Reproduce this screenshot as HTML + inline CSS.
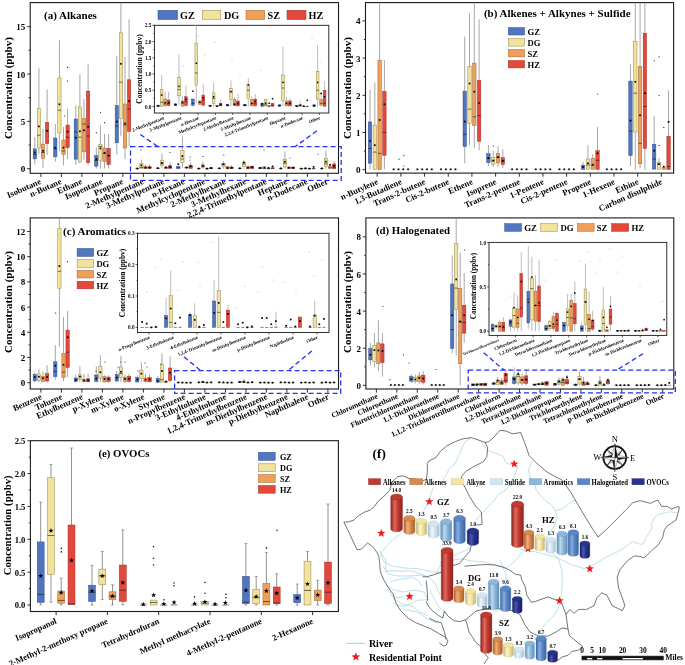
<!DOCTYPE html>
<html><head><meta charset="utf-8"><style>
html,body{margin:0;padding:0;background:#fff;}
svg{display:block;will-change:transform;}
</style></head><body>
<svg width="685" height="665" viewBox="0 0 685 665">
<rect width="685" height="665" fill="#fff"/>
<defs><linearGradient id="g0" x1="0" x2="1" y1="0" y2="0"><stop offset="0" stop-color="#8e231d"/><stop offset="0.35" stop-color="#e06a5e"/><stop offset="0.6" stop-color="#c03a32"/><stop offset="1" stop-color="#8e231d"/></linearGradient><linearGradient id="g1" x1="0" x2="1" y1="0" y2="0"><stop offset="0" stop-color="#a8602e"/><stop offset="0.35" stop-color="#f0ae78"/><stop offset="0.6" stop-color="#d98a4e"/><stop offset="1" stop-color="#a8602e"/></linearGradient><linearGradient id="g2" x1="0" x2="1" y1="0" y2="0"><stop offset="0" stop-color="#c4b574"/><stop offset="0.35" stop-color="#fbf3cc"/><stop offset="0.6" stop-color="#f1e5a4"/><stop offset="1" stop-color="#c4b574"/></linearGradient><linearGradient id="g3" x1="0" x2="1" y1="0" y2="0"><stop offset="0" stop-color="#a8bfd0"/><stop offset="0.35" stop-color="#eef6fb"/><stop offset="0.6" stop-color="#d3e5f1"/><stop offset="1" stop-color="#a8bfd0"/></linearGradient><linearGradient id="g4" x1="0" x2="1" y1="0" y2="0"><stop offset="0" stop-color="#5f8fb8"/><stop offset="0.35" stop-color="#bcd8ef"/><stop offset="0.6" stop-color="#8cb7dc"/><stop offset="1" stop-color="#5f8fb8"/></linearGradient><linearGradient id="g5" x1="0" x2="1" y1="0" y2="0"><stop offset="0" stop-color="#3b65a2"/><stop offset="0.35" stop-color="#8aaee0"/><stop offset="0.6" stop-color="#5a88c6"/><stop offset="1" stop-color="#3b65a2"/></linearGradient><linearGradient id="g6" x1="0" x2="1" y1="0" y2="0"><stop offset="0" stop-color="#161f60"/><stop offset="0.35" stop-color="#4a56b0"/><stop offset="0.6" stop-color="#27338c"/><stop offset="1" stop-color="#161f60"/></linearGradient></defs>
<rect x="30.2" y="2.6" width="308.3" height="170.7" fill="none" stroke="#1a1a1a" stroke-width="1.1"/>
<line x1="27.2" y1="168.7" x2="30.2" y2="168.7" stroke="#1a1a1a" stroke-width="0.9"/>
<text x="25.2" y="172.21" font-size="9" text-anchor="end" font-family="Liberation Serif" font-weight="bold">0</text>
<line x1="27.2" y1="121.35" x2="30.2" y2="121.35" stroke="#1a1a1a" stroke-width="0.9"/>
<text x="25.2" y="124.86" font-size="9" text-anchor="end" font-family="Liberation Serif" font-weight="bold">5</text>
<line x1="27.2" y1="74" x2="30.2" y2="74" stroke="#1a1a1a" stroke-width="0.9"/>
<text x="25.2" y="77.51" font-size="9" text-anchor="end" font-family="Liberation Serif" font-weight="bold">10</text>
<line x1="27.2" y1="26.65" x2="30.2" y2="26.65" stroke="#1a1a1a" stroke-width="0.9"/>
<text x="25.2" y="30.16" font-size="9" text-anchor="end" font-family="Liberation Serif" font-weight="bold">15</text>
<line x1="28.6" y1="145.02" x2="30.2" y2="145.02" stroke="#1a1a1a" stroke-width="0.9"/>
<line x1="28.6" y1="97.67" x2="30.2" y2="97.67" stroke="#1a1a1a" stroke-width="0.9"/>
<line x1="28.6" y1="50.32" x2="30.2" y2="50.32" stroke="#1a1a1a" stroke-width="0.9"/>
<text transform="translate(8,88) rotate(-90)" font-size="11" text-anchor="middle" dominant-baseline="central" font-family="Liberation Serif" font-weight="bold">Concentration (ppbv)</text>
<line x1="40.9" y1="173.3" x2="40.9" y2="176.9" stroke="#1a1a1a" stroke-width="0.9"/>
<line x1="61.4" y1="173.3" x2="61.4" y2="176.9" stroke="#1a1a1a" stroke-width="0.9"/>
<line x1="81.9" y1="173.3" x2="81.9" y2="176.9" stroke="#1a1a1a" stroke-width="0.9"/>
<line x1="102.4" y1="173.3" x2="102.4" y2="176.9" stroke="#1a1a1a" stroke-width="0.9"/>
<line x1="122.9" y1="173.3" x2="122.9" y2="176.9" stroke="#1a1a1a" stroke-width="0.9"/>
<line x1="143.4" y1="173.3" x2="143.4" y2="176.9" stroke="#1a1a1a" stroke-width="0.9"/>
<line x1="163.9" y1="173.3" x2="163.9" y2="176.9" stroke="#1a1a1a" stroke-width="0.9"/>
<line x1="184.4" y1="173.3" x2="184.4" y2="176.9" stroke="#1a1a1a" stroke-width="0.9"/>
<line x1="204.9" y1="173.3" x2="204.9" y2="176.9" stroke="#1a1a1a" stroke-width="0.9"/>
<line x1="225.4" y1="173.3" x2="225.4" y2="176.9" stroke="#1a1a1a" stroke-width="0.9"/>
<line x1="245.9" y1="173.3" x2="245.9" y2="176.9" stroke="#1a1a1a" stroke-width="0.9"/>
<line x1="266.4" y1="173.3" x2="266.4" y2="176.9" stroke="#1a1a1a" stroke-width="0.9"/>
<line x1="286.9" y1="173.3" x2="286.9" y2="176.9" stroke="#1a1a1a" stroke-width="0.9"/>
<line x1="307.4" y1="173.3" x2="307.4" y2="176.9" stroke="#1a1a1a" stroke-width="0.9"/>
<line x1="327.9" y1="173.3" x2="327.9" y2="176.9" stroke="#1a1a1a" stroke-width="0.9"/>
<line x1="34.8" y1="136.9" x2="34.8" y2="148.9" stroke="#8a8a8a" stroke-width="0.75"/>
<line x1="34.8" y1="158.9" x2="34.8" y2="164.5" stroke="#8a8a8a" stroke-width="0.75"/>
<rect x="33.15" y="148.9" width="3.3" height="10" fill="#5175be" stroke="#2f4f8c" stroke-width="0.5"/>
<line x1="33.15" y1="154.5" x2="36.45" y2="154.5" stroke="#111" stroke-width="0.6"/>
<rect x="33.95" y="151.55" width="1.7" height="1.7" fill="#000"/>
<line x1="38.9" y1="68.3" x2="38.9" y2="108.6" stroke="#8a8a8a" stroke-width="0.75"/>
<line x1="38.9" y1="148" x2="38.9" y2="154" stroke="#8a8a8a" stroke-width="0.75"/>
<rect x="37.25" y="108.6" width="3.3" height="39.4" fill="#f2e29c" stroke="#8f8450" stroke-width="0.5"/>
<line x1="37.25" y1="135.3" x2="40.55" y2="135.3" stroke="#111" stroke-width="0.6"/>
<rect x="38.05" y="125.55" width="1.7" height="1.7" fill="#000"/>
<line x1="43" y1="128.7" x2="43" y2="144.1" stroke="#8a8a8a" stroke-width="0.75"/>
<line x1="43" y1="158.4" x2="43" y2="167.7" stroke="#8a8a8a" stroke-width="0.75"/>
<rect x="41.35" y="144.1" width="3.3" height="14.3" fill="#ef9f58" stroke="#9c6433" stroke-width="0.5"/>
<line x1="41.35" y1="152.5" x2="44.65" y2="152.5" stroke="#111" stroke-width="0.6"/>
<rect x="42.15" y="149.95" width="1.7" height="1.7" fill="#000"/>
<line x1="47.1" y1="89.3" x2="47.1" y2="122.3" stroke="#8a8a8a" stroke-width="0.75"/>
<line x1="47.1" y1="143.6" x2="47.1" y2="154.9" stroke="#8a8a8a" stroke-width="0.75"/>
<rect x="45.45" y="122.3" width="3.3" height="21.3" fill="#e4483b" stroke="#9a2e24" stroke-width="0.5"/>
<line x1="45.45" y1="131" x2="48.75" y2="131" stroke="#111" stroke-width="0.6"/>
<rect x="46.25" y="129.95" width="1.7" height="1.7" fill="#000"/>
<line x1="55.3" y1="124" x2="55.3" y2="138" stroke="#8a8a8a" stroke-width="0.75"/>
<line x1="55.3" y1="156.8" x2="55.3" y2="161.8" stroke="#8a8a8a" stroke-width="0.75"/>
<rect x="53.65" y="138" width="3.3" height="18.8" fill="#5175be" stroke="#2f4f8c" stroke-width="0.5"/>
<line x1="53.65" y1="149" x2="56.95" y2="149" stroke="#111" stroke-width="0.6"/>
<rect x="54.45" y="146.75" width="1.7" height="1.7" fill="#000"/>
<line x1="59.4" y1="40.1" x2="59.4" y2="77.9" stroke="#8a8a8a" stroke-width="0.75"/>
<line x1="59.4" y1="132.9" x2="59.4" y2="150.8" stroke="#8a8a8a" stroke-width="0.75"/>
<rect x="57.75" y="77.9" width="3.3" height="55" fill="#f2e29c" stroke="#8f8450" stroke-width="0.5"/>
<line x1="57.75" y1="110.2" x2="61.05" y2="110.2" stroke="#111" stroke-width="0.6"/>
<rect x="58.55" y="103.45" width="1.7" height="1.7" fill="#000"/>
<line x1="63.5" y1="127" x2="63.5" y2="140" stroke="#8a8a8a" stroke-width="0.75"/>
<line x1="63.5" y1="154.4" x2="63.5" y2="165.3" stroke="#8a8a8a" stroke-width="0.75"/>
<rect x="61.85" y="140" width="3.3" height="14.4" fill="#ef9f58" stroke="#9c6433" stroke-width="0.5"/>
<line x1="61.85" y1="151" x2="65.15" y2="151" stroke="#111" stroke-width="0.6"/>
<rect x="62.65" y="146.75" width="1.7" height="1.7" fill="#000"/>
<line x1="67.6" y1="108.8" x2="67.6" y2="125.1" stroke="#8a8a8a" stroke-width="0.75"/>
<line x1="67.6" y1="147.6" x2="67.6" y2="158.9" stroke="#8a8a8a" stroke-width="0.75"/>
<rect x="65.95" y="125.1" width="3.3" height="22.5" fill="#e4483b" stroke="#9a2e24" stroke-width="0.5"/>
<line x1="65.95" y1="137.2" x2="69.25" y2="137.2" stroke="#111" stroke-width="0.6"/>
<rect x="66.75" y="130.75" width="1.7" height="1.7" fill="#000"/>
<line x1="75.8" y1="105.4" x2="75.8" y2="119" stroke="#8a8a8a" stroke-width="0.75"/>
<line x1="75.8" y1="159.2" x2="75.8" y2="164.5" stroke="#8a8a8a" stroke-width="0.75"/>
<rect x="74.15" y="119" width="3.3" height="40.2" fill="#5175be" stroke="#2f4f8c" stroke-width="0.5"/>
<line x1="74.15" y1="132" x2="77.45" y2="132" stroke="#111" stroke-width="0.6"/>
<rect x="74.95" y="136.85" width="1.7" height="1.7" fill="#000"/>
<line x1="79.9" y1="74.2" x2="79.9" y2="107" stroke="#8a8a8a" stroke-width="0.75"/>
<line x1="79.9" y1="161.4" x2="79.9" y2="163.4" stroke="#8a8a8a" stroke-width="0.75"/>
<rect x="78.25" y="107" width="3.3" height="54.4" fill="#f2e29c" stroke="#8f8450" stroke-width="0.5"/>
<line x1="78.25" y1="137.2" x2="81.55" y2="137.2" stroke="#111" stroke-width="0.6"/>
<rect x="79.05" y="130.45" width="1.7" height="1.7" fill="#000"/>
<line x1="84" y1="99.1" x2="84" y2="118.4" stroke="#8a8a8a" stroke-width="0.75"/>
<line x1="84" y1="151.8" x2="84" y2="159.7" stroke="#8a8a8a" stroke-width="0.75"/>
<rect x="82.35" y="118.4" width="3.3" height="33.4" fill="#ef9f58" stroke="#9c6433" stroke-width="0.5"/>
<line x1="82.35" y1="124" x2="85.65" y2="124" stroke="#111" stroke-width="0.6"/>
<rect x="83.15" y="129.45" width="1.7" height="1.7" fill="#000"/>
<line x1="88.1" y1="63.9" x2="88.1" y2="91.1" stroke="#8a8a8a" stroke-width="0.75"/>
<line x1="88.1" y1="162.7" x2="88.1" y2="165.3" stroke="#8a8a8a" stroke-width="0.75"/>
<rect x="86.45" y="91.1" width="3.3" height="71.6" fill="#e4483b" stroke="#9a2e24" stroke-width="0.5"/>
<line x1="86.45" y1="136" x2="89.75" y2="136" stroke="#111" stroke-width="0.6"/>
<rect x="87.25" y="125.95" width="1.7" height="1.7" fill="#000"/>
<line x1="96.3" y1="147.3" x2="96.3" y2="155.7" stroke="#8a8a8a" stroke-width="0.75"/>
<line x1="96.3" y1="166.1" x2="96.3" y2="168.5" stroke="#8a8a8a" stroke-width="0.75"/>
<rect x="94.65" y="155.7" width="3.3" height="10.4" fill="#5175be" stroke="#2f4f8c" stroke-width="0.5"/>
<line x1="94.65" y1="160.5" x2="97.95" y2="160.5" stroke="#111" stroke-width="0.6"/>
<rect x="95.45" y="158.35" width="1.7" height="1.7" fill="#000"/>
<line x1="100.4" y1="125.1" x2="100.4" y2="144.4" stroke="#8a8a8a" stroke-width="0.75"/>
<line x1="100.4" y1="160.5" x2="100.4" y2="168.5" stroke="#8a8a8a" stroke-width="0.75"/>
<rect x="98.75" y="144.4" width="3.3" height="16.1" fill="#f2e29c" stroke="#8f8450" stroke-width="0.5"/>
<line x1="98.75" y1="146.5" x2="102.05" y2="146.5" stroke="#111" stroke-width="0.6"/>
<rect x="99.55" y="147.55" width="1.7" height="1.7" fill="#000"/>
<line x1="104.5" y1="134" x2="104.5" y2="148" stroke="#8a8a8a" stroke-width="0.75"/>
<line x1="104.5" y1="161.6" x2="104.5" y2="168.5" stroke="#8a8a8a" stroke-width="0.75"/>
<rect x="102.85" y="148" width="3.3" height="13.6" fill="#ef9f58" stroke="#9c6433" stroke-width="0.5"/>
<line x1="102.85" y1="153.5" x2="106.15" y2="153.5" stroke="#111" stroke-width="0.6"/>
<rect x="103.65" y="151.95" width="1.7" height="1.7" fill="#000"/>
<line x1="108.6" y1="134" x2="108.6" y2="148.4" stroke="#8a8a8a" stroke-width="0.75"/>
<line x1="108.6" y1="164.5" x2="108.6" y2="168.5" stroke="#8a8a8a" stroke-width="0.75"/>
<rect x="106.95" y="148.4" width="3.3" height="16.1" fill="#e4483b" stroke="#9a2e24" stroke-width="0.5"/>
<line x1="106.95" y1="155.5" x2="110.25" y2="155.5" stroke="#111" stroke-width="0.6"/>
<rect x="107.75" y="154.85" width="1.7" height="1.7" fill="#000"/>
<line x1="116.8" y1="56.2" x2="116.8" y2="105.6" stroke="#8a8a8a" stroke-width="0.75"/>
<line x1="116.8" y1="142.8" x2="116.8" y2="154.4" stroke="#8a8a8a" stroke-width="0.75"/>
<rect x="115.15" y="105.6" width="3.3" height="37.2" fill="#5175be" stroke="#2f4f8c" stroke-width="0.5"/>
<line x1="115.15" y1="126" x2="118.45" y2="126" stroke="#111" stroke-width="0.6"/>
<rect x="115.95" y="120.75" width="1.7" height="1.7" fill="#000"/>
<line x1="120.9" y1="2.6" x2="120.9" y2="32.9" stroke="#8a8a8a" stroke-width="0.75"/>
<line x1="120.9" y1="118.4" x2="120.9" y2="136.4" stroke="#8a8a8a" stroke-width="0.75"/>
<rect x="119.25" y="32.9" width="3.3" height="85.5" fill="#f2e29c" stroke="#8f8450" stroke-width="0.5"/>
<line x1="119.25" y1="82.2" x2="122.55" y2="82.2" stroke="#111" stroke-width="0.6"/>
<rect x="120.05" y="62.95" width="1.7" height="1.7" fill="#000"/>
<line x1="125" y1="57" x2="125" y2="104" stroke="#8a8a8a" stroke-width="0.75"/>
<line x1="125" y1="148" x2="125" y2="159.2" stroke="#8a8a8a" stroke-width="0.75"/>
<rect x="123.35" y="104" width="3.3" height="44" fill="#ef9f58" stroke="#9c6433" stroke-width="0.5"/>
<line x1="123.35" y1="125" x2="126.65" y2="125" stroke="#111" stroke-width="0.6"/>
<rect x="124.15" y="122.65" width="1.7" height="1.7" fill="#000"/>
<line x1="129.1" y1="19.3" x2="129.1" y2="79.8" stroke="#8a8a8a" stroke-width="0.75"/>
<line x1="129.1" y1="131.3" x2="129.1" y2="146" stroke="#8a8a8a" stroke-width="0.75"/>
<rect x="127.45" y="79.8" width="3.3" height="51.5" fill="#e4483b" stroke="#9a2e24" stroke-width="0.5"/>
<line x1="127.45" y1="109" x2="130.75" y2="109" stroke="#111" stroke-width="0.6"/>
<rect x="128.25" y="100.15" width="1.7" height="1.7" fill="#000"/>
<line x1="137.3" y1="168.23" x2="137.3" y2="168.32" stroke="#8a8a8a" stroke-width="0.75"/>
<line x1="135.65" y1="168.7" x2="138.95" y2="168.7" stroke="#666" stroke-width="0.8"/>
<line x1="135.65" y1="168.51" x2="138.95" y2="168.51" stroke="#111" stroke-width="0.6"/>
<rect x="136.45" y="167.66" width="1.7" height="1.7" fill="#000"/>
<line x1="141.4" y1="159.51" x2="141.4" y2="163.68" stroke="#8a8a8a" stroke-width="0.75"/>
<rect x="139.75" y="163.68" width="3.3" height="5.02" fill="#f2e29c" stroke="#8f8450" stroke-width="0.5"/>
<line x1="139.75" y1="167.47" x2="143.05" y2="167.47" stroke="#111" stroke-width="0.6"/>
<rect x="140.55" y="164.54" width="1.7" height="1.7" fill="#000"/>
<line x1="145.5" y1="164.44" x2="145.5" y2="166.52" stroke="#8a8a8a" stroke-width="0.75"/>
<line x1="145.5" y1="168.51" x2="145.5" y2="168.7" stroke="#8a8a8a" stroke-width="0.75"/>
<rect x="143.85" y="166.52" width="3.3" height="1.99" fill="#ef9f58" stroke="#9c6433" stroke-width="0.5"/>
<line x1="143.85" y1="167.94" x2="147.15" y2="167.94" stroke="#111" stroke-width="0.6"/>
<rect x="144.65" y="166.71" width="1.7" height="1.7" fill="#000"/>
<line x1="149.6" y1="164.44" x2="149.6" y2="166.81" stroke="#8a8a8a" stroke-width="0.75"/>
<line x1="149.6" y1="168.42" x2="149.6" y2="168.7" stroke="#8a8a8a" stroke-width="0.75"/>
<rect x="147.95" y="166.81" width="3.3" height="1.61" fill="#e4483b" stroke="#9a2e24" stroke-width="0.5"/>
<line x1="147.95" y1="167.75" x2="151.25" y2="167.75" stroke="#111" stroke-width="0.6"/>
<rect x="148.75" y="166.71" width="1.7" height="1.7" fill="#000"/>
<line x1="157.8" y1="167.75" x2="157.8" y2="167.94" stroke="#8a8a8a" stroke-width="0.75"/>
<line x1="157.8" y1="168.42" x2="157.8" y2="168.51" stroke="#8a8a8a" stroke-width="0.75"/>
<line x1="156.15" y1="168.42" x2="159.45" y2="168.42" stroke="#666" stroke-width="0.8"/>
<line x1="156.15" y1="168.23" x2="159.45" y2="168.23" stroke="#111" stroke-width="0.6"/>
<rect x="156.95" y="167.28" width="1.7" height="1.7" fill="#000"/>
<line x1="161.9" y1="153.55" x2="161.9" y2="160.18" stroke="#8a8a8a" stroke-width="0.75"/>
<line x1="161.9" y1="165.57" x2="161.9" y2="168.23" stroke="#8a8a8a" stroke-width="0.75"/>
<rect x="160.25" y="160.18" width="3.3" height="5.4" fill="#f2e29c" stroke="#8f8450" stroke-width="0.5"/>
<line x1="160.25" y1="163.78" x2="163.55" y2="163.78" stroke="#111" stroke-width="0.6"/>
<rect x="161.05" y="161.98" width="1.7" height="1.7" fill="#000"/>
<line x1="166" y1="165.67" x2="166" y2="167.09" stroke="#8a8a8a" stroke-width="0.75"/>
<line x1="166" y1="168.61" x2="166" y2="168.7" stroke="#8a8a8a" stroke-width="0.75"/>
<rect x="164.35" y="167.09" width="3.3" height="1.52" fill="#ef9f58" stroke="#9c6433" stroke-width="0.5"/>
<line x1="164.35" y1="167.75" x2="167.65" y2="167.75" stroke="#111" stroke-width="0.6"/>
<rect x="165.15" y="166.62" width="1.7" height="1.7" fill="#000"/>
<line x1="170.1" y1="162.54" x2="170.1" y2="165.86" stroke="#8a8a8a" stroke-width="0.75"/>
<line x1="170.1" y1="168.42" x2="170.1" y2="168.7" stroke="#8a8a8a" stroke-width="0.75"/>
<rect x="168.45" y="165.86" width="3.3" height="2.56" fill="#e4483b" stroke="#9a2e24" stroke-width="0.5"/>
<line x1="168.45" y1="167.28" x2="171.75" y2="167.28" stroke="#111" stroke-width="0.6"/>
<rect x="169.25" y="165.77" width="1.7" height="1.7" fill="#000"/>
<line x1="178.3" y1="168.42" x2="178.3" y2="168.7" stroke="#8a8a8a" stroke-width="0.75"/>
<rect x="176.65" y="166.52" width="3.3" height="1.89" fill="#5175be" stroke="#2f4f8c" stroke-width="0.5"/>
<line x1="176.65" y1="167.75" x2="179.95" y2="167.75" stroke="#111" stroke-width="0.6"/>
<rect x="177.45" y="163.4" width="1.7" height="1.7" fill="#000"/>
<line x1="182.4" y1="136.5" x2="182.4" y2="150.23" stroke="#8a8a8a" stroke-width="0.75"/>
<line x1="182.4" y1="162.54" x2="182.4" y2="167.75" stroke="#8a8a8a" stroke-width="0.75"/>
<rect x="180.75" y="150.23" width="3.3" height="12.31" fill="#f2e29c" stroke="#8f8450" stroke-width="0.5"/>
<line x1="180.75" y1="158.95" x2="184.05" y2="158.95" stroke="#111" stroke-width="0.6"/>
<rect x="181.55" y="155.25" width="1.7" height="1.7" fill="#000"/>
<line x1="186.5" y1="166.81" x2="186.5" y2="167.09" stroke="#8a8a8a" stroke-width="0.75"/>
<line x1="186.5" y1="168.04" x2="186.5" y2="168.23" stroke="#8a8a8a" stroke-width="0.75"/>
<rect x="184.85" y="167.09" width="3.3" height="0.95" fill="#ef9f58" stroke="#9c6433" stroke-width="0.5"/>
<line x1="184.85" y1="167.56" x2="188.15" y2="167.56" stroke="#111" stroke-width="0.6"/>
<rect x="185.65" y="166.62" width="1.7" height="1.7" fill="#000"/>
<line x1="190.6" y1="162.26" x2="190.6" y2="165.39" stroke="#8a8a8a" stroke-width="0.75"/>
<line x1="190.6" y1="168.32" x2="190.6" y2="168.7" stroke="#8a8a8a" stroke-width="0.75"/>
<rect x="188.95" y="165.39" width="3.3" height="2.94" fill="#e4483b" stroke="#9a2e24" stroke-width="0.5"/>
<line x1="188.95" y1="166.81" x2="192.25" y2="166.81" stroke="#111" stroke-width="0.6"/>
<rect x="189.75" y="165.29" width="1.7" height="1.7" fill="#000"/>
<line x1="198.8" y1="168.23" x2="198.8" y2="168.32" stroke="#8a8a8a" stroke-width="0.75"/>
<line x1="198.8" y1="168.61" x2="198.8" y2="168.7" stroke="#8a8a8a" stroke-width="0.75"/>
<line x1="197.15" y1="168.61" x2="200.45" y2="168.61" stroke="#666" stroke-width="0.8"/>
<line x1="197.15" y1="168.51" x2="200.45" y2="168.51" stroke="#111" stroke-width="0.6"/>
<rect x="197.95" y="167.66" width="1.7" height="1.7" fill="#000"/>
<line x1="202.9" y1="161.79" x2="202.9" y2="164.72" stroke="#8a8a8a" stroke-width="0.75"/>
<line x1="202.9" y1="167.75" x2="202.9" y2="168.7" stroke="#8a8a8a" stroke-width="0.75"/>
<rect x="201.25" y="164.72" width="3.3" height="3.03" fill="#f2e29c" stroke="#8f8450" stroke-width="0.5"/>
<line x1="201.25" y1="166.33" x2="204.55" y2="166.33" stroke="#111" stroke-width="0.6"/>
<rect x="202.05" y="165.01" width="1.7" height="1.7" fill="#000"/>
<line x1="207" y1="168.32" x2="207" y2="168.42" stroke="#8a8a8a" stroke-width="0.75"/>
<line x1="205.35" y1="168.7" x2="208.65" y2="168.7" stroke="#666" stroke-width="0.8"/>
<line x1="205.35" y1="168.61" x2="208.65" y2="168.61" stroke="#111" stroke-width="0.6"/>
<rect x="206.15" y="167.76" width="1.7" height="1.7" fill="#000"/>
<line x1="211.1" y1="166.62" x2="211.1" y2="167.75" stroke="#8a8a8a" stroke-width="0.75"/>
<line x1="211.1" y1="168.51" x2="211.1" y2="168.7" stroke="#8a8a8a" stroke-width="0.75"/>
<rect x="209.45" y="167.75" width="3.3" height="0.76" fill="#e4483b" stroke="#9a2e24" stroke-width="0.5"/>
<line x1="209.45" y1="168.23" x2="212.75" y2="168.23" stroke="#111" stroke-width="0.6"/>
<rect x="210.25" y="167.28" width="1.7" height="1.7" fill="#000"/>
<line x1="219.3" y1="168.04" x2="219.3" y2="168.13" stroke="#8a8a8a" stroke-width="0.75"/>
<line x1="219.3" y1="168.51" x2="219.3" y2="168.7" stroke="#8a8a8a" stroke-width="0.75"/>
<line x1="217.65" y1="168.51" x2="220.95" y2="168.51" stroke="#666" stroke-width="0.8"/>
<line x1="217.65" y1="168.32" x2="220.95" y2="168.32" stroke="#111" stroke-width="0.6"/>
<rect x="218.45" y="167.47" width="1.7" height="1.7" fill="#000"/>
<line x1="223.4" y1="161.12" x2="223.4" y2="163.49" stroke="#8a8a8a" stroke-width="0.75"/>
<line x1="223.4" y1="166.62" x2="223.4" y2="168.7" stroke="#8a8a8a" stroke-width="0.75"/>
<rect x="221.75" y="163.49" width="3.3" height="3.13" fill="#f2e29c" stroke="#8f8450" stroke-width="0.5"/>
<line x1="221.75" y1="164.44" x2="225.05" y2="164.44" stroke="#111" stroke-width="0.6"/>
<rect x="222.55" y="163.49" width="1.7" height="1.7" fill="#000"/>
<line x1="227.5" y1="165.95" x2="227.5" y2="166.62" stroke="#8a8a8a" stroke-width="0.75"/>
<line x1="227.5" y1="168.51" x2="227.5" y2="168.7" stroke="#8a8a8a" stroke-width="0.75"/>
<rect x="225.85" y="166.62" width="3.3" height="1.89" fill="#ef9f58" stroke="#9c6433" stroke-width="0.5"/>
<line x1="225.85" y1="168.04" x2="229.15" y2="168.04" stroke="#111" stroke-width="0.6"/>
<rect x="226.65" y="167.19" width="1.7" height="1.7" fill="#000"/>
<line x1="231.6" y1="165.1" x2="231.6" y2="167.09" stroke="#8a8a8a" stroke-width="0.75"/>
<line x1="231.6" y1="168.51" x2="231.6" y2="168.7" stroke="#8a8a8a" stroke-width="0.75"/>
<rect x="229.95" y="167.09" width="3.3" height="1.42" fill="#e4483b" stroke="#9a2e24" stroke-width="0.5"/>
<line x1="229.95" y1="168.04" x2="233.25" y2="168.04" stroke="#111" stroke-width="0.6"/>
<rect x="230.75" y="166.9" width="1.7" height="1.7" fill="#000"/>
<line x1="239.8" y1="168.04" x2="239.8" y2="168.13" stroke="#8a8a8a" stroke-width="0.75"/>
<line x1="239.8" y1="168.51" x2="239.8" y2="168.7" stroke="#8a8a8a" stroke-width="0.75"/>
<line x1="238.15" y1="168.51" x2="241.45" y2="168.51" stroke="#666" stroke-width="0.8"/>
<line x1="238.15" y1="168.32" x2="241.45" y2="168.32" stroke="#111" stroke-width="0.6"/>
<rect x="238.95" y="167.47" width="1.7" height="1.7" fill="#000"/>
<line x1="243.9" y1="160.46" x2="243.9" y2="162.17" stroke="#8a8a8a" stroke-width="0.75"/>
<line x1="243.9" y1="166.43" x2="243.9" y2="168.7" stroke="#8a8a8a" stroke-width="0.75"/>
<rect x="242.25" y="162.17" width="3.3" height="4.26" fill="#f2e29c" stroke="#8f8450" stroke-width="0.5"/>
<line x1="242.25" y1="163.96" x2="245.55" y2="163.96" stroke="#111" stroke-width="0.6"/>
<rect x="243.05" y="161.6" width="1.7" height="1.7" fill="#000"/>
<line x1="248" y1="165.76" x2="248" y2="166.62" stroke="#8a8a8a" stroke-width="0.75"/>
<line x1="248" y1="168.51" x2="248" y2="168.7" stroke="#8a8a8a" stroke-width="0.75"/>
<rect x="246.35" y="166.62" width="3.3" height="1.89" fill="#ef9f58" stroke="#9c6433" stroke-width="0.5"/>
<line x1="246.35" y1="167.94" x2="249.65" y2="167.94" stroke="#111" stroke-width="0.6"/>
<rect x="247.15" y="166.9" width="1.7" height="1.7" fill="#000"/>
<line x1="252.1" y1="165.1" x2="252.1" y2="166.52" stroke="#8a8a8a" stroke-width="0.75"/>
<line x1="252.1" y1="168.51" x2="252.1" y2="168.7" stroke="#8a8a8a" stroke-width="0.75"/>
<rect x="250.45" y="166.52" width="3.3" height="1.99" fill="#e4483b" stroke="#9a2e24" stroke-width="0.5"/>
<line x1="250.45" y1="167.75" x2="253.75" y2="167.75" stroke="#111" stroke-width="0.6"/>
<rect x="251.25" y="166.33" width="1.7" height="1.7" fill="#000"/>
<rect x="258.65" y="167.75" width="3.3" height="0.95" fill="#5175be" stroke="#2f4f8c" stroke-width="0.5"/>
<line x1="258.65" y1="168.23" x2="261.95" y2="168.23" stroke="#111" stroke-width="0.6"/>
<rect x="259.45" y="167" width="1.7" height="1.7" fill="#000"/>
<line x1="264.4" y1="168.51" x2="264.4" y2="168.7" stroke="#8a8a8a" stroke-width="0.75"/>
<rect x="262.75" y="166.62" width="3.3" height="1.89" fill="#f2e29c" stroke="#8f8450" stroke-width="0.5"/>
<line x1="262.75" y1="168.23" x2="266.05" y2="168.23" stroke="#111" stroke-width="0.6"/>
<rect x="263.55" y="166.9" width="1.7" height="1.7" fill="#000"/>
<line x1="266.85" y1="168.7" x2="270.15" y2="168.7" stroke="#666" stroke-width="0.8"/>
<line x1="266.85" y1="168.61" x2="270.15" y2="168.61" stroke="#111" stroke-width="0.6"/>
<rect x="267.65" y="166.9" width="1.7" height="1.7" fill="#000"/>
<line x1="272.6" y1="168.61" x2="272.6" y2="168.7" stroke="#8a8a8a" stroke-width="0.75"/>
<rect x="270.95" y="167.85" width="3.3" height="0.76" fill="#e4483b" stroke="#9a2e24" stroke-width="0.5"/>
<line x1="270.95" y1="168.32" x2="274.25" y2="168.32" stroke="#111" stroke-width="0.6"/>
<rect x="271.75" y="165.58" width="1.7" height="1.7" fill="#000"/>
<line x1="280.8" y1="168.13" x2="280.8" y2="168.23" stroke="#8a8a8a" stroke-width="0.75"/>
<line x1="280.8" y1="168.61" x2="280.8" y2="168.7" stroke="#8a8a8a" stroke-width="0.75"/>
<line x1="279.15" y1="168.61" x2="282.45" y2="168.61" stroke="#666" stroke-width="0.8"/>
<line x1="279.15" y1="168.42" x2="282.45" y2="168.42" stroke="#111" stroke-width="0.6"/>
<rect x="279.95" y="167.57" width="1.7" height="1.7" fill="#000"/>
<line x1="284.9" y1="151.37" x2="284.9" y2="159.51" stroke="#8a8a8a" stroke-width="0.75"/>
<line x1="284.9" y1="167" x2="284.9" y2="168.7" stroke="#8a8a8a" stroke-width="0.75"/>
<rect x="283.25" y="159.51" width="3.3" height="7.48" fill="#f2e29c" stroke="#8f8450" stroke-width="0.5"/>
<line x1="283.25" y1="163.3" x2="286.55" y2="163.3" stroke="#111" stroke-width="0.6"/>
<rect x="284.05" y="160.84" width="1.7" height="1.7" fill="#000"/>
<line x1="289" y1="165.86" x2="289" y2="167.09" stroke="#8a8a8a" stroke-width="0.75"/>
<line x1="289" y1="168.51" x2="289" y2="168.7" stroke="#8a8a8a" stroke-width="0.75"/>
<rect x="287.35" y="167.09" width="3.3" height="1.42" fill="#ef9f58" stroke="#9c6433" stroke-width="0.5"/>
<line x1="287.35" y1="167.94" x2="290.65" y2="167.94" stroke="#111" stroke-width="0.6"/>
<rect x="288.15" y="166.9" width="1.7" height="1.7" fill="#000"/>
<line x1="293.1" y1="166.33" x2="293.1" y2="167.09" stroke="#8a8a8a" stroke-width="0.75"/>
<line x1="293.1" y1="168.51" x2="293.1" y2="168.7" stroke="#8a8a8a" stroke-width="0.75"/>
<rect x="291.45" y="167.09" width="3.3" height="1.42" fill="#e4483b" stroke="#9a2e24" stroke-width="0.5"/>
<line x1="291.45" y1="167.94" x2="294.75" y2="167.94" stroke="#111" stroke-width="0.6"/>
<rect x="292.25" y="166.9" width="1.7" height="1.7" fill="#000"/>
<line x1="301.3" y1="168.32" x2="301.3" y2="168.42" stroke="#8a8a8a" stroke-width="0.75"/>
<line x1="299.65" y1="168.7" x2="302.95" y2="168.7" stroke="#666" stroke-width="0.8"/>
<line x1="299.65" y1="168.61" x2="302.95" y2="168.61" stroke="#111" stroke-width="0.6"/>
<rect x="300.45" y="167.76" width="1.7" height="1.7" fill="#000"/>
<line x1="305.4" y1="167.37" x2="305.4" y2="168.13" stroke="#8a8a8a" stroke-width="0.75"/>
<line x1="303.75" y1="168.7" x2="307.05" y2="168.7" stroke="#666" stroke-width="0.8"/>
<line x1="303.75" y1="168.42" x2="307.05" y2="168.42" stroke="#111" stroke-width="0.6"/>
<rect x="304.55" y="167.47" width="1.7" height="1.7" fill="#000"/>
<line x1="309.5" y1="168.42" x2="309.5" y2="168.51" stroke="#8a8a8a" stroke-width="0.75"/>
<line x1="307.85" y1="168.7" x2="311.15" y2="168.7" stroke="#666" stroke-width="0.8"/>
<line x1="307.85" y1="168.61" x2="311.15" y2="168.61" stroke="#111" stroke-width="0.6"/>
<rect x="308.65" y="167.76" width="1.7" height="1.7" fill="#000"/>
<line x1="311.95" y1="168.7" x2="315.25" y2="168.7" stroke="#666" stroke-width="0.8"/>
<line x1="311.95" y1="168.65" x2="315.25" y2="168.65" stroke="#111" stroke-width="0.6"/>
<rect x="312.75" y="166.05" width="1.7" height="1.7" fill="#000"/>
<line x1="321.8" y1="168.13" x2="321.8" y2="168.23" stroke="#8a8a8a" stroke-width="0.75"/>
<line x1="320.15" y1="168.7" x2="323.45" y2="168.7" stroke="#666" stroke-width="0.8"/>
<line x1="320.15" y1="168.51" x2="323.45" y2="168.51" stroke="#111" stroke-width="0.6"/>
<rect x="320.95" y="167.57" width="1.7" height="1.7" fill="#000"/>
<line x1="325.9" y1="150.71" x2="325.9" y2="158.57" stroke="#8a8a8a" stroke-width="0.75"/>
<line x1="325.9" y1="166.52" x2="325.9" y2="168.7" stroke="#8a8a8a" stroke-width="0.75"/>
<rect x="324.25" y="158.57" width="3.3" height="7.95" fill="#f2e29c" stroke="#8f8450" stroke-width="0.5"/>
<line x1="324.25" y1="163.96" x2="327.55" y2="163.96" stroke="#111" stroke-width="0.6"/>
<rect x="325.05" y="160.84" width="1.7" height="1.7" fill="#000"/>
<line x1="330" y1="164.44" x2="330" y2="166.62" stroke="#8a8a8a" stroke-width="0.75"/>
<line x1="330" y1="168.32" x2="330" y2="168.7" stroke="#8a8a8a" stroke-width="0.75"/>
<rect x="328.35" y="166.62" width="3.3" height="1.7" fill="#ef9f58" stroke="#9c6433" stroke-width="0.5"/>
<line x1="328.35" y1="167.75" x2="331.65" y2="167.75" stroke="#111" stroke-width="0.6"/>
<rect x="329.15" y="164.06" width="1.7" height="1.7" fill="#000"/>
<line x1="334.1" y1="161.31" x2="334.1" y2="163.96" stroke="#8a8a8a" stroke-width="0.75"/>
<line x1="334.1" y1="168.61" x2="334.1" y2="168.7" stroke="#8a8a8a" stroke-width="0.75"/>
<rect x="332.45" y="163.96" width="3.3" height="4.64" fill="#e4483b" stroke="#9a2e24" stroke-width="0.5"/>
<line x1="332.45" y1="167.75" x2="335.75" y2="167.75" stroke="#111" stroke-width="0.6"/>
<rect x="333.25" y="165.01" width="1.7" height="1.7" fill="#000"/>
<circle cx="100.6" cy="112.3" r="0.6" fill="#222"/>
<circle cx="104.6" cy="122.7" r="0.6" fill="#222"/>
<circle cx="96.3" cy="132.7" r="0.6" fill="#222"/>
<circle cx="64.5" cy="116" r="0.6" fill="#222"/>
<circle cx="67.5" cy="67.4" r="0.6" fill="#222"/>
<circle cx="67.5" cy="81.1" r="0.6" fill="#222"/>
<circle cx="141" cy="150" r="0.6" fill="#222"/>
<circle cx="170" cy="152.5" r="0.6" fill="#222"/>
<circle cx="190" cy="157" r="0.6" fill="#222"/>
<circle cx="190" cy="160" r="0.6" fill="#222"/>
<circle cx="203" cy="156.5" r="0.6" fill="#222"/>
<circle cx="223.8" cy="155" r="0.6" fill="#222"/>
<circle cx="264" cy="150" r="0.6" fill="#222"/>
<circle cx="290" cy="158" r="0.6" fill="#222"/>
<circle cx="318" cy="154" r="0.6" fill="#222"/>
<text transform="translate(41.7,183.4) rotate(-24)" font-size="8.6" text-anchor="end" font-family="Liberation Serif" font-weight="bold" >Isobutane</text>
<text transform="translate(62.2,183.4) rotate(-24)" font-size="8.6" text-anchor="end" font-family="Liberation Serif" font-weight="bold" >n-Butane</text>
<text transform="translate(82.7,183.4) rotate(-24)" font-size="8.6" text-anchor="end" font-family="Liberation Serif" font-weight="bold" >Ethane</text>
<text transform="translate(103.2,183.4) rotate(-24)" font-size="8.6" text-anchor="end" font-family="Liberation Serif" font-weight="bold" >Isopentane</text>
<text transform="translate(123.7,183.4) rotate(-24)" font-size="8.6" text-anchor="end" font-family="Liberation Serif" font-weight="bold" >Propane</text>
<text transform="translate(144.2,183.4) rotate(-24)" font-size="8.6" text-anchor="end" font-family="Liberation Serif" font-weight="bold" >2-Methylpentane</text>
<text transform="translate(164.7,183.4) rotate(-24)" font-size="8.6" text-anchor="end" font-family="Liberation Serif" font-weight="bold" >3-Methylpentane</text>
<text transform="translate(185.2,183.4) rotate(-24)" font-size="8.6" text-anchor="end" font-family="Liberation Serif" font-weight="bold" >n-Hexane</text>
<text transform="translate(205.7,183.4) rotate(-24)" font-size="8.6" text-anchor="end" font-family="Liberation Serif" font-weight="bold" >Methylcyclopentane</text>
<text transform="translate(226.2,183.4) rotate(-24)" font-size="8.6" text-anchor="end" font-family="Liberation Serif" font-weight="bold" >2-Methylhexane</text>
<text transform="translate(246.7,183.4) rotate(-24)" font-size="8.6" text-anchor="end" font-family="Liberation Serif" font-weight="bold" >3-Methylhexane</text>
<text transform="translate(267.2,183.4) rotate(-24)" font-size="8.6" text-anchor="end" font-family="Liberation Serif" font-weight="bold" >2,2,4-Trimethylpentane</text>
<text transform="translate(287.7,183.4) rotate(-24)" font-size="8.6" text-anchor="end" font-family="Liberation Serif" font-weight="bold" >Heptane</text>
<text transform="translate(308.2,183.4) rotate(-24)" font-size="8.6" text-anchor="end" font-family="Liberation Serif" font-weight="bold" >n-Dodecane</text>
<text transform="translate(328.7,183.4) rotate(-24)" font-size="8.6" text-anchor="end" font-family="Liberation Serif" font-weight="bold" >Other</text>
<text x="44" y="19" font-size="11" text-anchor="start" font-family="Liberation Serif" font-weight="bold" >(a) Alkanes</text>
<rect x="158" y="10.3" width="19.6" height="9.2" fill="#5175be" stroke="#2f4f8c" stroke-width="0.5"/>
<text x="180" y="19.3" font-size="10.2" text-anchor="start" font-family="Liberation Serif" font-weight="bold" >GZ</text>
<rect x="202.4" y="10.3" width="18.4" height="9.2" fill="#f2e29c" stroke="#8f8450" stroke-width="0.5"/>
<text x="224" y="19.3" font-size="10.2" text-anchor="start" font-family="Liberation Serif" font-weight="bold" >DG</text>
<rect x="246" y="10.3" width="18.6" height="9.2" fill="#ef9f58" stroke="#9c6433" stroke-width="0.5"/>
<text x="267.6" y="19.3" font-size="10.2" text-anchor="start" font-family="Liberation Serif" font-weight="bold" >SZ</text>
<rect x="287" y="10.3" width="19" height="9.2" fill="#e4483b" stroke="#9a2e24" stroke-width="0.5"/>
<text x="308.6" y="19.3" font-size="10.2" text-anchor="start" font-family="Liberation Serif" font-weight="bold" >HZ</text>
<rect x="154.4" y="25.3" width="174.4" height="87.7" fill="#fff"/>
<rect x="154.4" y="25.3" width="174.4" height="87.7" fill="none" stroke="#1a1a1a" stroke-width="0.9"/>
<line x1="152.4" y1="106.5" x2="154.4" y2="106.5" stroke="#1a1a1a" stroke-width="0.7"/>
<text x="151.4" y="108.53" font-size="5.2" text-anchor="end" font-family="Liberation Serif" font-weight="bold">0.0</text>
<line x1="152.4" y1="90.25" x2="154.4" y2="90.25" stroke="#1a1a1a" stroke-width="0.7"/>
<text x="151.4" y="92.28" font-size="5.2" text-anchor="end" font-family="Liberation Serif" font-weight="bold">0.5</text>
<line x1="152.4" y1="74" x2="154.4" y2="74" stroke="#1a1a1a" stroke-width="0.7"/>
<text x="151.4" y="76.03" font-size="5.2" text-anchor="end" font-family="Liberation Serif" font-weight="bold">1.0</text>
<line x1="152.4" y1="57.75" x2="154.4" y2="57.75" stroke="#1a1a1a" stroke-width="0.7"/>
<text x="151.4" y="59.78" font-size="5.2" text-anchor="end" font-family="Liberation Serif" font-weight="bold">1.5</text>
<line x1="152.4" y1="41.5" x2="154.4" y2="41.5" stroke="#1a1a1a" stroke-width="0.7"/>
<text x="151.4" y="43.53" font-size="5.2" text-anchor="end" font-family="Liberation Serif" font-weight="bold">2.0</text>
<line x1="152.4" y1="25.25" x2="154.4" y2="25.25" stroke="#1a1a1a" stroke-width="0.7"/>
<text x="151.4" y="27.28" font-size="5.2" text-anchor="end" font-family="Liberation Serif" font-weight="bold">2.5</text>
<line x1="153.4" y1="98.38" x2="154.4" y2="98.38" stroke="#1a1a1a" stroke-width="0.7"/>
<line x1="153.4" y1="82.12" x2="154.4" y2="82.12" stroke="#1a1a1a" stroke-width="0.7"/>
<line x1="153.4" y1="65.88" x2="154.4" y2="65.88" stroke="#1a1a1a" stroke-width="0.7"/>
<line x1="153.4" y1="49.62" x2="154.4" y2="49.62" stroke="#1a1a1a" stroke-width="0.7"/>
<line x1="153.4" y1="33.38" x2="154.4" y2="33.38" stroke="#1a1a1a" stroke-width="0.7"/>
<text transform="translate(139.9,69) rotate(-90)" font-size="7.5" text-anchor="middle" dominant-baseline="central" font-family="Liberation Serif" font-weight="bold">Concentration (ppbv)</text>
<line x1="163.4" y1="113" x2="163.4" y2="115" stroke="#1a1a1a" stroke-width="0.7"/>
<line x1="180.73" y1="113" x2="180.73" y2="115" stroke="#1a1a1a" stroke-width="0.7"/>
<line x1="198.06" y1="113" x2="198.06" y2="115" stroke="#1a1a1a" stroke-width="0.7"/>
<line x1="215.39" y1="113" x2="215.39" y2="115" stroke="#1a1a1a" stroke-width="0.7"/>
<line x1="232.72" y1="113" x2="232.72" y2="115" stroke="#1a1a1a" stroke-width="0.7"/>
<line x1="250.05" y1="113" x2="250.05" y2="115" stroke="#1a1a1a" stroke-width="0.7"/>
<line x1="267.38" y1="113" x2="267.38" y2="115" stroke="#1a1a1a" stroke-width="0.7"/>
<line x1="284.71" y1="113" x2="284.71" y2="115" stroke="#1a1a1a" stroke-width="0.7"/>
<line x1="302.04" y1="113" x2="302.04" y2="115" stroke="#1a1a1a" stroke-width="0.7"/>
<line x1="319.37" y1="113" x2="319.37" y2="115" stroke="#1a1a1a" stroke-width="0.7"/>
<line x1="158.2" y1="104.88" x2="158.2" y2="105.2" stroke="#a5a5a5" stroke-width="0.75"/>
<rect x="156.85" y="105.2" width="2.7" height="1.3" fill="#5175be" stroke="#2f4f8c" stroke-width="0.5"/>
<line x1="156.85" y1="105.85" x2="159.55" y2="105.85" stroke="#111" stroke-width="0.6"/>
<rect x="157.46" y="105.11" width="1.49" height="1.49" fill="#000"/>
<line x1="161.65" y1="74.97" x2="161.65" y2="89.28" stroke="#a5a5a5" stroke-width="0.75"/>
<rect x="160.3" y="89.28" width="2.7" height="17.22" fill="#f2e29c" stroke="#8f8450" stroke-width="0.5"/>
<line x1="160.3" y1="102.28" x2="163" y2="102.28" stroke="#111" stroke-width="0.6"/>
<rect x="160.91" y="94.38" width="1.49" height="1.49" fill="#000"/>
<line x1="165.15" y1="91.88" x2="165.15" y2="99.03" stroke="#a5a5a5" stroke-width="0.75"/>
<line x1="165.15" y1="105.85" x2="165.15" y2="106.5" stroke="#a5a5a5" stroke-width="0.75"/>
<rect x="163.8" y="99.03" width="2.7" height="6.82" fill="#ef9f58" stroke="#9c6433" stroke-width="0.5"/>
<line x1="163.8" y1="103.9" x2="166.5" y2="103.9" stroke="#111" stroke-width="0.6"/>
<rect x="164.41" y="101.86" width="1.49" height="1.49" fill="#000"/>
<line x1="168.6" y1="91.88" x2="168.6" y2="100" stroke="#a5a5a5" stroke-width="0.75"/>
<line x1="168.6" y1="105.53" x2="168.6" y2="106.5" stroke="#a5a5a5" stroke-width="0.75"/>
<rect x="167.25" y="100" width="2.7" height="5.53" fill="#e4483b" stroke="#9a2e24" stroke-width="0.5"/>
<line x1="167.25" y1="103.25" x2="169.95" y2="103.25" stroke="#111" stroke-width="0.6"/>
<rect x="167.86" y="101.86" width="1.49" height="1.49" fill="#000"/>
<line x1="175.53" y1="103.25" x2="175.53" y2="103.9" stroke="#a5a5a5" stroke-width="0.75"/>
<line x1="175.53" y1="105.53" x2="175.53" y2="105.85" stroke="#a5a5a5" stroke-width="0.75"/>
<rect x="174.18" y="103.9" width="2.7" height="1.62" fill="#5175be" stroke="#2f4f8c" stroke-width="0.5"/>
<line x1="174.18" y1="104.88" x2="176.88" y2="104.88" stroke="#111" stroke-width="0.6"/>
<rect x="174.79" y="103.81" width="1.49" height="1.49" fill="#000"/>
<line x1="178.98" y1="54.5" x2="178.98" y2="77.25" stroke="#a5a5a5" stroke-width="0.75"/>
<line x1="178.98" y1="95.78" x2="178.98" y2="104.88" stroke="#a5a5a5" stroke-width="0.75"/>
<rect x="177.63" y="77.25" width="2.7" height="18.53" fill="#f2e29c" stroke="#8f8450" stroke-width="0.5"/>
<line x1="177.63" y1="89.6" x2="180.33" y2="89.6" stroke="#111" stroke-width="0.6"/>
<rect x="178.24" y="85.61" width="1.49" height="1.49" fill="#000"/>
<line x1="182.48" y1="96.1" x2="182.48" y2="100.97" stroke="#a5a5a5" stroke-width="0.75"/>
<line x1="182.48" y1="106.17" x2="182.48" y2="106.5" stroke="#a5a5a5" stroke-width="0.75"/>
<rect x="181.13" y="100.97" width="2.7" height="5.2" fill="#ef9f58" stroke="#9c6433" stroke-width="0.5"/>
<line x1="181.13" y1="103.25" x2="183.83" y2="103.25" stroke="#111" stroke-width="0.6"/>
<rect x="181.74" y="101.53" width="1.49" height="1.49" fill="#000"/>
<line x1="185.93" y1="85.38" x2="185.93" y2="96.75" stroke="#a5a5a5" stroke-width="0.75"/>
<line x1="185.93" y1="105.53" x2="185.93" y2="106.5" stroke="#a5a5a5" stroke-width="0.75"/>
<rect x="184.58" y="96.75" width="2.7" height="8.78" fill="#e4483b" stroke="#9a2e24" stroke-width="0.5"/>
<line x1="184.58" y1="101.62" x2="187.28" y2="101.62" stroke="#111" stroke-width="0.6"/>
<rect x="185.19" y="98.61" width="1.49" height="1.49" fill="#000"/>
<line x1="192.86" y1="105.53" x2="192.86" y2="106.5" stroke="#a5a5a5" stroke-width="0.75"/>
<rect x="191.51" y="99.03" width="2.7" height="6.5" fill="#5175be" stroke="#2f4f8c" stroke-width="0.5"/>
<line x1="191.51" y1="103.25" x2="194.21" y2="103.25" stroke="#111" stroke-width="0.6"/>
<rect x="192.12" y="90.48" width="1.49" height="1.49" fill="#000"/>
<line x1="196.31" y1="25.3" x2="196.31" y2="43.12" stroke="#a5a5a5" stroke-width="0.75"/>
<line x1="196.31" y1="85.38" x2="196.31" y2="103.25" stroke="#a5a5a5" stroke-width="0.75"/>
<rect x="194.96" y="43.12" width="2.7" height="42.25" fill="#f2e29c" stroke="#8f8450" stroke-width="0.5"/>
<line x1="194.96" y1="73.03" x2="197.66" y2="73.03" stroke="#111" stroke-width="0.6"/>
<rect x="195.57" y="62.53" width="1.49" height="1.49" fill="#000"/>
<line x1="199.81" y1="100" x2="199.81" y2="100.97" stroke="#a5a5a5" stroke-width="0.75"/>
<line x1="199.81" y1="104.22" x2="199.81" y2="104.88" stroke="#a5a5a5" stroke-width="0.75"/>
<rect x="198.46" y="100.97" width="2.7" height="3.25" fill="#ef9f58" stroke="#9c6433" stroke-width="0.5"/>
<line x1="198.46" y1="102.6" x2="201.16" y2="102.6" stroke="#111" stroke-width="0.6"/>
<rect x="199.07" y="101.53" width="1.49" height="1.49" fill="#000"/>
<line x1="203.26" y1="84.4" x2="203.26" y2="95.12" stroke="#a5a5a5" stroke-width="0.75"/>
<line x1="203.26" y1="105.2" x2="203.26" y2="106.5" stroke="#a5a5a5" stroke-width="0.75"/>
<rect x="201.91" y="95.12" width="2.7" height="10.08" fill="#e4483b" stroke="#9a2e24" stroke-width="0.5"/>
<line x1="201.91" y1="100" x2="204.61" y2="100" stroke="#111" stroke-width="0.6"/>
<rect x="202.52" y="96.98" width="1.49" height="1.49" fill="#000"/>
<line x1="210.19" y1="104.88" x2="210.19" y2="105.2" stroke="#a5a5a5" stroke-width="0.75"/>
<line x1="210.19" y1="106.17" x2="210.19" y2="106.5" stroke="#a5a5a5" stroke-width="0.75"/>
<rect x="208.84" y="105.2" width="2.7" height="0.97" fill="#5175be" stroke="#2f4f8c" stroke-width="0.5"/>
<line x1="208.84" y1="105.85" x2="211.54" y2="105.85" stroke="#111" stroke-width="0.6"/>
<rect x="209.45" y="105.11" width="1.49" height="1.49" fill="#000"/>
<line x1="213.64" y1="82.78" x2="213.64" y2="92.85" stroke="#a5a5a5" stroke-width="0.75"/>
<line x1="213.64" y1="103.25" x2="213.64" y2="106.5" stroke="#a5a5a5" stroke-width="0.75"/>
<rect x="212.29" y="92.85" width="2.7" height="10.4" fill="#f2e29c" stroke="#8f8450" stroke-width="0.5"/>
<line x1="212.29" y1="98.38" x2="214.99" y2="98.38" stroke="#111" stroke-width="0.6"/>
<rect x="212.9" y="96.01" width="1.49" height="1.49" fill="#000"/>
<line x1="217.14" y1="105.2" x2="217.14" y2="105.53" stroke="#a5a5a5" stroke-width="0.75"/>
<rect x="215.79" y="105.53" width="2.7" height="0.97" fill="#ef9f58" stroke="#9c6433" stroke-width="0.5"/>
<line x1="215.79" y1="106.17" x2="218.49" y2="106.17" stroke="#111" stroke-width="0.6"/>
<rect x="216.4" y="105.43" width="1.49" height="1.49" fill="#000"/>
<line x1="220.59" y1="99.35" x2="220.59" y2="103.25" stroke="#a5a5a5" stroke-width="0.75"/>
<line x1="220.59" y1="105.85" x2="220.59" y2="106.5" stroke="#a5a5a5" stroke-width="0.75"/>
<rect x="219.24" y="103.25" width="2.7" height="2.6" fill="#e4483b" stroke="#9a2e24" stroke-width="0.5"/>
<line x1="219.24" y1="104.88" x2="221.94" y2="104.88" stroke="#111" stroke-width="0.6"/>
<rect x="219.85" y="103.81" width="1.49" height="1.49" fill="#000"/>
<line x1="227.52" y1="104.22" x2="227.52" y2="104.55" stroke="#a5a5a5" stroke-width="0.75"/>
<line x1="227.52" y1="105.85" x2="227.52" y2="106.5" stroke="#a5a5a5" stroke-width="0.75"/>
<rect x="226.17" y="104.55" width="2.7" height="1.3" fill="#5175be" stroke="#2f4f8c" stroke-width="0.5"/>
<line x1="226.17" y1="105.2" x2="228.87" y2="105.2" stroke="#111" stroke-width="0.6"/>
<rect x="226.78" y="104.46" width="1.49" height="1.49" fill="#000"/>
<line x1="230.97" y1="80.5" x2="230.97" y2="88.62" stroke="#a5a5a5" stroke-width="0.75"/>
<line x1="230.97" y1="99.35" x2="230.97" y2="106.5" stroke="#a5a5a5" stroke-width="0.75"/>
<rect x="229.62" y="88.62" width="2.7" height="10.72" fill="#f2e29c" stroke="#8f8450" stroke-width="0.5"/>
<line x1="229.62" y1="91.88" x2="232.32" y2="91.88" stroke="#111" stroke-width="0.6"/>
<rect x="230.23" y="90.81" width="1.49" height="1.49" fill="#000"/>
<line x1="234.47" y1="97.08" x2="234.47" y2="99.35" stroke="#a5a5a5" stroke-width="0.75"/>
<line x1="234.47" y1="105.85" x2="234.47" y2="106.5" stroke="#a5a5a5" stroke-width="0.75"/>
<rect x="233.12" y="99.35" width="2.7" height="6.5" fill="#ef9f58" stroke="#9c6433" stroke-width="0.5"/>
<line x1="233.12" y1="104.22" x2="235.82" y2="104.22" stroke="#111" stroke-width="0.6"/>
<rect x="233.73" y="103.48" width="1.49" height="1.49" fill="#000"/>
<line x1="237.92" y1="94.15" x2="237.92" y2="100.97" stroke="#a5a5a5" stroke-width="0.75"/>
<line x1="237.92" y1="105.85" x2="237.92" y2="106.5" stroke="#a5a5a5" stroke-width="0.75"/>
<rect x="236.57" y="100.97" width="2.7" height="4.88" fill="#e4483b" stroke="#9a2e24" stroke-width="0.5"/>
<line x1="236.57" y1="104.22" x2="239.27" y2="104.22" stroke="#111" stroke-width="0.6"/>
<rect x="237.18" y="102.51" width="1.49" height="1.49" fill="#000"/>
<line x1="244.85" y1="104.22" x2="244.85" y2="104.55" stroke="#a5a5a5" stroke-width="0.75"/>
<line x1="244.85" y1="105.85" x2="244.85" y2="106.5" stroke="#a5a5a5" stroke-width="0.75"/>
<rect x="243.5" y="104.55" width="2.7" height="1.3" fill="#5175be" stroke="#2f4f8c" stroke-width="0.5"/>
<line x1="243.5" y1="105.2" x2="246.2" y2="105.2" stroke="#111" stroke-width="0.6"/>
<rect x="244.11" y="104.46" width="1.49" height="1.49" fill="#000"/>
<line x1="248.3" y1="78.22" x2="248.3" y2="84.08" stroke="#a5a5a5" stroke-width="0.75"/>
<line x1="248.3" y1="98.7" x2="248.3" y2="106.5" stroke="#a5a5a5" stroke-width="0.75"/>
<rect x="246.95" y="84.08" width="2.7" height="14.62" fill="#f2e29c" stroke="#8f8450" stroke-width="0.5"/>
<line x1="246.95" y1="90.25" x2="249.65" y2="90.25" stroke="#111" stroke-width="0.6"/>
<rect x="247.56" y="84.31" width="1.49" height="1.49" fill="#000"/>
<line x1="251.8" y1="96.42" x2="251.8" y2="99.35" stroke="#a5a5a5" stroke-width="0.75"/>
<line x1="251.8" y1="105.85" x2="251.8" y2="106.5" stroke="#a5a5a5" stroke-width="0.75"/>
<rect x="250.45" y="99.35" width="2.7" height="6.5" fill="#ef9f58" stroke="#9c6433" stroke-width="0.5"/>
<line x1="250.45" y1="103.9" x2="253.15" y2="103.9" stroke="#111" stroke-width="0.6"/>
<rect x="251.06" y="102.51" width="1.49" height="1.49" fill="#000"/>
<line x1="255.25" y1="94.15" x2="255.25" y2="99.03" stroke="#a5a5a5" stroke-width="0.75"/>
<line x1="255.25" y1="105.85" x2="255.25" y2="106.5" stroke="#a5a5a5" stroke-width="0.75"/>
<rect x="253.9" y="99.03" width="2.7" height="6.82" fill="#e4483b" stroke="#9a2e24" stroke-width="0.5"/>
<line x1="253.9" y1="103.25" x2="256.6" y2="103.25" stroke="#111" stroke-width="0.6"/>
<rect x="254.51" y="100.56" width="1.49" height="1.49" fill="#000"/>
<rect x="260.83" y="103.25" width="2.7" height="3.25" fill="#5175be" stroke="#2f4f8c" stroke-width="0.5"/>
<line x1="260.83" y1="104.88" x2="263.53" y2="104.88" stroke="#111" stroke-width="0.6"/>
<rect x="261.44" y="102.83" width="1.49" height="1.49" fill="#000"/>
<line x1="265.63" y1="105.85" x2="265.63" y2="106.5" stroke="#a5a5a5" stroke-width="0.75"/>
<rect x="264.28" y="99.35" width="2.7" height="6.5" fill="#f2e29c" stroke="#8f8450" stroke-width="0.5"/>
<line x1="264.28" y1="104.88" x2="266.98" y2="104.88" stroke="#111" stroke-width="0.6"/>
<rect x="264.89" y="102.51" width="1.49" height="1.49" fill="#000"/>
<rect x="267.78" y="105.53" width="2.7" height="0.97" fill="#ef9f58" stroke="#9c6433" stroke-width="0.5"/>
<line x1="267.78" y1="106.17" x2="270.48" y2="106.17" stroke="#111" stroke-width="0.6"/>
<rect x="268.39" y="102.51" width="1.49" height="1.49" fill="#000"/>
<line x1="272.58" y1="106.17" x2="272.58" y2="106.5" stroke="#a5a5a5" stroke-width="0.75"/>
<rect x="271.23" y="103.58" width="2.7" height="2.6" fill="#e4483b" stroke="#9a2e24" stroke-width="0.5"/>
<line x1="271.23" y1="105.2" x2="273.93" y2="105.2" stroke="#111" stroke-width="0.6"/>
<rect x="271.84" y="97.96" width="1.49" height="1.49" fill="#000"/>
<line x1="279.51" y1="104.55" x2="279.51" y2="104.88" stroke="#a5a5a5" stroke-width="0.75"/>
<line x1="279.51" y1="106.17" x2="279.51" y2="106.5" stroke="#a5a5a5" stroke-width="0.75"/>
<rect x="278.16" y="104.88" width="2.7" height="1.3" fill="#5175be" stroke="#2f4f8c" stroke-width="0.5"/>
<line x1="278.16" y1="105.53" x2="280.86" y2="105.53" stroke="#111" stroke-width="0.6"/>
<rect x="278.77" y="104.78" width="1.49" height="1.49" fill="#000"/>
<line x1="282.96" y1="47.02" x2="282.96" y2="74.97" stroke="#a5a5a5" stroke-width="0.75"/>
<line x1="282.96" y1="100.65" x2="282.96" y2="106.5" stroke="#a5a5a5" stroke-width="0.75"/>
<rect x="281.61" y="74.97" width="2.7" height="25.68" fill="#f2e29c" stroke="#8f8450" stroke-width="0.5"/>
<line x1="281.61" y1="87.97" x2="284.31" y2="87.97" stroke="#111" stroke-width="0.6"/>
<rect x="282.22" y="81.71" width="1.49" height="1.49" fill="#000"/>
<line x1="286.46" y1="96.75" x2="286.46" y2="100.97" stroke="#a5a5a5" stroke-width="0.75"/>
<line x1="286.46" y1="105.85" x2="286.46" y2="106.5" stroke="#a5a5a5" stroke-width="0.75"/>
<rect x="285.11" y="100.97" width="2.7" height="4.88" fill="#ef9f58" stroke="#9c6433" stroke-width="0.5"/>
<line x1="285.11" y1="103.9" x2="287.81" y2="103.9" stroke="#111" stroke-width="0.6"/>
<rect x="285.72" y="102.51" width="1.49" height="1.49" fill="#000"/>
<line x1="289.91" y1="98.38" x2="289.91" y2="100.97" stroke="#a5a5a5" stroke-width="0.75"/>
<line x1="289.91" y1="105.85" x2="289.91" y2="106.5" stroke="#a5a5a5" stroke-width="0.75"/>
<rect x="288.56" y="100.97" width="2.7" height="4.88" fill="#e4483b" stroke="#9a2e24" stroke-width="0.5"/>
<line x1="288.56" y1="103.9" x2="291.26" y2="103.9" stroke="#111" stroke-width="0.6"/>
<rect x="289.17" y="102.51" width="1.49" height="1.49" fill="#000"/>
<line x1="296.84" y1="105.2" x2="296.84" y2="105.53" stroke="#a5a5a5" stroke-width="0.75"/>
<rect x="295.49" y="105.53" width="2.7" height="0.97" fill="#5175be" stroke="#2f4f8c" stroke-width="0.5"/>
<line x1="295.49" y1="106.17" x2="298.19" y2="106.17" stroke="#111" stroke-width="0.6"/>
<rect x="296.1" y="105.43" width="1.49" height="1.49" fill="#000"/>
<line x1="300.29" y1="101.95" x2="300.29" y2="104.55" stroke="#a5a5a5" stroke-width="0.75"/>
<rect x="298.94" y="104.55" width="2.7" height="1.95" fill="#f2e29c" stroke="#8f8450" stroke-width="0.5"/>
<line x1="298.94" y1="105.53" x2="301.64" y2="105.53" stroke="#111" stroke-width="0.6"/>
<rect x="299.55" y="104.46" width="1.49" height="1.49" fill="#000"/>
<line x1="303.79" y1="105.53" x2="303.79" y2="105.85" stroke="#a5a5a5" stroke-width="0.75"/>
<line x1="302.44" y1="106.5" x2="305.14" y2="106.5" stroke="#666" stroke-width="0.8"/>
<line x1="302.44" y1="106.17" x2="305.14" y2="106.17" stroke="#111" stroke-width="0.6"/>
<rect x="303.05" y="105.43" width="1.49" height="1.49" fill="#000"/>
<line x1="305.89" y1="106.5" x2="308.59" y2="106.5" stroke="#666" stroke-width="0.8"/>
<line x1="305.89" y1="106.34" x2="308.59" y2="106.34" stroke="#111" stroke-width="0.6"/>
<rect x="306.5" y="99.58" width="1.49" height="1.49" fill="#000"/>
<line x1="314.17" y1="104.55" x2="314.17" y2="104.88" stroke="#a5a5a5" stroke-width="0.75"/>
<rect x="312.82" y="104.88" width="2.7" height="1.62" fill="#5175be" stroke="#2f4f8c" stroke-width="0.5"/>
<line x1="312.82" y1="105.85" x2="315.52" y2="105.85" stroke="#111" stroke-width="0.6"/>
<rect x="313.43" y="104.78" width="1.49" height="1.49" fill="#000"/>
<line x1="317.62" y1="44.75" x2="317.62" y2="71.72" stroke="#a5a5a5" stroke-width="0.75"/>
<line x1="317.62" y1="99.03" x2="317.62" y2="106.5" stroke="#a5a5a5" stroke-width="0.75"/>
<rect x="316.27" y="71.72" width="2.7" height="27.3" fill="#f2e29c" stroke="#8f8450" stroke-width="0.5"/>
<line x1="316.27" y1="90.25" x2="318.97" y2="90.25" stroke="#111" stroke-width="0.6"/>
<rect x="316.88" y="81.71" width="1.49" height="1.49" fill="#000"/>
<line x1="321.12" y1="91.88" x2="321.12" y2="99.35" stroke="#a5a5a5" stroke-width="0.75"/>
<line x1="321.12" y1="105.2" x2="321.12" y2="106.5" stroke="#a5a5a5" stroke-width="0.75"/>
<rect x="319.77" y="99.35" width="2.7" height="5.85" fill="#ef9f58" stroke="#9c6433" stroke-width="0.5"/>
<line x1="319.77" y1="103.25" x2="322.47" y2="103.25" stroke="#111" stroke-width="0.6"/>
<rect x="320.38" y="92.76" width="1.49" height="1.49" fill="#000"/>
<line x1="324.57" y1="81.15" x2="324.57" y2="90.25" stroke="#a5a5a5" stroke-width="0.75"/>
<line x1="324.57" y1="106.17" x2="324.57" y2="106.5" stroke="#a5a5a5" stroke-width="0.75"/>
<rect x="323.22" y="90.25" width="2.7" height="15.92" fill="#e4483b" stroke="#9a2e24" stroke-width="0.5"/>
<line x1="323.22" y1="103.25" x2="325.92" y2="103.25" stroke="#111" stroke-width="0.6"/>
<rect x="323.83" y="96.01" width="1.49" height="1.49" fill="#000"/>
<circle cx="161" cy="93" r="0.5" fill="#aaa"/>
<circle cx="179" cy="83" r="0.5" fill="#aaa"/>
<circle cx="183" cy="66" r="0.5" fill="#aaa"/>
<circle cx="198" cy="36" r="0.5" fill="#aaa"/>
<circle cx="205" cy="55" r="0.5" fill="#aaa"/>
<circle cx="215" cy="42" r="0.5" fill="#aaa"/>
<circle cx="232" cy="60" r="0.5" fill="#aaa"/>
<circle cx="240" cy="75" r="0.5" fill="#aaa"/>
<circle cx="261" cy="70" r="0.5" fill="#aaa"/>
<circle cx="287" cy="92" r="0.5" fill="#aaa"/>
<circle cx="300" cy="100" r="0.5" fill="#aaa"/>
<circle cx="320" cy="62" r="0.5" fill="#aaa"/>
<circle cx="312" cy="38" r="0.5" fill="#aaa"/>
<text transform="translate(164.6,119) rotate(-22)" font-size="4.7" text-anchor="end" font-family="Liberation Serif" font-weight="bold" >2-Methylpentane</text>
<text transform="translate(181.93,119) rotate(-22)" font-size="4.7" text-anchor="end" font-family="Liberation Serif" font-weight="bold" >3-Methylpentane</text>
<text transform="translate(199.26,119) rotate(-22)" font-size="4.7" text-anchor="end" font-family="Liberation Serif" font-weight="bold" >n-Hexane</text>
<text transform="translate(216.59,119) rotate(-22)" font-size="4.7" text-anchor="end" font-family="Liberation Serif" font-weight="bold" >Methylcyclopentane</text>
<text transform="translate(233.92,119) rotate(-22)" font-size="4.7" text-anchor="end" font-family="Liberation Serif" font-weight="bold" >2-Methylhexane</text>
<text transform="translate(251.25,119) rotate(-22)" font-size="4.7" text-anchor="end" font-family="Liberation Serif" font-weight="bold" >3-Methylhexane</text>
<text transform="translate(268.58,119) rotate(-22)" font-size="4.7" text-anchor="end" font-family="Liberation Serif" font-weight="bold" >2,2,4-Trimethylpentane</text>
<text transform="translate(285.91,119) rotate(-22)" font-size="4.7" text-anchor="end" font-family="Liberation Serif" font-weight="bold" >Heptane</text>
<text transform="translate(303.24,119) rotate(-22)" font-size="4.7" text-anchor="end" font-family="Liberation Serif" font-weight="bold" >n-Dodecane</text>
<text transform="translate(320.57,119) rotate(-22)" font-size="4.7" text-anchor="end" font-family="Liberation Serif" font-weight="bold" >Other</text>
<path d="M130.5,146.6 L341.2,146.6 L341.2,180.3 L130.5,180.3 Z" fill="none" stroke="#2233ee" stroke-width="1.3" stroke-dasharray="5,3"/>
<path d="M140.3,134.5 L157.9,146.6" fill="none" stroke="#2233ee" stroke-width="1.3" stroke-dasharray="5,3"/>
<path d="M316.9,130.7 L295.2,146.6" fill="none" stroke="#2233ee" stroke-width="1.3" stroke-dasharray="5,3"/>
<rect x="365.5" y="2.6" width="308.1" height="170.5" fill="none" stroke="#1a1a1a" stroke-width="1.1"/>
<line x1="362.5" y1="169.7" x2="365.5" y2="169.7" stroke="#1a1a1a" stroke-width="0.9"/>
<text x="360.5" y="173.21" font-size="9" text-anchor="end" font-family="Liberation Serif" font-weight="bold">0</text>
<line x1="362.5" y1="132.5" x2="365.5" y2="132.5" stroke="#1a1a1a" stroke-width="0.9"/>
<text x="360.5" y="136.01" font-size="9" text-anchor="end" font-family="Liberation Serif" font-weight="bold">1</text>
<line x1="362.5" y1="95.3" x2="365.5" y2="95.3" stroke="#1a1a1a" stroke-width="0.9"/>
<text x="360.5" y="98.81" font-size="9" text-anchor="end" font-family="Liberation Serif" font-weight="bold">2</text>
<line x1="362.5" y1="58.1" x2="365.5" y2="58.1" stroke="#1a1a1a" stroke-width="0.9"/>
<text x="360.5" y="61.61" font-size="9" text-anchor="end" font-family="Liberation Serif" font-weight="bold">3</text>
<line x1="362.5" y1="20.9" x2="365.5" y2="20.9" stroke="#1a1a1a" stroke-width="0.9"/>
<text x="360.5" y="24.41" font-size="9" text-anchor="end" font-family="Liberation Serif" font-weight="bold">4</text>
<line x1="363.9" y1="151.1" x2="365.5" y2="151.1" stroke="#1a1a1a" stroke-width="0.9"/>
<line x1="363.9" y1="113.9" x2="365.5" y2="113.9" stroke="#1a1a1a" stroke-width="0.9"/>
<line x1="363.9" y1="76.7" x2="365.5" y2="76.7" stroke="#1a1a1a" stroke-width="0.9"/>
<line x1="363.9" y1="39.5" x2="365.5" y2="39.5" stroke="#1a1a1a" stroke-width="0.9"/>
<text transform="translate(347.4,88) rotate(-90)" font-size="11" text-anchor="middle" dominant-baseline="central" font-family="Liberation Serif" font-weight="bold">Concentration (ppbv)</text>
<line x1="377.2" y1="173.1" x2="377.2" y2="176.7" stroke="#1a1a1a" stroke-width="0.9"/>
<line x1="400.88" y1="173.1" x2="400.88" y2="176.7" stroke="#1a1a1a" stroke-width="0.9"/>
<line x1="424.56" y1="173.1" x2="424.56" y2="176.7" stroke="#1a1a1a" stroke-width="0.9"/>
<line x1="448.24" y1="173.1" x2="448.24" y2="176.7" stroke="#1a1a1a" stroke-width="0.9"/>
<line x1="471.92" y1="173.1" x2="471.92" y2="176.7" stroke="#1a1a1a" stroke-width="0.9"/>
<line x1="495.6" y1="173.1" x2="495.6" y2="176.7" stroke="#1a1a1a" stroke-width="0.9"/>
<line x1="519.28" y1="173.1" x2="519.28" y2="176.7" stroke="#1a1a1a" stroke-width="0.9"/>
<line x1="542.96" y1="173.1" x2="542.96" y2="176.7" stroke="#1a1a1a" stroke-width="0.9"/>
<line x1="566.64" y1="173.1" x2="566.64" y2="176.7" stroke="#1a1a1a" stroke-width="0.9"/>
<line x1="590.32" y1="173.1" x2="590.32" y2="176.7" stroke="#1a1a1a" stroke-width="0.9"/>
<line x1="614" y1="173.1" x2="614" y2="176.7" stroke="#1a1a1a" stroke-width="0.9"/>
<line x1="637.68" y1="173.1" x2="637.68" y2="176.7" stroke="#1a1a1a" stroke-width="0.9"/>
<line x1="661.36" y1="173.1" x2="661.36" y2="176.7" stroke="#1a1a1a" stroke-width="0.9"/>
<line x1="370" y1="89.8" x2="370" y2="121.9" stroke="#8a8a8a" stroke-width="0.75"/>
<line x1="370" y1="163.2" x2="370" y2="169.3" stroke="#8a8a8a" stroke-width="0.75"/>
<rect x="368.3" y="121.9" width="3.4" height="41.3" fill="#5175be" stroke="#2f4f8c" stroke-width="0.5"/>
<line x1="368.3" y1="148.4" x2="371.7" y2="148.4" stroke="#111" stroke-width="0.6"/>
<rect x="369.15" y="140.05" width="1.7" height="1.7" fill="#000"/>
<line x1="374.8" y1="82.7" x2="374.8" y2="125.1" stroke="#8a8a8a" stroke-width="0.75"/>
<rect x="373.1" y="125.1" width="3.4" height="44.5" fill="#f2e29c" stroke="#8f8450" stroke-width="0.5"/>
<line x1="373.1" y1="152.1" x2="376.5" y2="152.1" stroke="#111" stroke-width="0.6"/>
<rect x="373.95" y="144.35" width="1.7" height="1.7" fill="#000"/>
<line x1="379.6" y1="2.6" x2="379.6" y2="60.2" stroke="#8a8a8a" stroke-width="0.75"/>
<rect x="377.9" y="60.2" width="3.4" height="109.4" fill="#ef9f58" stroke="#9c6433" stroke-width="0.5"/>
<line x1="377.9" y1="153.3" x2="381.3" y2="153.3" stroke="#111" stroke-width="0.6"/>
<rect x="378.75" y="119.15" width="1.7" height="1.7" fill="#000"/>
<line x1="384.4" y1="60.2" x2="384.4" y2="91.4" stroke="#8a8a8a" stroke-width="0.75"/>
<line x1="384.4" y1="155.2" x2="384.4" y2="169.3" stroke="#8a8a8a" stroke-width="0.75"/>
<rect x="382.7" y="91.4" width="3.4" height="63.8" fill="#e4483b" stroke="#9a2e24" stroke-width="0.5"/>
<line x1="382.7" y1="132.4" x2="386.1" y2="132.4" stroke="#111" stroke-width="0.6"/>
<rect x="383.55" y="103.45" width="1.7" height="1.7" fill="#000"/>
<line x1="392.08" y1="169.7" x2="395.28" y2="169.7" stroke="#888" stroke-width="0.6"/>
<rect x="392.83" y="168.4" width="1.7" height="1.7" fill="#111"/>
<line x1="396.88" y1="169.7" x2="400.08" y2="169.7" stroke="#888" stroke-width="0.6"/>
<rect x="397.63" y="168.4" width="1.7" height="1.7" fill="#111"/>
<line x1="401.68" y1="169.7" x2="404.88" y2="169.7" stroke="#888" stroke-width="0.6"/>
<rect x="402.43" y="168.4" width="1.7" height="1.7" fill="#111"/>
<line x1="406.48" y1="169.7" x2="409.68" y2="169.7" stroke="#888" stroke-width="0.6"/>
<rect x="407.23" y="168.4" width="1.7" height="1.7" fill="#111"/>
<line x1="415.76" y1="169.7" x2="418.96" y2="169.7" stroke="#888" stroke-width="0.6"/>
<rect x="416.51" y="168.4" width="1.7" height="1.7" fill="#111"/>
<line x1="420.56" y1="169.7" x2="423.76" y2="169.7" stroke="#888" stroke-width="0.6"/>
<rect x="421.31" y="168.4" width="1.7" height="1.7" fill="#111"/>
<line x1="425.36" y1="169.7" x2="428.56" y2="169.7" stroke="#888" stroke-width="0.6"/>
<rect x="426.11" y="168.4" width="1.7" height="1.7" fill="#111"/>
<line x1="430.16" y1="169.7" x2="433.36" y2="169.7" stroke="#888" stroke-width="0.6"/>
<rect x="430.91" y="168.4" width="1.7" height="1.7" fill="#111"/>
<line x1="439.44" y1="169.7" x2="442.64" y2="169.7" stroke="#888" stroke-width="0.6"/>
<rect x="440.19" y="168.4" width="1.7" height="1.7" fill="#111"/>
<line x1="444.24" y1="169.7" x2="447.44" y2="169.7" stroke="#888" stroke-width="0.6"/>
<rect x="444.99" y="168.4" width="1.7" height="1.7" fill="#111"/>
<line x1="449.04" y1="169.7" x2="452.24" y2="169.7" stroke="#888" stroke-width="0.6"/>
<rect x="449.79" y="168.4" width="1.7" height="1.7" fill="#111"/>
<line x1="453.84" y1="169.7" x2="457.04" y2="169.7" stroke="#888" stroke-width="0.6"/>
<rect x="454.59" y="168.4" width="1.7" height="1.7" fill="#111"/>
<line x1="464.72" y1="36.6" x2="464.72" y2="91.1" stroke="#8a8a8a" stroke-width="0.75"/>
<line x1="464.72" y1="146.5" x2="464.72" y2="163.2" stroke="#8a8a8a" stroke-width="0.75"/>
<rect x="463.02" y="91.1" width="3.4" height="55.4" fill="#5175be" stroke="#2f4f8c" stroke-width="0.5"/>
<line x1="463.02" y1="134.3" x2="466.42" y2="134.3" stroke="#111" stroke-width="0.6"/>
<rect x="463.87" y="120.75" width="1.7" height="1.7" fill="#000"/>
<line x1="469.52" y1="13.7" x2="469.52" y2="66.6" stroke="#8a8a8a" stroke-width="0.75"/>
<line x1="469.52" y1="123.5" x2="469.52" y2="145.2" stroke="#8a8a8a" stroke-width="0.75"/>
<rect x="467.82" y="66.6" width="3.4" height="56.9" fill="#f2e29c" stroke="#8f8450" stroke-width="0.5"/>
<line x1="467.82" y1="109.1" x2="471.22" y2="109.1" stroke="#111" stroke-width="0.6"/>
<rect x="468.67" y="82.65" width="1.7" height="1.7" fill="#000"/>
<line x1="474.32" y1="2.6" x2="474.32" y2="63.1" stroke="#8a8a8a" stroke-width="0.75"/>
<line x1="474.32" y1="125.6" x2="474.32" y2="148.1" stroke="#8a8a8a" stroke-width="0.75"/>
<rect x="472.62" y="63.1" width="3.4" height="62.5" fill="#ef9f58" stroke="#9c6433" stroke-width="0.5"/>
<line x1="472.62" y1="116.8" x2="476.02" y2="116.8" stroke="#111" stroke-width="0.6"/>
<rect x="473.47" y="90.85" width="1.7" height="1.7" fill="#000"/>
<line x1="479.12" y1="19.3" x2="479.12" y2="80.3" stroke="#8a8a8a" stroke-width="0.75"/>
<line x1="479.12" y1="141.2" x2="479.12" y2="150.4" stroke="#8a8a8a" stroke-width="0.75"/>
<rect x="477.42" y="80.3" width="3.4" height="60.9" fill="#e4483b" stroke="#9a2e24" stroke-width="0.5"/>
<line x1="477.42" y1="115.5" x2="480.82" y2="115.5" stroke="#111" stroke-width="0.6"/>
<rect x="478.27" y="102.25" width="1.7" height="1.7" fill="#000"/>
<line x1="488.4" y1="144.9" x2="488.4" y2="153.7" stroke="#8a8a8a" stroke-width="0.75"/>
<line x1="488.4" y1="162.6" x2="488.4" y2="166.1" stroke="#8a8a8a" stroke-width="0.75"/>
<rect x="486.7" y="153.7" width="3.4" height="8.9" fill="#5175be" stroke="#2f4f8c" stroke-width="0.5"/>
<line x1="486.7" y1="158" x2="490.1" y2="158" stroke="#111" stroke-width="0.6"/>
<rect x="487.55" y="157.25" width="1.7" height="1.7" fill="#000"/>
<line x1="493.2" y1="150.8" x2="493.2" y2="157.7" stroke="#8a8a8a" stroke-width="0.75"/>
<line x1="493.2" y1="164.2" x2="493.2" y2="167.2" stroke="#8a8a8a" stroke-width="0.75"/>
<rect x="491.5" y="157.7" width="3.4" height="6.5" fill="#f2e29c" stroke="#8f8450" stroke-width="0.5"/>
<line x1="491.5" y1="161" x2="494.9" y2="161" stroke="#111" stroke-width="0.6"/>
<rect x="492.35" y="159.65" width="1.7" height="1.7" fill="#000"/>
<line x1="498" y1="146" x2="498" y2="153.3" stroke="#8a8a8a" stroke-width="0.75"/>
<line x1="498" y1="162.9" x2="498" y2="167.2" stroke="#8a8a8a" stroke-width="0.75"/>
<rect x="496.3" y="153.3" width="3.4" height="9.6" fill="#ef9f58" stroke="#9c6433" stroke-width="0.5"/>
<line x1="496.3" y1="157" x2="499.7" y2="157" stroke="#111" stroke-width="0.6"/>
<rect x="497.15" y="156.45" width="1.7" height="1.7" fill="#000"/>
<line x1="502.8" y1="149.2" x2="502.8" y2="157.7" stroke="#8a8a8a" stroke-width="0.75"/>
<line x1="502.8" y1="164.5" x2="502.8" y2="168.2" stroke="#8a8a8a" stroke-width="0.75"/>
<rect x="501.1" y="157.7" width="3.4" height="6.8" fill="#e4483b" stroke="#9a2e24" stroke-width="0.5"/>
<line x1="501.1" y1="161" x2="504.5" y2="161" stroke="#111" stroke-width="0.6"/>
<rect x="501.95" y="159.95" width="1.7" height="1.7" fill="#000"/>
<line x1="510.48" y1="169.7" x2="513.68" y2="169.7" stroke="#888" stroke-width="0.6"/>
<rect x="511.23" y="168.4" width="1.7" height="1.7" fill="#111"/>
<line x1="515.28" y1="169.7" x2="518.48" y2="169.7" stroke="#888" stroke-width="0.6"/>
<rect x="516.03" y="168.4" width="1.7" height="1.7" fill="#111"/>
<line x1="520.08" y1="169.7" x2="523.28" y2="169.7" stroke="#888" stroke-width="0.6"/>
<rect x="520.83" y="168.4" width="1.7" height="1.7" fill="#111"/>
<line x1="524.88" y1="169.7" x2="528.08" y2="169.7" stroke="#888" stroke-width="0.6"/>
<rect x="525.63" y="168.4" width="1.7" height="1.7" fill="#111"/>
<line x1="534.16" y1="169.7" x2="537.36" y2="169.7" stroke="#888" stroke-width="0.6"/>
<rect x="534.91" y="168.4" width="1.7" height="1.7" fill="#111"/>
<line x1="538.96" y1="169.7" x2="542.16" y2="169.7" stroke="#888" stroke-width="0.6"/>
<rect x="539.71" y="168.4" width="1.7" height="1.7" fill="#111"/>
<line x1="543.76" y1="169.7" x2="546.96" y2="169.7" stroke="#888" stroke-width="0.6"/>
<rect x="544.51" y="168.4" width="1.7" height="1.7" fill="#111"/>
<line x1="548.56" y1="169.7" x2="551.76" y2="169.7" stroke="#888" stroke-width="0.6"/>
<rect x="549.31" y="168.4" width="1.7" height="1.7" fill="#111"/>
<line x1="557.84" y1="169.7" x2="561.04" y2="169.7" stroke="#888" stroke-width="0.6"/>
<rect x="558.59" y="168.4" width="1.7" height="1.7" fill="#111"/>
<line x1="562.64" y1="169.7" x2="565.84" y2="169.7" stroke="#888" stroke-width="0.6"/>
<rect x="563.39" y="168.4" width="1.7" height="1.7" fill="#111"/>
<line x1="567.44" y1="169.7" x2="570.64" y2="169.7" stroke="#888" stroke-width="0.6"/>
<rect x="568.19" y="168.4" width="1.7" height="1.7" fill="#111"/>
<line x1="572.24" y1="169.7" x2="575.44" y2="169.7" stroke="#888" stroke-width="0.6"/>
<rect x="572.99" y="168.4" width="1.7" height="1.7" fill="#111"/>
<line x1="583.12" y1="162.1" x2="583.12" y2="165.2" stroke="#8a8a8a" stroke-width="0.75"/>
<rect x="581.42" y="165.2" width="3.4" height="4.2" fill="#5175be" stroke="#2f4f8c" stroke-width="0.5"/>
<rect x="582.27" y="166.15" width="1.7" height="1.7" fill="#000"/>
<line x1="587.92" y1="145.1" x2="587.92" y2="159.1" stroke="#8a8a8a" stroke-width="0.75"/>
<rect x="586.22" y="159.1" width="3.4" height="10.3" fill="#f2e29c" stroke="#8f8450" stroke-width="0.5"/>
<line x1="586.22" y1="165" x2="589.62" y2="165" stroke="#111" stroke-width="0.6"/>
<rect x="587.07" y="162.45" width="1.7" height="1.7" fill="#000"/>
<line x1="592.72" y1="154.2" x2="592.72" y2="158.2" stroke="#8a8a8a" stroke-width="0.75"/>
<rect x="591.02" y="158.2" width="3.4" height="11.2" fill="#ef9f58" stroke="#9c6433" stroke-width="0.5"/>
<line x1="591.02" y1="165" x2="594.42" y2="165" stroke="#111" stroke-width="0.6"/>
<rect x="591.87" y="163.85" width="1.7" height="1.7" fill="#000"/>
<line x1="597.52" y1="127" x2="597.52" y2="150.7" stroke="#8a8a8a" stroke-width="0.75"/>
<rect x="595.82" y="150.7" width="3.4" height="18.7" fill="#e4483b" stroke="#9a2e24" stroke-width="0.5"/>
<line x1="595.82" y1="160.3" x2="599.22" y2="160.3" stroke="#111" stroke-width="0.6"/>
<rect x="596.67" y="152.45" width="1.7" height="1.7" fill="#000"/>
<line x1="605.2" y1="169.7" x2="608.4" y2="169.7" stroke="#888" stroke-width="0.6"/>
<rect x="605.95" y="168.4" width="1.7" height="1.7" fill="#111"/>
<line x1="610" y1="169.7" x2="613.2" y2="169.7" stroke="#888" stroke-width="0.6"/>
<rect x="610.75" y="168.4" width="1.7" height="1.7" fill="#111"/>
<line x1="614.8" y1="169.7" x2="618" y2="169.7" stroke="#888" stroke-width="0.6"/>
<rect x="615.55" y="168.4" width="1.7" height="1.7" fill="#111"/>
<line x1="619.6" y1="169.7" x2="622.8" y2="169.7" stroke="#888" stroke-width="0.6"/>
<rect x="620.35" y="168.4" width="1.7" height="1.7" fill="#111"/>
<line x1="630.48" y1="64.3" x2="630.48" y2="81.1" stroke="#8a8a8a" stroke-width="0.75"/>
<line x1="630.48" y1="155.6" x2="630.48" y2="166.1" stroke="#8a8a8a" stroke-width="0.75"/>
<rect x="628.78" y="81.1" width="3.4" height="74.5" fill="#5175be" stroke="#2f4f8c" stroke-width="0.5"/>
<line x1="628.78" y1="130.9" x2="632.18" y2="130.9" stroke="#111" stroke-width="0.6"/>
<rect x="629.63" y="119.75" width="1.7" height="1.7" fill="#000"/>
<line x1="635.28" y1="2.6" x2="635.28" y2="41.2" stroke="#8a8a8a" stroke-width="0.75"/>
<line x1="635.28" y1="132" x2="635.28" y2="170" stroke="#8a8a8a" stroke-width="0.75"/>
<rect x="633.58" y="41.2" width="3.4" height="90.8" fill="#f2e29c" stroke="#8f8450" stroke-width="0.5"/>
<line x1="633.58" y1="93.2" x2="636.98" y2="93.2" stroke="#111" stroke-width="0.6"/>
<rect x="634.43" y="80.95" width="1.7" height="1.7" fill="#000"/>
<line x1="640.08" y1="2.6" x2="640.08" y2="66.6" stroke="#8a8a8a" stroke-width="0.75"/>
<line x1="640.08" y1="163.8" x2="640.08" y2="168.2" stroke="#8a8a8a" stroke-width="0.75"/>
<rect x="638.38" y="66.6" width="3.4" height="97.2" fill="#ef9f58" stroke="#9c6433" stroke-width="0.5"/>
<line x1="638.38" y1="143.3" x2="641.78" y2="143.3" stroke="#111" stroke-width="0.6"/>
<rect x="639.23" y="114.45" width="1.7" height="1.7" fill="#000"/>
<line x1="644.88" y1="2.6" x2="644.88" y2="33.3" stroke="#8a8a8a" stroke-width="0.75"/>
<line x1="644.88" y1="148.4" x2="644.88" y2="170" stroke="#8a8a8a" stroke-width="0.75"/>
<rect x="643.18" y="33.3" width="3.4" height="115.1" fill="#e4483b" stroke="#9a2e24" stroke-width="0.5"/>
<line x1="643.18" y1="106.4" x2="646.58" y2="106.4" stroke="#111" stroke-width="0.6"/>
<rect x="644.03" y="92.35" width="1.7" height="1.7" fill="#000"/>
<line x1="654.16" y1="116.2" x2="654.16" y2="144.2" stroke="#8a8a8a" stroke-width="0.75"/>
<line x1="654.16" y1="169.1" x2="654.16" y2="169.4" stroke="#8a8a8a" stroke-width="0.75"/>
<rect x="652.46" y="144.2" width="3.4" height="24.9" fill="#5175be" stroke="#2f4f8c" stroke-width="0.5"/>
<line x1="652.46" y1="159.1" x2="655.86" y2="159.1" stroke="#111" stroke-width="0.6"/>
<rect x="653.31" y="149.85" width="1.7" height="1.7" fill="#000"/>
<line x1="658.96" y1="158" x2="658.96" y2="162.1" stroke="#8a8a8a" stroke-width="0.75"/>
<rect x="657.26" y="162.1" width="3.4" height="7.3" fill="#f2e29c" stroke="#8f8450" stroke-width="0.5"/>
<line x1="657.26" y1="164" x2="660.66" y2="164" stroke="#111" stroke-width="0.6"/>
<rect x="658.11" y="163.35" width="1.7" height="1.7" fill="#000"/>
<rect x="662.06" y="167.6" width="3.4" height="1.8" fill="#ef9f58" stroke="#9c6433" stroke-width="0.5"/>
<rect x="662.91" y="165.75" width="1.7" height="1.7" fill="#000"/>
<line x1="668.56" y1="90.3" x2="668.56" y2="136.2" stroke="#8a8a8a" stroke-width="0.75"/>
<rect x="666.86" y="136.2" width="3.4" height="33.2" fill="#e4483b" stroke="#9a2e24" stroke-width="0.5"/>
<line x1="666.86" y1="166.5" x2="670.26" y2="166.5" stroke="#111" stroke-width="0.6"/>
<rect x="667.71" y="120.95" width="1.7" height="1.7" fill="#000"/>
<circle cx="399" cy="159.2" r="0.6" fill="#222"/>
<circle cx="403.8" cy="155.7" r="0.6" fill="#222"/>
<circle cx="403.8" cy="166" r="0.6" fill="#222"/>
<circle cx="493.5" cy="146" r="0.6" fill="#222"/>
<circle cx="597.7" cy="94.1" r="0.6" fill="#222"/>
<circle cx="659.1" cy="95.5" r="0.6" fill="#222"/>
<circle cx="659.1" cy="145.4" r="0.6" fill="#222"/>
<circle cx="663.8" cy="127.4" r="0.6" fill="#222"/>
<circle cx="654.3" cy="60.8" r="0.6" fill="#222"/>
<circle cx="659.1" cy="56.9" r="0.6" fill="#222"/>
<text transform="translate(378.7,183.7) rotate(-24)" font-size="8.6" text-anchor="end" font-family="Liberation Serif" font-weight="bold" >n-Butylene</text>
<text transform="translate(402.38,183.7) rotate(-24)" font-size="8.6" text-anchor="end" font-family="Liberation Serif" font-weight="bold" >1,3-Butadiene</text>
<text transform="translate(426.06,183.7) rotate(-24)" font-size="8.6" text-anchor="end" font-family="Liberation Serif" font-weight="bold" >Trans-2-butene</text>
<text transform="translate(449.74,183.7) rotate(-24)" font-size="8.6" text-anchor="end" font-family="Liberation Serif" font-weight="bold" >Cis-2-butene</text>
<text transform="translate(473.42,183.7) rotate(-24)" font-size="8.6" text-anchor="end" font-family="Liberation Serif" font-weight="bold" >Ethene</text>
<text transform="translate(497.1,183.7) rotate(-24)" font-size="8.6" text-anchor="end" font-family="Liberation Serif" font-weight="bold" >Isoprene</text>
<text transform="translate(520.78,183.7) rotate(-24)" font-size="8.6" text-anchor="end" font-family="Liberation Serif" font-weight="bold" >Trans-2-pentene</text>
<text transform="translate(544.46,183.7) rotate(-24)" font-size="8.6" text-anchor="end" font-family="Liberation Serif" font-weight="bold" >1-Pentene</text>
<text transform="translate(568.14,183.7) rotate(-24)" font-size="8.6" text-anchor="end" font-family="Liberation Serif" font-weight="bold" >Cis-2-pentene</text>
<text transform="translate(591.82,183.7) rotate(-24)" font-size="8.6" text-anchor="end" font-family="Liberation Serif" font-weight="bold" >Propene</text>
<text transform="translate(615.5,183.7) rotate(-24)" font-size="8.6" text-anchor="end" font-family="Liberation Serif" font-weight="bold" >1-Hexene</text>
<text transform="translate(639.18,183.7) rotate(-24)" font-size="8.6" text-anchor="end" font-family="Liberation Serif" font-weight="bold" >Ethine</text>
<text transform="translate(662.86,183.7) rotate(-24)" font-size="8.6" text-anchor="end" font-family="Liberation Serif" font-weight="bold" >Carbon disulphide</text>
<text x="483.9" y="17.3" font-size="11" text-anchor="start" font-family="Liberation Serif" font-weight="bold" >(b) Alkenes + Alkynes + Sulfide</text>
<rect x="508.3" y="27.6" width="16.2" height="7.4" fill="#5175be" stroke="#2f4f8c" stroke-width="0.5"/>
<text x="527.6" y="34.7" font-size="8.6" text-anchor="start" font-family="Liberation Serif" font-weight="bold" >GZ</text>
<rect x="508.3" y="38.5" width="16.2" height="7.6" fill="#f2e29c" stroke="#8f8450" stroke-width="0.5"/>
<text x="527.6" y="45.8" font-size="8.6" text-anchor="start" font-family="Liberation Serif" font-weight="bold" >DG</text>
<rect x="508.3" y="49.5" width="16.2" height="7.4" fill="#ef9f58" stroke="#9c6433" stroke-width="0.5"/>
<text x="527.6" y="56.6" font-size="8.6" text-anchor="start" font-family="Liberation Serif" font-weight="bold" >SZ</text>
<rect x="508.3" y="60.5" width="16.2" height="7.4" fill="#e4483b" stroke="#9a2e24" stroke-width="0.5"/>
<text x="527.6" y="67.6" font-size="8.6" text-anchor="start" font-family="Liberation Serif" font-weight="bold" >HZ</text>
<rect x="30.2" y="217.9" width="308.3" height="171.1" fill="none" stroke="#1a1a1a" stroke-width="1.1"/>
<line x1="27.2" y1="382.7" x2="30.2" y2="382.7" stroke="#1a1a1a" stroke-width="0.9"/>
<text x="25.2" y="386.21" font-size="9" text-anchor="end" font-family="Liberation Serif" font-weight="bold">0</text>
<line x1="27.2" y1="357.5" x2="30.2" y2="357.5" stroke="#1a1a1a" stroke-width="0.9"/>
<text x="25.2" y="361.01" font-size="9" text-anchor="end" font-family="Liberation Serif" font-weight="bold">2</text>
<line x1="27.2" y1="332.3" x2="30.2" y2="332.3" stroke="#1a1a1a" stroke-width="0.9"/>
<text x="25.2" y="335.81" font-size="9" text-anchor="end" font-family="Liberation Serif" font-weight="bold">4</text>
<line x1="27.2" y1="307.1" x2="30.2" y2="307.1" stroke="#1a1a1a" stroke-width="0.9"/>
<text x="25.2" y="310.61" font-size="9" text-anchor="end" font-family="Liberation Serif" font-weight="bold">6</text>
<line x1="27.2" y1="281.9" x2="30.2" y2="281.9" stroke="#1a1a1a" stroke-width="0.9"/>
<text x="25.2" y="285.41" font-size="9" text-anchor="end" font-family="Liberation Serif" font-weight="bold">8</text>
<line x1="27.2" y1="256.7" x2="30.2" y2="256.7" stroke="#1a1a1a" stroke-width="0.9"/>
<text x="25.2" y="260.21" font-size="9" text-anchor="end" font-family="Liberation Serif" font-weight="bold">10</text>
<line x1="27.2" y1="231.5" x2="30.2" y2="231.5" stroke="#1a1a1a" stroke-width="0.9"/>
<text x="25.2" y="235.01" font-size="9" text-anchor="end" font-family="Liberation Serif" font-weight="bold">12</text>
<line x1="28.6" y1="370.1" x2="30.2" y2="370.1" stroke="#1a1a1a" stroke-width="0.9"/>
<line x1="28.6" y1="344.9" x2="30.2" y2="344.9" stroke="#1a1a1a" stroke-width="0.9"/>
<line x1="28.6" y1="319.7" x2="30.2" y2="319.7" stroke="#1a1a1a" stroke-width="0.9"/>
<line x1="28.6" y1="294.5" x2="30.2" y2="294.5" stroke="#1a1a1a" stroke-width="0.9"/>
<line x1="28.6" y1="269.3" x2="30.2" y2="269.3" stroke="#1a1a1a" stroke-width="0.9"/>
<line x1="28.6" y1="244.1" x2="30.2" y2="244.1" stroke="#1a1a1a" stroke-width="0.9"/>
<text transform="translate(8,302) rotate(-90)" font-size="11" text-anchor="middle" dominant-baseline="central" font-family="Liberation Serif" font-weight="bold">Concentration (ppbv)</text>
<line x1="40.9" y1="389" x2="40.9" y2="392.6" stroke="#1a1a1a" stroke-width="0.9"/>
<line x1="61.4" y1="389" x2="61.4" y2="392.6" stroke="#1a1a1a" stroke-width="0.9"/>
<line x1="81.9" y1="389" x2="81.9" y2="392.6" stroke="#1a1a1a" stroke-width="0.9"/>
<line x1="102.4" y1="389" x2="102.4" y2="392.6" stroke="#1a1a1a" stroke-width="0.9"/>
<line x1="122.9" y1="389" x2="122.9" y2="392.6" stroke="#1a1a1a" stroke-width="0.9"/>
<line x1="143.4" y1="389" x2="143.4" y2="392.6" stroke="#1a1a1a" stroke-width="0.9"/>
<line x1="163.9" y1="389" x2="163.9" y2="392.6" stroke="#1a1a1a" stroke-width="0.9"/>
<line x1="184.4" y1="389" x2="184.4" y2="392.6" stroke="#1a1a1a" stroke-width="0.9"/>
<line x1="204.9" y1="389" x2="204.9" y2="392.6" stroke="#1a1a1a" stroke-width="0.9"/>
<line x1="225.4" y1="389" x2="225.4" y2="392.6" stroke="#1a1a1a" stroke-width="0.9"/>
<line x1="245.9" y1="389" x2="245.9" y2="392.6" stroke="#1a1a1a" stroke-width="0.9"/>
<line x1="266.4" y1="389" x2="266.4" y2="392.6" stroke="#1a1a1a" stroke-width="0.9"/>
<line x1="286.9" y1="389" x2="286.9" y2="392.6" stroke="#1a1a1a" stroke-width="0.9"/>
<line x1="307.4" y1="389" x2="307.4" y2="392.6" stroke="#1a1a1a" stroke-width="0.9"/>
<line x1="327.9" y1="389" x2="327.9" y2="392.6" stroke="#1a1a1a" stroke-width="0.9"/>
<line x1="34.8" y1="371.8" x2="34.8" y2="374.5" stroke="#8a8a8a" stroke-width="0.75"/>
<line x1="34.8" y1="380.9" x2="34.8" y2="382.5" stroke="#8a8a8a" stroke-width="0.75"/>
<rect x="33.15" y="374.5" width="3.3" height="6.4" fill="#5175be" stroke="#2f4f8c" stroke-width="0.5"/>
<rect x="33.95" y="376.25" width="1.7" height="1.7" fill="#000"/>
<line x1="38.9" y1="368.8" x2="38.9" y2="373.9" stroke="#8a8a8a" stroke-width="0.75"/>
<line x1="38.9" y1="380.2" x2="38.9" y2="382.5" stroke="#8a8a8a" stroke-width="0.75"/>
<rect x="37.25" y="373.9" width="3.3" height="6.3" fill="#f2e29c" stroke="#8f8450" stroke-width="0.5"/>
<rect x="38.05" y="375.85" width="1.7" height="1.7" fill="#000"/>
<line x1="43" y1="371.8" x2="43" y2="376.2" stroke="#8a8a8a" stroke-width="0.75"/>
<line x1="43" y1="381.5" x2="43" y2="382.5" stroke="#8a8a8a" stroke-width="0.75"/>
<rect x="41.35" y="376.2" width="3.3" height="5.3" fill="#ef9f58" stroke="#9c6433" stroke-width="0.5"/>
<rect x="42.15" y="377.45" width="1.7" height="1.7" fill="#000"/>
<line x1="47.1" y1="365.2" x2="47.1" y2="373.6" stroke="#8a8a8a" stroke-width="0.75"/>
<line x1="47.1" y1="381" x2="47.1" y2="382.5" stroke="#8a8a8a" stroke-width="0.75"/>
<rect x="45.45" y="373.6" width="3.3" height="7.4" fill="#e4483b" stroke="#9a2e24" stroke-width="0.5"/>
<rect x="46.25" y="376.25" width="1.7" height="1.7" fill="#000"/>
<line x1="55.3" y1="345.2" x2="55.3" y2="361.8" stroke="#8a8a8a" stroke-width="0.75"/>
<line x1="55.3" y1="376.7" x2="55.3" y2="379.7" stroke="#8a8a8a" stroke-width="0.75"/>
<rect x="53.65" y="361.8" width="3.3" height="14.9" fill="#5175be" stroke="#2f4f8c" stroke-width="0.5"/>
<line x1="53.65" y1="371.3" x2="56.95" y2="371.3" stroke="#111" stroke-width="0.6"/>
<rect x="54.45" y="364.85" width="1.7" height="1.7" fill="#000"/>
<line x1="59.4" y1="217.9" x2="59.4" y2="228.4" stroke="#8a8a8a" stroke-width="0.75"/>
<line x1="59.4" y1="288.5" x2="59.4" y2="346.4" stroke="#8a8a8a" stroke-width="0.75"/>
<rect x="57.75" y="228.4" width="3.3" height="60.1" fill="#f2e29c" stroke="#8f8450" stroke-width="0.5"/>
<line x1="57.75" y1="271.3" x2="61.05" y2="271.3" stroke="#111" stroke-width="0.6"/>
<rect x="58.55" y="265.25" width="1.7" height="1.7" fill="#000"/>
<line x1="63.5" y1="317.2" x2="63.5" y2="353.4" stroke="#8a8a8a" stroke-width="0.75"/>
<line x1="63.5" y1="377.4" x2="63.5" y2="381.1" stroke="#8a8a8a" stroke-width="0.75"/>
<rect x="61.85" y="353.4" width="3.3" height="24" fill="#ef9f58" stroke="#9c6433" stroke-width="0.5"/>
<line x1="61.85" y1="372.2" x2="65.15" y2="372.2" stroke="#111" stroke-width="0.6"/>
<rect x="62.65" y="363.95" width="1.7" height="1.7" fill="#000"/>
<line x1="67.6" y1="310.9" x2="67.6" y2="330.1" stroke="#8a8a8a" stroke-width="0.75"/>
<line x1="67.6" y1="367.4" x2="67.6" y2="377.1" stroke="#8a8a8a" stroke-width="0.75"/>
<rect x="65.95" y="330.1" width="3.3" height="37.3" fill="#e4483b" stroke="#9a2e24" stroke-width="0.5"/>
<line x1="65.95" y1="352.2" x2="69.25" y2="352.2" stroke="#111" stroke-width="0.6"/>
<rect x="66.75" y="336.45" width="1.7" height="1.7" fill="#000"/>
<line x1="75.8" y1="374.5" x2="75.8" y2="378" stroke="#8a8a8a" stroke-width="0.75"/>
<line x1="75.8" y1="381.5" x2="75.8" y2="382.5" stroke="#8a8a8a" stroke-width="0.75"/>
<rect x="74.15" y="378" width="3.3" height="3.5" fill="#5175be" stroke="#2f4f8c" stroke-width="0.5"/>
<rect x="74.95" y="379.15" width="1.7" height="1.7" fill="#000"/>
<line x1="79.9" y1="366.2" x2="79.9" y2="374.8" stroke="#8a8a8a" stroke-width="0.75"/>
<line x1="79.9" y1="379.7" x2="79.9" y2="382.5" stroke="#8a8a8a" stroke-width="0.75"/>
<rect x="78.25" y="374.8" width="3.3" height="4.9" fill="#f2e29c" stroke="#8f8450" stroke-width="0.5"/>
<rect x="79.05" y="375.75" width="1.7" height="1.7" fill="#000"/>
<line x1="84" y1="374" x2="84" y2="379.2" stroke="#8a8a8a" stroke-width="0.75"/>
<line x1="84" y1="381.8" x2="84" y2="382.5" stroke="#8a8a8a" stroke-width="0.75"/>
<rect x="82.35" y="379.2" width="3.3" height="2.6" fill="#ef9f58" stroke="#9c6433" stroke-width="0.5"/>
<rect x="83.15" y="379.65" width="1.7" height="1.7" fill="#000"/>
<line x1="88.1" y1="373.6" x2="88.1" y2="378.8" stroke="#8a8a8a" stroke-width="0.75"/>
<line x1="88.1" y1="381.8" x2="88.1" y2="382.5" stroke="#8a8a8a" stroke-width="0.75"/>
<rect x="86.45" y="378.8" width="3.3" height="3" fill="#e4483b" stroke="#9a2e24" stroke-width="0.5"/>
<rect x="87.25" y="379.35" width="1.7" height="1.7" fill="#000"/>
<line x1="96.3" y1="366.2" x2="96.3" y2="375" stroke="#8a8a8a" stroke-width="0.75"/>
<line x1="96.3" y1="381.5" x2="96.3" y2="382.5" stroke="#8a8a8a" stroke-width="0.75"/>
<rect x="94.65" y="375" width="3.3" height="6.5" fill="#5175be" stroke="#2f4f8c" stroke-width="0.5"/>
<rect x="95.45" y="377.65" width="1.7" height="1.7" fill="#000"/>
<line x1="100.4" y1="355.2" x2="100.4" y2="366.2" stroke="#8a8a8a" stroke-width="0.75"/>
<line x1="100.4" y1="378" x2="100.4" y2="382" stroke="#8a8a8a" stroke-width="0.75"/>
<rect x="98.75" y="366.2" width="3.3" height="11.8" fill="#f2e29c" stroke="#8f8450" stroke-width="0.5"/>
<rect x="99.55" y="371.35" width="1.7" height="1.7" fill="#000"/>
<line x1="104.5" y1="375.3" x2="104.5" y2="376.7" stroke="#8a8a8a" stroke-width="0.75"/>
<line x1="104.5" y1="382" x2="104.5" y2="382.5" stroke="#8a8a8a" stroke-width="0.75"/>
<rect x="102.85" y="376.7" width="3.3" height="5.3" fill="#ef9f58" stroke="#9c6433" stroke-width="0.5"/>
<rect x="103.65" y="378.15" width="1.7" height="1.7" fill="#000"/>
<line x1="108.6" y1="375.3" x2="108.6" y2="377.1" stroke="#8a8a8a" stroke-width="0.75"/>
<line x1="108.6" y1="381.5" x2="108.6" y2="382.5" stroke="#8a8a8a" stroke-width="0.75"/>
<rect x="106.95" y="377.1" width="3.3" height="4.4" fill="#e4483b" stroke="#9a2e24" stroke-width="0.5"/>
<rect x="107.75" y="378.15" width="1.7" height="1.7" fill="#000"/>
<line x1="116.8" y1="371" x2="116.8" y2="374.5" stroke="#8a8a8a" stroke-width="0.75"/>
<line x1="116.8" y1="381" x2="116.8" y2="382.5" stroke="#8a8a8a" stroke-width="0.75"/>
<rect x="115.15" y="374.5" width="3.3" height="6.5" fill="#5175be" stroke="#2f4f8c" stroke-width="0.5"/>
<rect x="115.95" y="376.75" width="1.7" height="1.7" fill="#000"/>
<line x1="120.9" y1="356" x2="120.9" y2="366.9" stroke="#8a8a8a" stroke-width="0.75"/>
<line x1="120.9" y1="377.4" x2="120.9" y2="382" stroke="#8a8a8a" stroke-width="0.75"/>
<rect x="119.25" y="366.9" width="3.3" height="10.5" fill="#f2e29c" stroke="#8f8450" stroke-width="0.5"/>
<line x1="119.25" y1="373.6" x2="122.55" y2="373.6" stroke="#111" stroke-width="0.6"/>
<rect x="120.05" y="370.95" width="1.7" height="1.7" fill="#000"/>
<line x1="125" y1="374.5" x2="125" y2="377.1" stroke="#8a8a8a" stroke-width="0.75"/>
<line x1="125" y1="381.5" x2="125" y2="382.5" stroke="#8a8a8a" stroke-width="0.75"/>
<rect x="123.35" y="377.1" width="3.3" height="4.4" fill="#ef9f58" stroke="#9c6433" stroke-width="0.5"/>
<rect x="124.15" y="378.15" width="1.7" height="1.7" fill="#000"/>
<line x1="129.1" y1="373.6" x2="129.1" y2="376.2" stroke="#8a8a8a" stroke-width="0.75"/>
<line x1="129.1" y1="381.5" x2="129.1" y2="382.5" stroke="#8a8a8a" stroke-width="0.75"/>
<rect x="127.45" y="376.2" width="3.3" height="5.3" fill="#e4483b" stroke="#9a2e24" stroke-width="0.5"/>
<rect x="128.25" y="377.95" width="1.7" height="1.7" fill="#000"/>
<line x1="137.3" y1="375.3" x2="137.3" y2="377.4" stroke="#8a8a8a" stroke-width="0.75"/>
<line x1="137.3" y1="382" x2="137.3" y2="382.5" stroke="#8a8a8a" stroke-width="0.75"/>
<rect x="135.65" y="377.4" width="3.3" height="4.6" fill="#5175be" stroke="#2f4f8c" stroke-width="0.5"/>
<rect x="136.45" y="378.65" width="1.7" height="1.7" fill="#000"/>
<line x1="141.4" y1="362.2" x2="141.4" y2="370" stroke="#8a8a8a" stroke-width="0.75"/>
<line x1="141.4" y1="378.5" x2="141.4" y2="382" stroke="#8a8a8a" stroke-width="0.75"/>
<rect x="139.75" y="370" width="3.3" height="8.5" fill="#f2e29c" stroke="#8f8450" stroke-width="0.5"/>
<rect x="140.55" y="372.75" width="1.7" height="1.7" fill="#000"/>
<line x1="145.5" y1="373.6" x2="145.5" y2="378" stroke="#8a8a8a" stroke-width="0.75"/>
<line x1="145.5" y1="381.8" x2="145.5" y2="382.5" stroke="#8a8a8a" stroke-width="0.75"/>
<rect x="143.85" y="378" width="3.3" height="3.8" fill="#ef9f58" stroke="#9c6433" stroke-width="0.5"/>
<rect x="144.65" y="378.85" width="1.7" height="1.7" fill="#000"/>
<line x1="149.6" y1="374.5" x2="149.6" y2="377.6" stroke="#8a8a8a" stroke-width="0.75"/>
<line x1="149.6" y1="381.8" x2="149.6" y2="382.5" stroke="#8a8a8a" stroke-width="0.75"/>
<rect x="147.95" y="377.6" width="3.3" height="4.2" fill="#e4483b" stroke="#9a2e24" stroke-width="0.5"/>
<rect x="148.75" y="378.55" width="1.7" height="1.7" fill="#000"/>
<line x1="157.8" y1="376.2" x2="157.8" y2="378.5" stroke="#8a8a8a" stroke-width="0.75"/>
<line x1="157.8" y1="382.3" x2="157.8" y2="382.5" stroke="#8a8a8a" stroke-width="0.75"/>
<rect x="156.15" y="378.5" width="3.3" height="3.8" fill="#5175be" stroke="#2f4f8c" stroke-width="0.5"/>
<rect x="156.95" y="380.05" width="1.7" height="1.7" fill="#000"/>
<line x1="161.9" y1="353.4" x2="161.9" y2="364.5" stroke="#8a8a8a" stroke-width="0.75"/>
<line x1="161.9" y1="382" x2="161.9" y2="382.5" stroke="#8a8a8a" stroke-width="0.75"/>
<rect x="160.25" y="364.5" width="3.3" height="17.5" fill="#f2e29c" stroke="#8f8450" stroke-width="0.5"/>
<line x1="160.25" y1="379.7" x2="163.55" y2="379.7" stroke="#111" stroke-width="0.6"/>
<rect x="161.05" y="370.15" width="1.7" height="1.7" fill="#000"/>
<rect x="164.35" y="381.6" width="3.3" height="1" fill="#ef9f58" stroke="#9c6433" stroke-width="0.5"/>
<rect x="165.15" y="380.65" width="1.7" height="1.7" fill="#000"/>
<line x1="170.1" y1="356.4" x2="170.1" y2="368" stroke="#8a8a8a" stroke-width="0.75"/>
<line x1="170.1" y1="380.6" x2="170.1" y2="382.5" stroke="#8a8a8a" stroke-width="0.75"/>
<rect x="168.45" y="368" width="3.3" height="12.6" fill="#e4483b" stroke="#9a2e24" stroke-width="0.5"/>
<rect x="169.25" y="371.85" width="1.7" height="1.7" fill="#000"/>
<line x1="176.65" y1="382.7" x2="179.95" y2="382.7" stroke="#666" stroke-width="0.8"/>
<rect x="177.45" y="381.64" width="1.7" height="1.7" fill="#000"/>
<line x1="180.75" y1="382.7" x2="184.05" y2="382.7" stroke="#666" stroke-width="0.8"/>
<rect x="181.55" y="381.7" width="1.7" height="1.7" fill="#000"/>
<line x1="184.85" y1="382.7" x2="188.15" y2="382.7" stroke="#666" stroke-width="0.8"/>
<rect x="185.65" y="381.85" width="1.7" height="1.7" fill="#000"/>
<line x1="188.95" y1="382.7" x2="192.25" y2="382.7" stroke="#666" stroke-width="0.8"/>
<rect x="189.75" y="381.82" width="1.7" height="1.7" fill="#000"/>
<line x1="198.8" y1="381.5" x2="198.8" y2="382.22" stroke="#8a8a8a" stroke-width="0.75"/>
<line x1="197.15" y1="382.7" x2="200.45" y2="382.7" stroke="#666" stroke-width="0.8"/>
<rect x="197.95" y="381.48" width="1.7" height="1.7" fill="#000"/>
<line x1="202.9" y1="380.43" x2="202.9" y2="381.41" stroke="#8a8a8a" stroke-width="0.75"/>
<rect x="201.25" y="381.41" width="3.3" height="1.29" fill="#f2e29c" stroke="#8f8450" stroke-width="0.5"/>
<line x1="201.25" y1="382.5" x2="204.55" y2="382.5" stroke="#111" stroke-width="0.6"/>
<rect x="202.05" y="381.09" width="1.7" height="1.7" fill="#000"/>
<line x1="205.35" y1="382.7" x2="208.65" y2="382.7" stroke="#666" stroke-width="0.8"/>
<rect x="206.15" y="381.69" width="1.7" height="1.7" fill="#000"/>
<line x1="209.45" y1="382.7" x2="212.75" y2="382.7" stroke="#666" stroke-width="0.8"/>
<rect x="210.25" y="381.46" width="1.7" height="1.7" fill="#000"/>
<line x1="219.3" y1="382.1" x2="219.3" y2="382.2" stroke="#8a8a8a" stroke-width="0.75"/>
<line x1="217.65" y1="382.7" x2="220.95" y2="382.7" stroke="#666" stroke-width="0.8"/>
<rect x="218.45" y="381.35" width="1.7" height="1.7" fill="#000"/>
<line x1="223.4" y1="381.73" x2="223.4" y2="382.23" stroke="#8a8a8a" stroke-width="0.75"/>
<line x1="221.75" y1="382.7" x2="225.05" y2="382.7" stroke="#666" stroke-width="0.8"/>
<rect x="222.55" y="381.55" width="1.7" height="1.7" fill="#000"/>
<line x1="225.85" y1="382.7" x2="229.15" y2="382.7" stroke="#666" stroke-width="0.8"/>
<rect x="226.65" y="381.82" width="1.7" height="1.7" fill="#000"/>
<line x1="229.95" y1="382.7" x2="233.25" y2="382.7" stroke="#666" stroke-width="0.8"/>
<rect x="230.75" y="381.75" width="1.7" height="1.7" fill="#000"/>
<line x1="239.8" y1="380.81" x2="239.8" y2="381.64" stroke="#8a8a8a" stroke-width="0.75"/>
<rect x="238.15" y="381.64" width="3.3" height="1.06" fill="#5175be" stroke="#2f4f8c" stroke-width="0.5"/>
<rect x="238.95" y="381.27" width="1.7" height="1.7" fill="#000"/>
<line x1="243.9" y1="379.05" x2="243.9" y2="381.23" stroke="#8a8a8a" stroke-width="0.75"/>
<rect x="242.25" y="381.23" width="3.3" height="1.47" fill="#f2e29c" stroke="#8f8450" stroke-width="0.5"/>
<line x1="242.25" y1="382.1" x2="245.55" y2="382.1" stroke="#111" stroke-width="0.6"/>
<rect x="243.05" y="380.87" width="1.7" height="1.7" fill="#000"/>
<line x1="246.35" y1="382.7" x2="249.65" y2="382.7" stroke="#666" stroke-width="0.8"/>
<rect x="247.15" y="381.64" width="1.7" height="1.7" fill="#000"/>
<line x1="252.1" y1="381.81" x2="252.1" y2="382.01" stroke="#8a8a8a" stroke-width="0.75"/>
<line x1="250.45" y1="382.7" x2="253.75" y2="382.7" stroke="#666" stroke-width="0.8"/>
<rect x="251.25" y="381.31" width="1.7" height="1.7" fill="#000"/>
<line x1="258.65" y1="382.7" x2="261.95" y2="382.7" stroke="#666" stroke-width="0.8"/>
<rect x="259.45" y="381.72" width="1.7" height="1.7" fill="#000"/>
<line x1="262.75" y1="382.7" x2="266.05" y2="382.7" stroke="#666" stroke-width="0.8"/>
<rect x="263.55" y="381.66" width="1.7" height="1.7" fill="#000"/>
<line x1="266.85" y1="382.7" x2="270.15" y2="382.7" stroke="#666" stroke-width="0.8"/>
<rect x="267.65" y="381.85" width="1.7" height="1.7" fill="#000"/>
<line x1="270.95" y1="382.7" x2="274.25" y2="382.7" stroke="#666" stroke-width="0.8"/>
<rect x="271.75" y="381.81" width="1.7" height="1.7" fill="#000"/>
<line x1="279.15" y1="382.7" x2="282.45" y2="382.7" stroke="#666" stroke-width="0.8"/>
<rect x="279.95" y="381.47" width="1.7" height="1.7" fill="#000"/>
<line x1="283.25" y1="382.7" x2="286.55" y2="382.7" stroke="#666" stroke-width="0.8"/>
<rect x="284.05" y="381.47" width="1.7" height="1.7" fill="#000"/>
<line x1="287.35" y1="382.7" x2="290.65" y2="382.7" stroke="#666" stroke-width="0.8"/>
<rect x="288.15" y="381.72" width="1.7" height="1.7" fill="#000"/>
<line x1="293.1" y1="382.07" x2="293.1" y2="382.69" stroke="#8a8a8a" stroke-width="0.75"/>
<line x1="291.45" y1="382.7" x2="294.75" y2="382.7" stroke="#666" stroke-width="0.8"/>
<rect x="292.25" y="381.6" width="1.7" height="1.7" fill="#000"/>
<line x1="299.65" y1="382.7" x2="302.95" y2="382.7" stroke="#666" stroke-width="0.8"/>
<rect x="300.45" y="381.79" width="1.7" height="1.7" fill="#000"/>
<line x1="303.75" y1="382.7" x2="307.05" y2="382.7" stroke="#666" stroke-width="0.8"/>
<rect x="304.55" y="381.53" width="1.7" height="1.7" fill="#000"/>
<line x1="307.85" y1="382.7" x2="311.15" y2="382.7" stroke="#666" stroke-width="0.8"/>
<rect x="308.65" y="381.81" width="1.7" height="1.7" fill="#000"/>
<line x1="311.95" y1="382.7" x2="315.25" y2="382.7" stroke="#666" stroke-width="0.8"/>
<rect x="312.75" y="381.6" width="1.7" height="1.7" fill="#000"/>
<line x1="320.15" y1="382.7" x2="323.45" y2="382.7" stroke="#666" stroke-width="0.8"/>
<rect x="320.95" y="381.81" width="1.7" height="1.7" fill="#000"/>
<line x1="325.9" y1="381.63" x2="325.9" y2="382.2" stroke="#8a8a8a" stroke-width="0.75"/>
<line x1="324.25" y1="382.7" x2="327.55" y2="382.7" stroke="#666" stroke-width="0.8"/>
<rect x="325.05" y="381.38" width="1.7" height="1.7" fill="#000"/>
<line x1="328.35" y1="382.7" x2="331.65" y2="382.7" stroke="#666" stroke-width="0.8"/>
<rect x="329.15" y="381.72" width="1.7" height="1.7" fill="#000"/>
<line x1="332.45" y1="382.7" x2="335.75" y2="382.7" stroke="#666" stroke-width="0.8"/>
<rect x="333.25" y="381.51" width="1.7" height="1.7" fill="#000"/>
<circle cx="55.5" cy="313.1" r="0.6" fill="#222"/>
<circle cx="67.4" cy="261.7" r="0.6" fill="#222"/>
<circle cx="96" cy="371" r="0.6" fill="#222"/>
<circle cx="105" cy="362" r="0.6" fill="#222"/>
<circle cx="118" cy="367" r="0.6" fill="#222"/>
<circle cx="121" cy="362" r="0.6" fill="#222"/>
<circle cx="125" cy="362" r="0.6" fill="#222"/>
<circle cx="138" cy="371" r="0.6" fill="#222"/>
<circle cx="145" cy="363" r="0.6" fill="#222"/>
<circle cx="147" cy="367" r="0.6" fill="#222"/>
<circle cx="161" cy="364" r="0.6" fill="#222"/>
<circle cx="172" cy="347" r="0.6" fill="#222"/>
<text transform="translate(42.4,398.8) rotate(-24)" font-size="8.6" text-anchor="end" font-family="Liberation Serif" font-weight="bold" >Benzene</text>
<text transform="translate(62.9,398.8) rotate(-24)" font-size="8.6" text-anchor="end" font-family="Liberation Serif" font-weight="bold" >Toluene</text>
<text transform="translate(83.4,398.8) rotate(-24)" font-size="8.6" text-anchor="end" font-family="Liberation Serif" font-weight="bold" >Ethylbenzene</text>
<text transform="translate(103.9,398.8) rotate(-24)" font-size="8.6" text-anchor="end" font-family="Liberation Serif" font-weight="bold" >p-Xylene</text>
<text transform="translate(124.4,398.8) rotate(-24)" font-size="8.6" text-anchor="end" font-family="Liberation Serif" font-weight="bold" >m-Xylene</text>
<text transform="translate(144.9,398.8) rotate(-24)" font-size="8.6" text-anchor="end" font-family="Liberation Serif" font-weight="bold" >o-Xylene</text>
<text transform="translate(165.4,398.8) rotate(-24)" font-size="8.6" text-anchor="end" font-family="Liberation Serif" font-weight="bold" >Styrene</text>
<text transform="translate(185.9,398.8) rotate(-24)" font-size="8.6" text-anchor="end" font-family="Liberation Serif" font-weight="bold" >n-Propylbenzene</text>
<text transform="translate(206.4,398.8) rotate(-24)" font-size="8.6" text-anchor="end" font-family="Liberation Serif" font-weight="bold" >3-Ethyltoluene</text>
<text transform="translate(226.9,398.8) rotate(-24)" font-size="8.6" text-anchor="end" font-family="Liberation Serif" font-weight="bold" >4-Ethyltoluene</text>
<text transform="translate(247.4,398.8) rotate(-24)" font-size="8.6" text-anchor="end" font-family="Liberation Serif" font-weight="bold" >1,2,4-Trimethylbenzene</text>
<text transform="translate(267.9,398.8) rotate(-24)" font-size="8.6" text-anchor="end" font-family="Liberation Serif" font-weight="bold" >m-Diethylbenzene</text>
<text transform="translate(288.4,398.8) rotate(-24)" font-size="8.6" text-anchor="end" font-family="Liberation Serif" font-weight="bold" >p-Diethylbenzene</text>
<text transform="translate(308.9,398.8) rotate(-24)" font-size="8.6" text-anchor="end" font-family="Liberation Serif" font-weight="bold" >Naphthalene</text>
<text transform="translate(329.4,398.8) rotate(-24)" font-size="8.6" text-anchor="end" font-family="Liberation Serif" font-weight="bold" >Other</text>
<text x="63.1" y="235.4" font-size="11" text-anchor="start" font-family="Liberation Serif" font-weight="bold" >(c) Aromatics</text>
<rect x="77.1" y="248.5" width="16.6" height="7.9" fill="#5175be" stroke="#2f4f8c" stroke-width="0.5"/>
<text x="96.4" y="256.1" font-size="8.6" text-anchor="start" font-family="Liberation Serif" font-weight="bold" >GZ</text>
<rect x="77.1" y="259.6" width="16.6" height="7.7" fill="#f2e29c" stroke="#8f8450" stroke-width="0.5"/>
<text x="96.4" y="267" font-size="8.6" text-anchor="start" font-family="Liberation Serif" font-weight="bold" >DG</text>
<rect x="77.1" y="270.4" width="16.6" height="7.6" fill="#ef9f58" stroke="#9c6433" stroke-width="0.5"/>
<text x="96.4" y="277.7" font-size="8.6" text-anchor="start" font-family="Liberation Serif" font-weight="bold" >SZ</text>
<rect x="77.1" y="281.3" width="16.6" height="7.5" fill="#e4483b" stroke="#9a2e24" stroke-width="0.5"/>
<text x="96.4" y="288.5" font-size="8.6" text-anchor="start" font-family="Liberation Serif" font-weight="bold" >HZ</text>
<rect x="137.5" y="233.3" width="191.5" height="99.19999999999999" fill="#fff"/>
<rect x="137.5" y="233.3" width="191.5" height="99.2" fill="none" stroke="#1a1a1a" stroke-width="0.9"/>
<line x1="135.5" y1="327.4" x2="137.5" y2="327.4" stroke="#1a1a1a" stroke-width="0.7"/>
<text x="134.5" y="329.43" font-size="5.2" text-anchor="end" font-family="Liberation Serif" font-weight="bold">0.0</text>
<line x1="135.5" y1="296" x2="137.5" y2="296" stroke="#1a1a1a" stroke-width="0.7"/>
<text x="134.5" y="298.03" font-size="5.2" text-anchor="end" font-family="Liberation Serif" font-weight="bold">0.1</text>
<line x1="135.5" y1="264.6" x2="137.5" y2="264.6" stroke="#1a1a1a" stroke-width="0.7"/>
<text x="134.5" y="266.63" font-size="5.2" text-anchor="end" font-family="Liberation Serif" font-weight="bold">0.2</text>
<line x1="135.5" y1="233.2" x2="137.5" y2="233.2" stroke="#1a1a1a" stroke-width="0.7"/>
<text x="134.5" y="235.23" font-size="5.2" text-anchor="end" font-family="Liberation Serif" font-weight="bold">0.3</text>
<line x1="136.5" y1="311.7" x2="137.5" y2="311.7" stroke="#1a1a1a" stroke-width="0.7"/>
<line x1="136.5" y1="280.3" x2="137.5" y2="280.3" stroke="#1a1a1a" stroke-width="0.7"/>
<line x1="136.5" y1="248.9" x2="137.5" y2="248.9" stroke="#1a1a1a" stroke-width="0.7"/>
<text transform="translate(122.6,283) rotate(-90)" font-size="7.4" text-anchor="middle" dominant-baseline="central" font-family="Liberation Serif" font-weight="bold">Concentration (ppbv)</text>
<line x1="149" y1="332.5" x2="149" y2="334.5" stroke="#1a1a1a" stroke-width="0.7"/>
<line x1="173" y1="332.5" x2="173" y2="334.5" stroke="#1a1a1a" stroke-width="0.7"/>
<line x1="197" y1="332.5" x2="197" y2="334.5" stroke="#1a1a1a" stroke-width="0.7"/>
<line x1="221" y1="332.5" x2="221" y2="334.5" stroke="#1a1a1a" stroke-width="0.7"/>
<line x1="245" y1="332.5" x2="245" y2="334.5" stroke="#1a1a1a" stroke-width="0.7"/>
<line x1="269" y1="332.5" x2="269" y2="334.5" stroke="#1a1a1a" stroke-width="0.7"/>
<line x1="293" y1="332.5" x2="293" y2="334.5" stroke="#1a1a1a" stroke-width="0.7"/>
<line x1="317" y1="332.5" x2="317" y2="334.5" stroke="#1a1a1a" stroke-width="0.7"/>
<line x1="140.5" y1="327.4" x2="143.7" y2="327.4" stroke="#666" stroke-width="0.8"/>
<rect x="141.25" y="321.21" width="1.7" height="1.7" fill="#000"/>
<line x1="145.1" y1="327.4" x2="148.3" y2="327.4" stroke="#666" stroke-width="0.8"/>
<rect x="145.85" y="322.78" width="1.7" height="1.7" fill="#000"/>
<line x1="149.7" y1="327.4" x2="152.9" y2="327.4" stroke="#666" stroke-width="0.8"/>
<rect x="150.45" y="326.55" width="1.7" height="1.7" fill="#000"/>
<line x1="154.3" y1="327.4" x2="157.5" y2="327.4" stroke="#666" stroke-width="0.8"/>
<rect x="155.05" y="325.92" width="1.7" height="1.7" fill="#000"/>
<line x1="166.1" y1="297.57" x2="166.1" y2="315.47" stroke="#a5a5a5" stroke-width="0.75"/>
<rect x="164.5" y="315.47" width="3.2" height="11.93" fill="#5175be" stroke="#2f4f8c" stroke-width="0.5"/>
<rect x="165.25" y="317.44" width="1.7" height="1.7" fill="#000"/>
<line x1="170.7" y1="270.88" x2="170.7" y2="295.37" stroke="#a5a5a5" stroke-width="0.75"/>
<rect x="169.1" y="295.37" width="3.2" height="32.03" fill="#f2e29c" stroke="#8f8450" stroke-width="0.5"/>
<line x1="169.1" y1="322.38" x2="172.3" y2="322.38" stroke="#111" stroke-width="0.6"/>
<rect x="169.85" y="307.71" width="1.7" height="1.7" fill="#000"/>
<line x1="173.7" y1="327.4" x2="176.9" y2="327.4" stroke="#666" stroke-width="0.8"/>
<rect x="174.45" y="322.47" width="1.7" height="1.7" fill="#000"/>
<line x1="178.3" y1="327.4" x2="181.5" y2="327.4" stroke="#666" stroke-width="0.8"/>
<rect x="179.05" y="316.82" width="1.7" height="1.7" fill="#000"/>
<line x1="190.1" y1="312.33" x2="190.1" y2="314.84" stroke="#a5a5a5" stroke-width="0.75"/>
<rect x="188.5" y="314.84" width="3.2" height="12.56" fill="#5175be" stroke="#2f4f8c" stroke-width="0.5"/>
<rect x="189.25" y="313.99" width="1.7" height="1.7" fill="#000"/>
<line x1="194.7" y1="303.22" x2="194.7" y2="315.78" stroke="#a5a5a5" stroke-width="0.75"/>
<rect x="193.1" y="315.78" width="3.2" height="11.62" fill="#f2e29c" stroke="#8f8450" stroke-width="0.5"/>
<rect x="193.85" y="319.01" width="1.7" height="1.7" fill="#000"/>
<line x1="197.7" y1="327.4" x2="200.9" y2="327.4" stroke="#666" stroke-width="0.8"/>
<rect x="198.45" y="325.92" width="1.7" height="1.7" fill="#000"/>
<line x1="202.3" y1="327.4" x2="205.5" y2="327.4" stroke="#666" stroke-width="0.8"/>
<rect x="203.05" y="324.04" width="1.7" height="1.7" fill="#000"/>
<line x1="214.1" y1="280.3" x2="214.1" y2="301.02" stroke="#a5a5a5" stroke-width="0.75"/>
<rect x="212.5" y="301.02" width="3.2" height="26.38" fill="#5175be" stroke="#2f4f8c" stroke-width="0.5"/>
<rect x="213.25" y="312.11" width="1.7" height="1.7" fill="#000"/>
<line x1="218.7" y1="236.34" x2="218.7" y2="290.66" stroke="#a5a5a5" stroke-width="0.75"/>
<rect x="217.1" y="290.66" width="3.2" height="36.74" fill="#f2e29c" stroke="#8f8450" stroke-width="0.5"/>
<line x1="217.1" y1="312.33" x2="220.3" y2="312.33" stroke="#111" stroke-width="0.6"/>
<rect x="217.85" y="302.06" width="1.7" height="1.7" fill="#000"/>
<line x1="221.7" y1="327.4" x2="224.9" y2="327.4" stroke="#666" stroke-width="0.8"/>
<rect x="222.45" y="321.21" width="1.7" height="1.7" fill="#000"/>
<line x1="227.9" y1="305.11" x2="227.9" y2="310.13" stroke="#a5a5a5" stroke-width="0.75"/>
<rect x="226.3" y="310.13" width="3.2" height="17.27" fill="#e4483b" stroke="#9a2e24" stroke-width="0.5"/>
<rect x="227.05" y="313.05" width="1.7" height="1.7" fill="#000"/>
<line x1="236.5" y1="327.4" x2="239.7" y2="327.4" stroke="#666" stroke-width="0.8"/>
<rect x="237.25" y="323.41" width="1.7" height="1.7" fill="#000"/>
<line x1="241.1" y1="327.4" x2="244.3" y2="327.4" stroke="#666" stroke-width="0.8"/>
<rect x="241.85" y="321.84" width="1.7" height="1.7" fill="#000"/>
<line x1="245.7" y1="327.4" x2="248.9" y2="327.4" stroke="#666" stroke-width="0.8"/>
<rect x="246.45" y="326.55" width="1.7" height="1.7" fill="#000"/>
<line x1="250.3" y1="327.4" x2="253.5" y2="327.4" stroke="#666" stroke-width="0.8"/>
<rect x="251.05" y="325.61" width="1.7" height="1.7" fill="#000"/>
<line x1="260.5" y1="327.4" x2="263.7" y2="327.4" stroke="#666" stroke-width="0.8"/>
<rect x="261.25" y="317.13" width="1.7" height="1.7" fill="#000"/>
<line x1="265.1" y1="327.4" x2="268.3" y2="327.4" stroke="#666" stroke-width="0.8"/>
<rect x="265.85" y="317.13" width="1.7" height="1.7" fill="#000"/>
<line x1="269.7" y1="327.4" x2="272.9" y2="327.4" stroke="#666" stroke-width="0.8"/>
<rect x="270.45" y="323.41" width="1.7" height="1.7" fill="#000"/>
<line x1="275.9" y1="311.7" x2="275.9" y2="327.09" stroke="#a5a5a5" stroke-width="0.75"/>
<line x1="274.3" y1="327.4" x2="277.5" y2="327.4" stroke="#666" stroke-width="0.8"/>
<rect x="275.05" y="320.27" width="1.7" height="1.7" fill="#000"/>
<line x1="284.5" y1="327.4" x2="287.7" y2="327.4" stroke="#666" stroke-width="0.8"/>
<rect x="285.25" y="324.98" width="1.7" height="1.7" fill="#000"/>
<line x1="289.1" y1="327.4" x2="292.3" y2="327.4" stroke="#666" stroke-width="0.8"/>
<rect x="289.85" y="318.7" width="1.7" height="1.7" fill="#000"/>
<line x1="293.7" y1="327.4" x2="296.9" y2="327.4" stroke="#666" stroke-width="0.8"/>
<rect x="294.45" y="325.61" width="1.7" height="1.7" fill="#000"/>
<rect x="298.3" y="317.04" width="3.2" height="10.36" fill="#e4483b" stroke="#9a2e24" stroke-width="0.5"/>
<rect x="299.05" y="320.27" width="1.7" height="1.7" fill="#000"/>
<line x1="308.5" y1="327.4" x2="311.7" y2="327.4" stroke="#666" stroke-width="0.8"/>
<rect x="309.25" y="325.61" width="1.7" height="1.7" fill="#000"/>
<line x1="314.7" y1="300.71" x2="314.7" y2="314.84" stroke="#a5a5a5" stroke-width="0.75"/>
<rect x="313.1" y="314.84" width="3.2" height="12.56" fill="#f2e29c" stroke="#8f8450" stroke-width="0.5"/>
<rect x="313.85" y="314.93" width="1.7" height="1.7" fill="#000"/>
<line x1="317.7" y1="327.4" x2="320.9" y2="327.4" stroke="#666" stroke-width="0.8"/>
<rect x="318.45" y="323.41" width="1.7" height="1.7" fill="#000"/>
<line x1="322.3" y1="327.4" x2="325.5" y2="327.4" stroke="#666" stroke-width="0.8"/>
<rect x="323.05" y="318.07" width="1.7" height="1.7" fill="#000"/>
<circle cx="147" cy="292" r="0.5" fill="#aaa"/>
<circle cx="155" cy="267" r="0.5" fill="#aaa"/>
<circle cx="161" cy="259" r="0.5" fill="#aaa"/>
<circle cx="178" cy="290" r="0.5" fill="#aaa"/>
<circle cx="183" cy="262" r="0.5" fill="#aaa"/>
<circle cx="200" cy="286" r="0.5" fill="#aaa"/>
<circle cx="198" cy="262" r="0.5" fill="#aaa"/>
<circle cx="212" cy="242" r="0.5" fill="#aaa"/>
<circle cx="236" cy="308" r="0.5" fill="#aaa"/>
<circle cx="245" cy="286" r="0.5" fill="#aaa"/>
<circle cx="258" cy="292" r="0.5" fill="#aaa"/>
<circle cx="262" cy="267" r="0.5" fill="#aaa"/>
<circle cx="273" cy="280" r="0.5" fill="#aaa"/>
<circle cx="284" cy="282" r="0.5" fill="#aaa"/>
<circle cx="296" cy="290" r="0.5" fill="#aaa"/>
<circle cx="309" cy="252" r="0.5" fill="#aaa"/>
<circle cx="314" cy="276" r="0.5" fill="#aaa"/>
<circle cx="322" cy="260" r="0.5" fill="#aaa"/>
<text transform="translate(150.2,338.5) rotate(-22)" font-size="4.7" text-anchor="end" font-family="Liberation Serif" font-weight="bold" >n-Propylbenzene</text>
<text transform="translate(174.2,338.5) rotate(-22)" font-size="4.7" text-anchor="end" font-family="Liberation Serif" font-weight="bold" >3-Ethyltoluene</text>
<text transform="translate(198.2,338.5) rotate(-22)" font-size="4.7" text-anchor="end" font-family="Liberation Serif" font-weight="bold" >4-Ethyltoluene</text>
<text transform="translate(222.2,338.5) rotate(-22)" font-size="4.7" text-anchor="end" font-family="Liberation Serif" font-weight="bold" >1,2,4-Trimethylbenzene</text>
<text transform="translate(246.2,338.5) rotate(-22)" font-size="4.7" text-anchor="end" font-family="Liberation Serif" font-weight="bold" >m-Diethylbenzene</text>
<text transform="translate(270.2,338.5) rotate(-22)" font-size="4.7" text-anchor="end" font-family="Liberation Serif" font-weight="bold" >p-Diethylbenzene</text>
<text transform="translate(294.2,338.5) rotate(-22)" font-size="4.7" text-anchor="end" font-family="Liberation Serif" font-weight="bold" >Naphthalene</text>
<text transform="translate(318.2,338.5) rotate(-22)" font-size="4.7" text-anchor="end" font-family="Liberation Serif" font-weight="bold" >Other</text>
<path d="M174.6,370.6 L340.7,370.6 L340.7,393.4 L174.6,393.4 Z" fill="none" stroke="#2233ee" stroke-width="1.3" stroke-dasharray="5,3"/>
<path d="M184,356.8 L200.7,370.6" fill="none" stroke="#2233ee" stroke-width="1.3" stroke-dasharray="5,3"/>
<path d="M311.8,351 L288,370.6" fill="none" stroke="#2233ee" stroke-width="1.3" stroke-dasharray="5,3"/>
<rect x="365.9" y="217.9" width="307.9" height="171.1" fill="none" stroke="#1a1a1a" stroke-width="1.1"/>
<line x1="362.9" y1="385.3" x2="365.9" y2="385.3" stroke="#1a1a1a" stroke-width="0.9"/>
<text x="360.9" y="388.81" font-size="9" text-anchor="end" font-family="Liberation Serif" font-weight="bold">0</text>
<line x1="362.9" y1="348.2" x2="365.9" y2="348.2" stroke="#1a1a1a" stroke-width="0.9"/>
<text x="360.9" y="351.71" font-size="9" text-anchor="end" font-family="Liberation Serif" font-weight="bold">2</text>
<line x1="362.9" y1="311.1" x2="365.9" y2="311.1" stroke="#1a1a1a" stroke-width="0.9"/>
<text x="360.9" y="314.61" font-size="9" text-anchor="end" font-family="Liberation Serif" font-weight="bold">4</text>
<line x1="362.9" y1="274" x2="365.9" y2="274" stroke="#1a1a1a" stroke-width="0.9"/>
<text x="360.9" y="277.51" font-size="9" text-anchor="end" font-family="Liberation Serif" font-weight="bold">6</text>
<line x1="362.9" y1="236.9" x2="365.9" y2="236.9" stroke="#1a1a1a" stroke-width="0.9"/>
<text x="360.9" y="240.41" font-size="9" text-anchor="end" font-family="Liberation Serif" font-weight="bold">8</text>
<line x1="364.3" y1="366.75" x2="365.9" y2="366.75" stroke="#1a1a1a" stroke-width="0.9"/>
<line x1="364.3" y1="329.65" x2="365.9" y2="329.65" stroke="#1a1a1a" stroke-width="0.9"/>
<line x1="364.3" y1="292.55" x2="365.9" y2="292.55" stroke="#1a1a1a" stroke-width="0.9"/>
<line x1="364.3" y1="255.45" x2="365.9" y2="255.45" stroke="#1a1a1a" stroke-width="0.9"/>
<text transform="translate(347.4,302) rotate(-90)" font-size="11" text-anchor="middle" dominant-baseline="central" font-family="Liberation Serif" font-weight="bold">Concentration (ppbv)</text>
<line x1="376.4" y1="389" x2="376.4" y2="392.6" stroke="#1a1a1a" stroke-width="0.9"/>
<line x1="396.85" y1="389" x2="396.85" y2="392.6" stroke="#1a1a1a" stroke-width="0.9"/>
<line x1="417.3" y1="389" x2="417.3" y2="392.6" stroke="#1a1a1a" stroke-width="0.9"/>
<line x1="437.75" y1="389" x2="437.75" y2="392.6" stroke="#1a1a1a" stroke-width="0.9"/>
<line x1="458.2" y1="389" x2="458.2" y2="392.6" stroke="#1a1a1a" stroke-width="0.9"/>
<line x1="478.65" y1="389" x2="478.65" y2="392.6" stroke="#1a1a1a" stroke-width="0.9"/>
<line x1="499.1" y1="389" x2="499.1" y2="392.6" stroke="#1a1a1a" stroke-width="0.9"/>
<line x1="519.55" y1="389" x2="519.55" y2="392.6" stroke="#1a1a1a" stroke-width="0.9"/>
<line x1="540" y1="389" x2="540" y2="392.6" stroke="#1a1a1a" stroke-width="0.9"/>
<line x1="560.45" y1="389" x2="560.45" y2="392.6" stroke="#1a1a1a" stroke-width="0.9"/>
<line x1="580.9" y1="389" x2="580.9" y2="392.6" stroke="#1a1a1a" stroke-width="0.9"/>
<line x1="601.35" y1="389" x2="601.35" y2="392.6" stroke="#1a1a1a" stroke-width="0.9"/>
<line x1="621.8" y1="389" x2="621.8" y2="392.6" stroke="#1a1a1a" stroke-width="0.9"/>
<line x1="642.25" y1="389" x2="642.25" y2="392.6" stroke="#1a1a1a" stroke-width="0.9"/>
<line x1="662.7" y1="389" x2="662.7" y2="392.6" stroke="#1a1a1a" stroke-width="0.9"/>
<line x1="370.4" y1="342.9" x2="370.4" y2="348.4" stroke="#8a8a8a" stroke-width="0.75"/>
<line x1="370.4" y1="359.9" x2="370.4" y2="365.4" stroke="#8a8a8a" stroke-width="0.75"/>
<rect x="368.75" y="348.4" width="3.3" height="11.5" fill="#5175be" stroke="#2f4f8c" stroke-width="0.5"/>
<rect x="369.55" y="353.95" width="1.7" height="1.7" fill="#000"/>
<line x1="374.4" y1="333.1" x2="374.4" y2="345.4" stroke="#8a8a8a" stroke-width="0.75"/>
<line x1="374.4" y1="361.3" x2="374.4" y2="367.4" stroke="#8a8a8a" stroke-width="0.75"/>
<rect x="372.75" y="345.4" width="3.3" height="15.9" fill="#f2e29c" stroke="#8f8450" stroke-width="0.5"/>
<rect x="373.55" y="349.25" width="1.7" height="1.7" fill="#000"/>
<line x1="378.4" y1="320.4" x2="378.4" y2="342.9" stroke="#8a8a8a" stroke-width="0.75"/>
<line x1="378.4" y1="363.8" x2="378.4" y2="371.1" stroke="#8a8a8a" stroke-width="0.75"/>
<rect x="376.75" y="342.9" width="3.3" height="20.9" fill="#ef9f58" stroke="#9c6433" stroke-width="0.5"/>
<rect x="377.55" y="349.65" width="1.7" height="1.7" fill="#000"/>
<line x1="382.4" y1="333.1" x2="382.4" y2="343.9" stroke="#8a8a8a" stroke-width="0.75"/>
<line x1="382.4" y1="362.7" x2="382.4" y2="376.6" stroke="#8a8a8a" stroke-width="0.75"/>
<rect x="380.75" y="343.9" width="3.3" height="18.8" fill="#e4483b" stroke="#9a2e24" stroke-width="0.5"/>
<rect x="381.55" y="350.15" width="1.7" height="1.7" fill="#000"/>
<line x1="389.25" y1="385.3" x2="392.45" y2="385.3" stroke="#888" stroke-width="0.6"/>
<rect x="390" y="384.1" width="1.7" height="1.7" fill="#111"/>
<line x1="393.25" y1="385.3" x2="396.45" y2="385.3" stroke="#888" stroke-width="0.6"/>
<rect x="394" y="384.1" width="1.7" height="1.7" fill="#111"/>
<line x1="397.25" y1="385.3" x2="400.45" y2="385.3" stroke="#888" stroke-width="0.6"/>
<rect x="398" y="384.1" width="1.7" height="1.7" fill="#111"/>
<line x1="401.25" y1="385.3" x2="404.45" y2="385.3" stroke="#888" stroke-width="0.6"/>
<rect x="402" y="384.1" width="1.7" height="1.7" fill="#111"/>
<line x1="411.3" y1="374" x2="411.3" y2="376.6" stroke="#8a8a8a" stroke-width="0.75"/>
<line x1="411.3" y1="381.1" x2="411.3" y2="383" stroke="#8a8a8a" stroke-width="0.75"/>
<rect x="409.65" y="376.6" width="3.3" height="4.5" fill="#5175be" stroke="#2f4f8c" stroke-width="0.5"/>
<rect x="410.45" y="378.15" width="1.7" height="1.7" fill="#000"/>
<line x1="415.3" y1="374.6" x2="415.3" y2="377.7" stroke="#8a8a8a" stroke-width="0.75"/>
<line x1="415.3" y1="381.7" x2="415.3" y2="383.5" stroke="#8a8a8a" stroke-width="0.75"/>
<rect x="413.65" y="377.7" width="3.3" height="4" fill="#f2e29c" stroke="#8f8450" stroke-width="0.5"/>
<rect x="414.45" y="378.65" width="1.7" height="1.7" fill="#000"/>
<line x1="419.3" y1="371.9" x2="419.3" y2="376" stroke="#8a8a8a" stroke-width="0.75"/>
<line x1="419.3" y1="381.3" x2="419.3" y2="384" stroke="#8a8a8a" stroke-width="0.75"/>
<rect x="417.65" y="376" width="3.3" height="5.3" fill="#ef9f58" stroke="#9c6433" stroke-width="0.5"/>
<rect x="418.45" y="377.15" width="1.7" height="1.7" fill="#000"/>
<line x1="423.3" y1="371.1" x2="423.3" y2="375.2" stroke="#8a8a8a" stroke-width="0.75"/>
<line x1="423.3" y1="382.4" x2="423.3" y2="384.5" stroke="#8a8a8a" stroke-width="0.75"/>
<rect x="421.65" y="375.2" width="3.3" height="7.2" fill="#e4483b" stroke="#9a2e24" stroke-width="0.5"/>
<rect x="422.45" y="377.65" width="1.7" height="1.7" fill="#000"/>
<line x1="430.15" y1="385.3" x2="433.35" y2="385.3" stroke="#888" stroke-width="0.6"/>
<rect x="430.9" y="384.1" width="1.7" height="1.7" fill="#111"/>
<line x1="434.15" y1="385.3" x2="437.35" y2="385.3" stroke="#888" stroke-width="0.6"/>
<rect x="434.9" y="384.1" width="1.7" height="1.7" fill="#111"/>
<line x1="438.15" y1="385.3" x2="441.35" y2="385.3" stroke="#888" stroke-width="0.6"/>
<rect x="438.9" y="384.1" width="1.7" height="1.7" fill="#111"/>
<line x1="442.15" y1="385.3" x2="445.35" y2="385.3" stroke="#888" stroke-width="0.6"/>
<rect x="442.9" y="384.1" width="1.7" height="1.7" fill="#111"/>
<line x1="452.2" y1="255.3" x2="452.2" y2="284" stroke="#8a8a8a" stroke-width="0.75"/>
<line x1="452.2" y1="348.4" x2="452.2" y2="353.5" stroke="#8a8a8a" stroke-width="0.75"/>
<rect x="450.55" y="284" width="3.3" height="64.4" fill="#5175be" stroke="#2f4f8c" stroke-width="0.5"/>
<line x1="450.55" y1="329.6" x2="453.85" y2="329.6" stroke="#111" stroke-width="0.6"/>
<rect x="451.35" y="314.45" width="1.7" height="1.7" fill="#000"/>
<line x1="456.2" y1="217.9" x2="456.2" y2="243.4" stroke="#8a8a8a" stroke-width="0.75"/>
<line x1="456.2" y1="309.4" x2="456.2" y2="355.6" stroke="#8a8a8a" stroke-width="0.75"/>
<rect x="454.55" y="243.4" width="3.3" height="66" fill="#f2e29c" stroke="#8f8450" stroke-width="0.5"/>
<line x1="454.55" y1="288.1" x2="457.85" y2="288.1" stroke="#111" stroke-width="0.6"/>
<rect x="455.35" y="278.55" width="1.7" height="1.7" fill="#000"/>
<line x1="460.2" y1="252.6" x2="460.2" y2="288.4" stroke="#8a8a8a" stroke-width="0.75"/>
<line x1="460.2" y1="363.8" x2="460.2" y2="385.3" stroke="#8a8a8a" stroke-width="0.75"/>
<rect x="458.55" y="288.4" width="3.3" height="75.4" fill="#ef9f58" stroke="#9c6433" stroke-width="0.5"/>
<line x1="458.55" y1="322" x2="461.85" y2="322" stroke="#111" stroke-width="0.6"/>
<rect x="459.35" y="320.65" width="1.7" height="1.7" fill="#000"/>
<line x1="464.2" y1="273.1" x2="464.2" y2="305.3" stroke="#8a8a8a" stroke-width="0.75"/>
<line x1="464.2" y1="333.1" x2="464.2" y2="342.9" stroke="#8a8a8a" stroke-width="0.75"/>
<rect x="462.55" y="305.3" width="3.3" height="27.8" fill="#e4483b" stroke="#9a2e24" stroke-width="0.5"/>
<line x1="462.55" y1="322.5" x2="465.85" y2="322.5" stroke="#111" stroke-width="0.6"/>
<rect x="463.35" y="314.45" width="1.7" height="1.7" fill="#000"/>
<line x1="471.05" y1="385.3" x2="474.25" y2="385.3" stroke="#888" stroke-width="0.6"/>
<rect x="471.8" y="384.1" width="1.7" height="1.7" fill="#111"/>
<line x1="475.05" y1="385.3" x2="478.25" y2="385.3" stroke="#888" stroke-width="0.6"/>
<rect x="475.8" y="384.1" width="1.7" height="1.7" fill="#111"/>
<line x1="479.05" y1="385.3" x2="482.25" y2="385.3" stroke="#888" stroke-width="0.6"/>
<rect x="479.8" y="384.1" width="1.7" height="1.7" fill="#111"/>
<line x1="483.05" y1="385.3" x2="486.25" y2="385.3" stroke="#888" stroke-width="0.6"/>
<rect x="483.8" y="384.1" width="1.7" height="1.7" fill="#111"/>
<line x1="473.25" y1="383.63" x2="473.25" y2="383.91" stroke="#8a8a8a" stroke-width="0.75"/>
<rect x="471.6" y="383.91" width="3.3" height="1.39" fill="#5175be" stroke="#2f4f8c" stroke-width="0.5"/>
<line x1="471.6" y1="384.74" x2="474.9" y2="384.74" stroke="#111" stroke-width="0.6"/>
<rect x="472.4" y="383.89" width="1.7" height="1.7" fill="#000"/>
<line x1="477.25" y1="383.82" x2="477.25" y2="384.09" stroke="#8a8a8a" stroke-width="0.75"/>
<line x1="477.25" y1="384.56" x2="477.25" y2="384.93" stroke="#8a8a8a" stroke-width="0.75"/>
<line x1="475.6" y1="384.56" x2="478.9" y2="384.56" stroke="#666" stroke-width="0.8"/>
<line x1="475.6" y1="384.28" x2="478.9" y2="384.28" stroke="#111" stroke-width="0.6"/>
<rect x="476.4" y="383.43" width="1.7" height="1.7" fill="#000"/>
<line x1="481.25" y1="383.07" x2="481.25" y2="383.44" stroke="#8a8a8a" stroke-width="0.75"/>
<rect x="479.6" y="383.44" width="3.3" height="1.86" fill="#ef9f58" stroke="#9c6433" stroke-width="0.5"/>
<line x1="479.6" y1="384.37" x2="482.9" y2="384.37" stroke="#111" stroke-width="0.6"/>
<rect x="480.4" y="383.43" width="1.7" height="1.7" fill="#000"/>
<line x1="485.25" y1="382.33" x2="485.25" y2="383.44" stroke="#8a8a8a" stroke-width="0.75"/>
<rect x="483.6" y="383.44" width="3.3" height="1.86" fill="#e4483b" stroke="#9a2e24" stroke-width="0.5"/>
<line x1="483.6" y1="384.56" x2="486.9" y2="384.56" stroke="#111" stroke-width="0.6"/>
<rect x="484.4" y="383.49" width="1.7" height="1.7" fill="#000"/>
<line x1="493.7" y1="382.7" x2="493.7" y2="382.94" stroke="#8a8a8a" stroke-width="0.75"/>
<line x1="493.7" y1="384.28" x2="493.7" y2="385.3" stroke="#8a8a8a" stroke-width="0.75"/>
<rect x="492.05" y="382.94" width="3.3" height="1.34" fill="#5175be" stroke="#2f4f8c" stroke-width="0.5"/>
<line x1="492.05" y1="383.63" x2="495.35" y2="383.63" stroke="#111" stroke-width="0.6"/>
<rect x="492.85" y="382.47" width="1.7" height="1.7" fill="#000"/>
<line x1="497.7" y1="377.14" x2="497.7" y2="380.48" stroke="#8a8a8a" stroke-width="0.75"/>
<line x1="497.7" y1="384.45" x2="497.7" y2="385.3" stroke="#8a8a8a" stroke-width="0.75"/>
<rect x="496.05" y="380.48" width="3.3" height="3.97" fill="#f2e29c" stroke="#8f8450" stroke-width="0.5"/>
<line x1="496.05" y1="382.02" x2="499.35" y2="382.02" stroke="#111" stroke-width="0.6"/>
<rect x="496.85" y="379.52" width="1.7" height="1.7" fill="#000"/>
<line x1="501.7" y1="377.88" x2="501.7" y2="380.66" stroke="#8a8a8a" stroke-width="0.75"/>
<line x1="501.7" y1="384.56" x2="501.7" y2="385.3" stroke="#8a8a8a" stroke-width="0.75"/>
<rect x="500.05" y="380.66" width="3.3" height="3.9" fill="#ef9f58" stroke="#9c6433" stroke-width="0.5"/>
<line x1="500.05" y1="383.63" x2="503.35" y2="383.63" stroke="#111" stroke-width="0.6"/>
<rect x="500.85" y="381.57" width="1.7" height="1.7" fill="#000"/>
<line x1="505.7" y1="368.79" x2="505.7" y2="373.24" stroke="#8a8a8a" stroke-width="0.75"/>
<line x1="505.7" y1="382.33" x2="505.7" y2="385.3" stroke="#8a8a8a" stroke-width="0.75"/>
<rect x="504.05" y="373.24" width="3.3" height="9.09" fill="#e4483b" stroke="#9a2e24" stroke-width="0.5"/>
<line x1="504.05" y1="380.48" x2="507.35" y2="380.48" stroke="#111" stroke-width="0.6"/>
<rect x="504.85" y="374.06" width="1.7" height="1.7" fill="#000"/>
<line x1="514.15" y1="367.49" x2="514.15" y2="376.95" stroke="#8a8a8a" stroke-width="0.75"/>
<line x1="514.15" y1="383.57" x2="514.15" y2="384.74" stroke="#8a8a8a" stroke-width="0.75"/>
<rect x="512.5" y="376.95" width="3.3" height="6.62" fill="#5175be" stroke="#2f4f8c" stroke-width="0.5"/>
<line x1="512.5" y1="378.62" x2="515.8" y2="378.62" stroke="#111" stroke-width="0.6"/>
<rect x="513.3" y="378.4" width="1.7" height="1.7" fill="#000"/>
<line x1="518.15" y1="369.72" x2="518.15" y2="374.26" stroke="#8a8a8a" stroke-width="0.75"/>
<line x1="518.15" y1="382.94" x2="518.15" y2="385.3" stroke="#8a8a8a" stroke-width="0.75"/>
<rect x="516.5" y="374.26" width="3.3" height="8.68" fill="#f2e29c" stroke="#8f8450" stroke-width="0.5"/>
<line x1="516.5" y1="376.4" x2="519.8" y2="376.4" stroke="#111" stroke-width="0.6"/>
<rect x="517.3" y="373.13" width="1.7" height="1.7" fill="#000"/>
<line x1="522.15" y1="373.61" x2="522.15" y2="376.95" stroke="#8a8a8a" stroke-width="0.75"/>
<line x1="522.15" y1="383.17" x2="522.15" y2="385.3" stroke="#8a8a8a" stroke-width="0.75"/>
<rect x="520.5" y="376.95" width="3.3" height="6.21" fill="#ef9f58" stroke="#9c6433" stroke-width="0.5"/>
<line x1="520.5" y1="379.92" x2="523.8" y2="379.92" stroke="#111" stroke-width="0.6"/>
<rect x="521.3" y="379.07" width="1.7" height="1.7" fill="#000"/>
<line x1="526.15" y1="370.46" x2="526.15" y2="375.84" stroke="#8a8a8a" stroke-width="0.75"/>
<line x1="526.15" y1="383.32" x2="526.15" y2="385.3" stroke="#8a8a8a" stroke-width="0.75"/>
<rect x="524.5" y="375.84" width="3.3" height="7.48" fill="#e4483b" stroke="#9a2e24" stroke-width="0.5"/>
<line x1="524.5" y1="379.92" x2="527.8" y2="379.92" stroke="#111" stroke-width="0.6"/>
<rect x="525.3" y="378.51" width="1.7" height="1.7" fill="#000"/>
<line x1="534.6" y1="383.82" x2="534.6" y2="384.11" stroke="#8a8a8a" stroke-width="0.75"/>
<line x1="534.6" y1="385.11" x2="534.6" y2="385.3" stroke="#8a8a8a" stroke-width="0.75"/>
<rect x="532.95" y="384.11" width="3.3" height="1" fill="#5175be" stroke="#2f4f8c" stroke-width="0.5"/>
<line x1="532.95" y1="384.74" x2="536.25" y2="384.74" stroke="#111" stroke-width="0.6"/>
<rect x="533.75" y="383.89" width="1.7" height="1.7" fill="#000"/>
<line x1="538.6" y1="382.89" x2="538.6" y2="383.32" stroke="#8a8a8a" stroke-width="0.75"/>
<line x1="538.6" y1="384.8" x2="538.6" y2="385.3" stroke="#8a8a8a" stroke-width="0.75"/>
<rect x="536.95" y="383.32" width="3.3" height="1.48" fill="#f2e29c" stroke="#8f8450" stroke-width="0.5"/>
<line x1="536.95" y1="384.19" x2="540.25" y2="384.19" stroke="#111" stroke-width="0.6"/>
<rect x="537.75" y="383.34" width="1.7" height="1.7" fill="#000"/>
<line x1="542.6" y1="381.22" x2="542.6" y2="382.26" stroke="#8a8a8a" stroke-width="0.75"/>
<line x1="542.6" y1="384.8" x2="542.6" y2="385.3" stroke="#8a8a8a" stroke-width="0.75"/>
<rect x="540.95" y="382.26" width="3.3" height="2.54" fill="#ef9f58" stroke="#9c6433" stroke-width="0.5"/>
<line x1="540.95" y1="384.37" x2="544.25" y2="384.37" stroke="#111" stroke-width="0.6"/>
<rect x="541.75" y="383" width="1.7" height="1.7" fill="#000"/>
<line x1="546.6" y1="381.22" x2="546.6" y2="381.59" stroke="#8a8a8a" stroke-width="0.75"/>
<rect x="544.95" y="381.59" width="3.3" height="3.71" fill="#e4483b" stroke="#9a2e24" stroke-width="0.5"/>
<line x1="544.95" y1="383.82" x2="548.25" y2="383.82" stroke="#111" stroke-width="0.6"/>
<rect x="545.75" y="382.15" width="1.7" height="1.7" fill="#000"/>
<line x1="555.05" y1="383.26" x2="555.05" y2="383.5" stroke="#8a8a8a" stroke-width="0.75"/>
<rect x="553.4" y="383.5" width="3.3" height="1.8" fill="#5175be" stroke="#2f4f8c" stroke-width="0.5"/>
<line x1="553.4" y1="384.19" x2="556.7" y2="384.19" stroke="#111" stroke-width="0.6"/>
<rect x="554.2" y="383.26" width="1.7" height="1.7" fill="#000"/>
<line x1="559.05" y1="377.51" x2="559.05" y2="380.66" stroke="#8a8a8a" stroke-width="0.75"/>
<line x1="559.05" y1="384.11" x2="559.05" y2="385.3" stroke="#8a8a8a" stroke-width="0.75"/>
<rect x="557.4" y="380.66" width="3.3" height="3.45" fill="#f2e29c" stroke="#8f8450" stroke-width="0.5"/>
<line x1="557.4" y1="382.42" x2="560.7" y2="382.42" stroke="#111" stroke-width="0.6"/>
<rect x="558.2" y="380.46" width="1.7" height="1.7" fill="#000"/>
<line x1="563.05" y1="377.51" x2="563.05" y2="378.81" stroke="#8a8a8a" stroke-width="0.75"/>
<rect x="561.4" y="378.81" width="3.3" height="6.49" fill="#ef9f58" stroke="#9c6433" stroke-width="0.5"/>
<line x1="561.4" y1="382.52" x2="564.7" y2="382.52" stroke="#111" stroke-width="0.6"/>
<rect x="562.2" y="379.26" width="1.7" height="1.7" fill="#000"/>
<line x1="567.05" y1="374.91" x2="567.05" y2="379.55" stroke="#8a8a8a" stroke-width="0.75"/>
<line x1="567.05" y1="383.76" x2="567.05" y2="385.3" stroke="#8a8a8a" stroke-width="0.75"/>
<rect x="565.4" y="379.55" width="3.3" height="4.21" fill="#e4483b" stroke="#9a2e24" stroke-width="0.5"/>
<line x1="565.4" y1="382.7" x2="568.7" y2="382.7" stroke="#111" stroke-width="0.6"/>
<rect x="566.2" y="376.47" width="1.7" height="1.7" fill="#000"/>
<line x1="575.5" y1="383.44" x2="575.5" y2="384.19" stroke="#8a8a8a" stroke-width="0.75"/>
<rect x="573.85" y="384.19" width="3.3" height="1.11" fill="#5175be" stroke="#2f4f8c" stroke-width="0.5"/>
<line x1="573.85" y1="384.74" x2="577.15" y2="384.74" stroke="#111" stroke-width="0.6"/>
<rect x="574.65" y="383.89" width="1.7" height="1.7" fill="#000"/>
<line x1="579.5" y1="371.2" x2="579.5" y2="376.49" stroke="#8a8a8a" stroke-width="0.75"/>
<line x1="579.5" y1="383.93" x2="579.5" y2="385.3" stroke="#8a8a8a" stroke-width="0.75"/>
<rect x="577.85" y="376.49" width="3.3" height="7.44" fill="#f2e29c" stroke="#8f8450" stroke-width="0.5"/>
<line x1="577.85" y1="379.18" x2="581.15" y2="379.18" stroke="#111" stroke-width="0.6"/>
<rect x="578.65" y="378.33" width="1.7" height="1.7" fill="#000"/>
<line x1="583.5" y1="376.95" x2="583.5" y2="381.78" stroke="#8a8a8a" stroke-width="0.75"/>
<rect x="581.85" y="381.78" width="3.3" height="3.52" fill="#ef9f58" stroke="#9c6433" stroke-width="0.5"/>
<line x1="581.85" y1="384.74" x2="585.15" y2="384.74" stroke="#111" stroke-width="0.6"/>
<rect x="582.65" y="381.95" width="1.7" height="1.7" fill="#000"/>
<line x1="587.5" y1="381.03" x2="587.5" y2="382.96" stroke="#8a8a8a" stroke-width="0.75"/>
<line x1="587.5" y1="384.85" x2="587.5" y2="385.3" stroke="#8a8a8a" stroke-width="0.75"/>
<rect x="585.85" y="382.96" width="3.3" height="1.89" fill="#e4483b" stroke="#9a2e24" stroke-width="0.5"/>
<line x1="585.85" y1="384.37" x2="589.15" y2="384.37" stroke="#111" stroke-width="0.6"/>
<rect x="586.65" y="382.22" width="1.7" height="1.7" fill="#000"/>
<line x1="595.95" y1="384.93" x2="595.95" y2="385.11" stroke="#8a8a8a" stroke-width="0.75"/>
<line x1="594.3" y1="385.3" x2="597.6" y2="385.3" stroke="#666" stroke-width="0.8"/>
<line x1="594.3" y1="385.21" x2="597.6" y2="385.21" stroke="#111" stroke-width="0.6"/>
<rect x="595.1" y="384.36" width="1.7" height="1.7" fill="#000"/>
<line x1="599.95" y1="376.03" x2="599.95" y2="380.85" stroke="#8a8a8a" stroke-width="0.75"/>
<rect x="598.3" y="380.85" width="3.3" height="4.45" fill="#f2e29c" stroke="#8f8450" stroke-width="0.5"/>
<line x1="598.3" y1="383.69" x2="601.6" y2="383.69" stroke="#111" stroke-width="0.6"/>
<rect x="599.1" y="381.57" width="1.7" height="1.7" fill="#000"/>
<line x1="603.95" y1="384.93" x2="603.95" y2="385.02" stroke="#8a8a8a" stroke-width="0.75"/>
<line x1="602.3" y1="385.3" x2="605.6" y2="385.3" stroke="#666" stroke-width="0.8"/>
<line x1="602.3" y1="385.21" x2="605.6" y2="385.21" stroke="#111" stroke-width="0.6"/>
<rect x="603.1" y="383.65" width="1.7" height="1.7" fill="#000"/>
<line x1="607.95" y1="377.88" x2="607.95" y2="380.66" stroke="#8a8a8a" stroke-width="0.75"/>
<line x1="607.95" y1="383.82" x2="607.95" y2="385.3" stroke="#8a8a8a" stroke-width="0.75"/>
<rect x="606.3" y="380.66" width="3.3" height="3.15" fill="#e4483b" stroke="#9a2e24" stroke-width="0.5"/>
<line x1="606.3" y1="382.33" x2="609.6" y2="382.33" stroke="#111" stroke-width="0.6"/>
<rect x="607.1" y="379.26" width="1.7" height="1.7" fill="#000"/>
<line x1="616.4" y1="385.11" x2="616.4" y2="385.15" stroke="#8a8a8a" stroke-width="0.75"/>
<line x1="614.75" y1="385.3" x2="618.05" y2="385.3" stroke="#666" stroke-width="0.8"/>
<rect x="615.55" y="384.36" width="1.7" height="1.7" fill="#000"/>
<line x1="620.4" y1="385.11" x2="620.4" y2="385.15" stroke="#8a8a8a" stroke-width="0.75"/>
<line x1="618.75" y1="385.3" x2="622.05" y2="385.3" stroke="#666" stroke-width="0.8"/>
<rect x="619.55" y="384.36" width="1.7" height="1.7" fill="#000"/>
<line x1="624.4" y1="385.11" x2="624.4" y2="385.15" stroke="#8a8a8a" stroke-width="0.75"/>
<line x1="622.75" y1="385.3" x2="626.05" y2="385.3" stroke="#666" stroke-width="0.8"/>
<rect x="623.55" y="384.36" width="1.7" height="1.7" fill="#000"/>
<line x1="628.4" y1="384.93" x2="628.4" y2="385.11" stroke="#8a8a8a" stroke-width="0.75"/>
<line x1="626.75" y1="385.3" x2="630.05" y2="385.3" stroke="#666" stroke-width="0.8"/>
<rect x="627.55" y="384.3" width="1.7" height="1.7" fill="#000"/>
<line x1="636.85" y1="385.11" x2="636.85" y2="385.15" stroke="#8a8a8a" stroke-width="0.75"/>
<line x1="635.2" y1="385.3" x2="638.5" y2="385.3" stroke="#666" stroke-width="0.8"/>
<rect x="636" y="384.36" width="1.7" height="1.7" fill="#000"/>
<line x1="640.85" y1="385.11" x2="640.85" y2="385.15" stroke="#8a8a8a" stroke-width="0.75"/>
<line x1="639.2" y1="385.3" x2="642.5" y2="385.3" stroke="#666" stroke-width="0.8"/>
<rect x="640" y="384.36" width="1.7" height="1.7" fill="#000"/>
<line x1="644.85" y1="384.74" x2="644.85" y2="385.11" stroke="#8a8a8a" stroke-width="0.75"/>
<line x1="643.2" y1="385.3" x2="646.5" y2="385.3" stroke="#666" stroke-width="0.8"/>
<rect x="644" y="384.26" width="1.7" height="1.7" fill="#000"/>
<line x1="648.85" y1="384.37" x2="648.85" y2="384.74" stroke="#8a8a8a" stroke-width="0.75"/>
<line x1="648.85" y1="385.21" x2="648.85" y2="385.3" stroke="#8a8a8a" stroke-width="0.75"/>
<line x1="647.2" y1="385.21" x2="650.5" y2="385.21" stroke="#666" stroke-width="0.8"/>
<rect x="648" y="384.08" width="1.7" height="1.7" fill="#000"/>
<line x1="657.3" y1="385.11" x2="657.3" y2="385.15" stroke="#8a8a8a" stroke-width="0.75"/>
<line x1="655.65" y1="385.3" x2="658.95" y2="385.3" stroke="#666" stroke-width="0.8"/>
<rect x="656.45" y="384.36" width="1.7" height="1.7" fill="#000"/>
<line x1="661.3" y1="385.11" x2="661.3" y2="385.15" stroke="#8a8a8a" stroke-width="0.75"/>
<line x1="659.65" y1="385.3" x2="662.95" y2="385.3" stroke="#666" stroke-width="0.8"/>
<rect x="660.45" y="384.36" width="1.7" height="1.7" fill="#000"/>
<line x1="665.3" y1="385.11" x2="665.3" y2="385.15" stroke="#8a8a8a" stroke-width="0.75"/>
<line x1="663.65" y1="385.3" x2="666.95" y2="385.3" stroke="#666" stroke-width="0.8"/>
<rect x="664.45" y="384.08" width="1.7" height="1.7" fill="#000"/>
<line x1="669.3" y1="385.11" x2="669.3" y2="385.15" stroke="#8a8a8a" stroke-width="0.75"/>
<line x1="667.65" y1="385.3" x2="670.95" y2="385.3" stroke="#666" stroke-width="0.8"/>
<rect x="668.45" y="382.04" width="1.7" height="1.7" fill="#000"/>
<circle cx="382.9" cy="306.5" r="0.6" fill="#222"/>
<circle cx="390" cy="379.7" r="0.6" fill="#222"/>
<circle cx="403.4" cy="354.8" r="0.6" fill="#222"/>
<circle cx="436" cy="369.5" r="0.6" fill="#222"/>
<circle cx="464.5" cy="250" r="0.6" fill="#222"/>
<circle cx="409" cy="363" r="0.6" fill="#222"/>
<text transform="translate(378.2,397.8) rotate(-24)" font-size="7.5" text-anchor="end" font-family="Liberation Serif" font-weight="bold" >Chloromethane</text>
<text transform="translate(398.65,397.8) rotate(-24)" font-size="7.5" text-anchor="end" font-family="Liberation Serif" font-weight="bold" >Chloroethane</text>
<text transform="translate(419.1,397.8) rotate(-24)" font-size="7.5" text-anchor="end" font-family="Liberation Serif" font-weight="bold" >Flurotrichloromethane</text>
<text transform="translate(439.55,397.8) rotate(-24)" font-size="7.5" text-anchor="end" font-family="Liberation Serif" font-weight="bold" >1,1-Dichloroethene</text>
<text transform="translate(460,397.8) rotate(-24)" font-size="7.5" text-anchor="end" font-family="Liberation Serif" font-weight="bold" >Dichloromethane</text>
<text transform="translate(480.45,397.8) rotate(-24)" font-size="7.5" text-anchor="end" font-family="Liberation Serif" font-weight="bold" >1,1,2-Trichlorotrifluoroethane</text>
<text transform="translate(500.9,397.8) rotate(-24)" font-size="7.5" text-anchor="end" font-family="Liberation Serif" font-weight="bold" >Chloroform</text>
<text transform="translate(521.35,397.8) rotate(-24)" font-size="7.5" text-anchor="end" font-family="Liberation Serif" font-weight="bold" >1,2-Dichloroethane</text>
<text transform="translate(541.8,397.8) rotate(-24)" font-size="7.5" text-anchor="end" font-family="Liberation Serif" font-weight="bold" >Tetrachloromethane</text>
<text transform="translate(562.25,397.8) rotate(-24)" font-size="7.5" text-anchor="end" font-family="Liberation Serif" font-weight="bold" >1,2-Dichloropropane</text>
<text transform="translate(582.7,397.8) rotate(-24)" font-size="7.5" text-anchor="end" font-family="Liberation Serif" font-weight="bold" >Trichloroethylene</text>
<text transform="translate(603.15,397.8) rotate(-24)" font-size="7.5" text-anchor="end" font-family="Liberation Serif" font-weight="bold" >Tetrachloroethylene</text>
<text transform="translate(623.6,397.8) rotate(-24)" font-size="7.5" text-anchor="end" font-family="Liberation Serif" font-weight="bold" >p-Dichlorobenzene</text>
<text transform="translate(644.05,397.8) rotate(-24)" font-size="7.5" text-anchor="end" font-family="Liberation Serif" font-weight="bold" >m-Dichlorobenzene</text>
<text transform="translate(664.5,397.8) rotate(-24)" font-size="7.5" text-anchor="end" font-family="Liberation Serif" font-weight="bold" >Other</text>
<text x="375.9" y="233.7" font-size="10.8" text-anchor="start" font-family="Liberation Serif" font-weight="bold" >(d) Halogenated</text>
<rect x="504.7" y="223.7" width="16.8" height="7.6" fill="#5175be" stroke="#2f4f8c" stroke-width="0.5"/>
<text x="524.2" y="231.1" font-size="8.8" text-anchor="start" font-family="Liberation Serif" font-weight="bold" >GZ</text>
<rect x="540.7" y="223.7" width="16.6" height="7.6" fill="#f2e29c" stroke="#8f8450" stroke-width="0.5"/>
<text x="560.4" y="231.1" font-size="8.8" text-anchor="start" font-family="Liberation Serif" font-weight="bold" >DG</text>
<rect x="577.5" y="223.7" width="16.6" height="7.6" fill="#ef9f58" stroke="#9c6433" stroke-width="0.5"/>
<text x="596.7" y="231.1" font-size="8.8" text-anchor="start" font-family="Liberation Serif" font-weight="bold" >SZ</text>
<rect x="611.7" y="223.7" width="17" height="7.6" fill="#e4483b" stroke="#9a2e24" stroke-width="0.5"/>
<text x="631.4" y="231.1" font-size="8.8" text-anchor="start" font-family="Liberation Serif" font-weight="bold" >HZ</text>
<rect x="489" y="242.4" width="177.79999999999995" height="92.99999999999997" fill="#fff"/>
<rect x="489" y="242.4" width="177.8" height="93" fill="none" stroke="#1a1a1a" stroke-width="0.9"/>
<line x1="487" y1="331.2" x2="489" y2="331.2" stroke="#1a1a1a" stroke-width="0.7"/>
<text x="486" y="333.23" font-size="5.2" text-anchor="end" font-family="Liberation Serif" font-weight="bold">0.0</text>
<line x1="487" y1="286.85" x2="489" y2="286.85" stroke="#1a1a1a" stroke-width="0.7"/>
<text x="486" y="288.88" font-size="5.2" text-anchor="end" font-family="Liberation Serif" font-weight="bold">0.5</text>
<line x1="487" y1="242.5" x2="489" y2="242.5" stroke="#1a1a1a" stroke-width="0.7"/>
<text x="486" y="244.53" font-size="5.2" text-anchor="end" font-family="Liberation Serif" font-weight="bold">1.0</text>
<line x1="488" y1="309.02" x2="489" y2="309.02" stroke="#1a1a1a" stroke-width="0.7"/>
<line x1="488" y1="264.67" x2="489" y2="264.67" stroke="#1a1a1a" stroke-width="0.7"/>
<text transform="translate(474.2,286) rotate(-90)" font-size="7.2" text-anchor="middle" dominant-baseline="central" font-family="Liberation Serif" font-weight="bold">Concentration (ppbv)</text>
<line x1="497.4" y1="335.4" x2="497.4" y2="337.4" stroke="#1a1a1a" stroke-width="0.7"/>
<line x1="515.25" y1="335.4" x2="515.25" y2="337.4" stroke="#1a1a1a" stroke-width="0.7"/>
<line x1="533.1" y1="335.4" x2="533.1" y2="337.4" stroke="#1a1a1a" stroke-width="0.7"/>
<line x1="550.95" y1="335.4" x2="550.95" y2="337.4" stroke="#1a1a1a" stroke-width="0.7"/>
<line x1="568.8" y1="335.4" x2="568.8" y2="337.4" stroke="#1a1a1a" stroke-width="0.7"/>
<line x1="586.65" y1="335.4" x2="586.65" y2="337.4" stroke="#1a1a1a" stroke-width="0.7"/>
<line x1="604.5" y1="335.4" x2="604.5" y2="337.4" stroke="#1a1a1a" stroke-width="0.7"/>
<line x1="622.35" y1="335.4" x2="622.35" y2="337.4" stroke="#1a1a1a" stroke-width="0.7"/>
<line x1="640.2" y1="335.4" x2="640.2" y2="337.4" stroke="#1a1a1a" stroke-width="0.7"/>
<line x1="658.05" y1="335.4" x2="658.05" y2="337.4" stroke="#1a1a1a" stroke-width="0.7"/>
<line x1="492.6" y1="323.22" x2="492.6" y2="324.55" stroke="#a5a5a5" stroke-width="0.75"/>
<rect x="491.25" y="324.55" width="2.7" height="6.65" fill="#5175be" stroke="#2f4f8c" stroke-width="0.5"/>
<line x1="491.25" y1="328.54" x2="493.95" y2="328.54" stroke="#111" stroke-width="0.6"/>
<rect x="491.86" y="327.8" width="1.49" height="1.49" fill="#000"/>
<line x1="496.2" y1="324.1" x2="496.2" y2="325.43" stroke="#a5a5a5" stroke-width="0.75"/>
<line x1="496.2" y1="327.65" x2="496.2" y2="329.43" stroke="#a5a5a5" stroke-width="0.75"/>
<rect x="494.85" y="325.43" width="2.7" height="2.22" fill="#f2e29c" stroke="#8f8450" stroke-width="0.5"/>
<line x1="494.85" y1="326.32" x2="497.55" y2="326.32" stroke="#111" stroke-width="0.6"/>
<rect x="495.46" y="325.58" width="1.49" height="1.49" fill="#000"/>
<line x1="499.8" y1="320.56" x2="499.8" y2="322.33" stroke="#a5a5a5" stroke-width="0.75"/>
<rect x="498.45" y="322.33" width="2.7" height="8.87" fill="#ef9f58" stroke="#9c6433" stroke-width="0.5"/>
<line x1="498.45" y1="326.76" x2="501.15" y2="326.76" stroke="#111" stroke-width="0.6"/>
<rect x="499.06" y="325.58" width="1.49" height="1.49" fill="#000"/>
<line x1="503.4" y1="317.01" x2="503.4" y2="322.33" stroke="#a5a5a5" stroke-width="0.75"/>
<rect x="502.05" y="322.33" width="2.7" height="8.87" fill="#e4483b" stroke="#9a2e24" stroke-width="0.5"/>
<line x1="502.05" y1="327.65" x2="504.75" y2="327.65" stroke="#111" stroke-width="0.6"/>
<rect x="502.66" y="325.85" width="1.49" height="1.49" fill="#000"/>
<line x1="510.45" y1="318.78" x2="510.45" y2="319.94" stroke="#a5a5a5" stroke-width="0.75"/>
<line x1="510.45" y1="326.32" x2="510.45" y2="331.2" stroke="#a5a5a5" stroke-width="0.75"/>
<rect x="509.1" y="319.94" width="2.7" height="6.39" fill="#5175be" stroke="#2f4f8c" stroke-width="0.5"/>
<line x1="509.1" y1="323.22" x2="511.8" y2="323.22" stroke="#111" stroke-width="0.6"/>
<rect x="509.71" y="320.97" width="1.49" height="1.49" fill="#000"/>
<line x1="514.05" y1="292.17" x2="514.05" y2="308.14" stroke="#a5a5a5" stroke-width="0.75"/>
<line x1="514.05" y1="327.12" x2="514.05" y2="331.2" stroke="#a5a5a5" stroke-width="0.75"/>
<rect x="512.7" y="308.14" width="2.7" height="18.98" fill="#f2e29c" stroke="#8f8450" stroke-width="0.5"/>
<line x1="512.7" y1="315.5" x2="515.4" y2="315.5" stroke="#111" stroke-width="0.6"/>
<rect x="513.31" y="306.86" width="1.49" height="1.49" fill="#000"/>
<line x1="517.65" y1="295.72" x2="517.65" y2="309.02" stroke="#a5a5a5" stroke-width="0.75"/>
<line x1="517.65" y1="327.65" x2="517.65" y2="331.2" stroke="#a5a5a5" stroke-width="0.75"/>
<rect x="516.3" y="309.02" width="2.7" height="18.63" fill="#ef9f58" stroke="#9c6433" stroke-width="0.5"/>
<line x1="516.3" y1="323.22" x2="519" y2="323.22" stroke="#111" stroke-width="0.6"/>
<rect x="516.91" y="316.71" width="1.49" height="1.49" fill="#000"/>
<line x1="521.25" y1="252.26" x2="521.25" y2="273.54" stroke="#a5a5a5" stroke-width="0.75"/>
<line x1="521.25" y1="317.01" x2="521.25" y2="331.2" stroke="#a5a5a5" stroke-width="0.75"/>
<rect x="519.9" y="273.54" width="2.7" height="43.46" fill="#e4483b" stroke="#9a2e24" stroke-width="0.5"/>
<line x1="519.9" y1="308.14" x2="522.6" y2="308.14" stroke="#111" stroke-width="0.6"/>
<rect x="520.51" y="280.79" width="1.49" height="1.49" fill="#000"/>
<line x1="528.3" y1="246.05" x2="528.3" y2="291.28" stroke="#a5a5a5" stroke-width="0.75"/>
<line x1="528.3" y1="322.95" x2="528.3" y2="328.54" stroke="#a5a5a5" stroke-width="0.75"/>
<rect x="526.95" y="291.28" width="2.7" height="31.67" fill="#5175be" stroke="#2f4f8c" stroke-width="0.5"/>
<line x1="526.95" y1="299.27" x2="529.65" y2="299.27" stroke="#111" stroke-width="0.6"/>
<rect x="527.56" y="301.54" width="1.49" height="1.49" fill="#000"/>
<line x1="531.9" y1="256.69" x2="531.9" y2="278.42" stroke="#a5a5a5" stroke-width="0.75"/>
<line x1="531.9" y1="319.94" x2="531.9" y2="331.2" stroke="#a5a5a5" stroke-width="0.75"/>
<rect x="530.55" y="278.42" width="2.7" height="41.51" fill="#f2e29c" stroke="#8f8450" stroke-width="0.5"/>
<line x1="530.55" y1="288.62" x2="533.25" y2="288.62" stroke="#111" stroke-width="0.6"/>
<rect x="531.16" y="276.35" width="1.49" height="1.49" fill="#000"/>
<line x1="535.5" y1="275.32" x2="535.5" y2="291.28" stroke="#a5a5a5" stroke-width="0.75"/>
<line x1="535.5" y1="321" x2="535.5" y2="331.2" stroke="#a5a5a5" stroke-width="0.75"/>
<rect x="534.15" y="291.28" width="2.7" height="29.71" fill="#ef9f58" stroke="#9c6433" stroke-width="0.5"/>
<line x1="534.15" y1="305.48" x2="536.85" y2="305.48" stroke="#111" stroke-width="0.6"/>
<rect x="534.76" y="304.73" width="1.49" height="1.49" fill="#000"/>
<line x1="539.1" y1="260.24" x2="539.1" y2="285.96" stroke="#a5a5a5" stroke-width="0.75"/>
<line x1="539.1" y1="321.71" x2="539.1" y2="331.2" stroke="#a5a5a5" stroke-width="0.75"/>
<rect x="537.75" y="285.96" width="2.7" height="35.75" fill="#e4483b" stroke="#9a2e24" stroke-width="0.5"/>
<line x1="537.75" y1="305.48" x2="540.45" y2="305.48" stroke="#111" stroke-width="0.6"/>
<rect x="538.36" y="302.07" width="1.49" height="1.49" fill="#000"/>
<line x1="546.15" y1="324.1" x2="546.15" y2="325.52" stroke="#a5a5a5" stroke-width="0.75"/>
<line x1="546.15" y1="330.31" x2="546.15" y2="331.2" stroke="#a5a5a5" stroke-width="0.75"/>
<rect x="544.8" y="325.52" width="2.7" height="4.79" fill="#5175be" stroke="#2f4f8c" stroke-width="0.5"/>
<line x1="544.8" y1="328.54" x2="547.5" y2="328.54" stroke="#111" stroke-width="0.6"/>
<rect x="545.41" y="327.8" width="1.49" height="1.49" fill="#000"/>
<line x1="549.75" y1="319.67" x2="549.75" y2="321.71" stroke="#a5a5a5" stroke-width="0.75"/>
<line x1="549.75" y1="328.81" x2="549.75" y2="331.2" stroke="#a5a5a5" stroke-width="0.75"/>
<rect x="548.4" y="321.71" width="2.7" height="7.1" fill="#f2e29c" stroke="#8f8450" stroke-width="0.5"/>
<line x1="548.4" y1="325.88" x2="551.1" y2="325.88" stroke="#111" stroke-width="0.6"/>
<rect x="549.01" y="325.14" width="1.49" height="1.49" fill="#000"/>
<line x1="553.35" y1="311.69" x2="553.35" y2="316.65" stroke="#a5a5a5" stroke-width="0.75"/>
<line x1="553.35" y1="328.81" x2="553.35" y2="331.2" stroke="#a5a5a5" stroke-width="0.75"/>
<rect x="552" y="316.65" width="2.7" height="12.15" fill="#ef9f58" stroke="#9c6433" stroke-width="0.5"/>
<line x1="552" y1="326.76" x2="554.7" y2="326.76" stroke="#111" stroke-width="0.6"/>
<rect x="552.61" y="323.54" width="1.49" height="1.49" fill="#000"/>
<line x1="556.95" y1="311.69" x2="556.95" y2="313.46" stroke="#a5a5a5" stroke-width="0.75"/>
<rect x="555.6" y="313.46" width="2.7" height="17.74" fill="#e4483b" stroke="#9a2e24" stroke-width="0.5"/>
<line x1="555.6" y1="324.1" x2="558.3" y2="324.1" stroke="#111" stroke-width="0.6"/>
<rect x="556.21" y="319.46" width="1.49" height="1.49" fill="#000"/>
<line x1="564" y1="321.44" x2="564" y2="322.6" stroke="#a5a5a5" stroke-width="0.75"/>
<rect x="562.65" y="322.6" width="2.7" height="8.6" fill="#5175be" stroke="#2f4f8c" stroke-width="0.5"/>
<line x1="562.65" y1="325.88" x2="565.35" y2="325.88" stroke="#111" stroke-width="0.6"/>
<rect x="563.26" y="324.78" width="1.49" height="1.49" fill="#000"/>
<line x1="567.6" y1="293.95" x2="567.6" y2="309.02" stroke="#a5a5a5" stroke-width="0.75"/>
<line x1="567.6" y1="325.52" x2="567.6" y2="331.2" stroke="#a5a5a5" stroke-width="0.75"/>
<rect x="566.25" y="309.02" width="2.7" height="16.5" fill="#f2e29c" stroke="#8f8450" stroke-width="0.5"/>
<line x1="566.25" y1="317.45" x2="568.95" y2="317.45" stroke="#111" stroke-width="0.6"/>
<rect x="566.86" y="311.39" width="1.49" height="1.49" fill="#000"/>
<line x1="571.2" y1="293.95" x2="571.2" y2="300.15" stroke="#a5a5a5" stroke-width="0.75"/>
<rect x="569.85" y="300.15" width="2.7" height="31.05" fill="#ef9f58" stroke="#9c6433" stroke-width="0.5"/>
<line x1="569.85" y1="317.89" x2="572.55" y2="317.89" stroke="#111" stroke-width="0.6"/>
<rect x="570.46" y="305.62" width="1.49" height="1.49" fill="#000"/>
<line x1="574.8" y1="281.53" x2="574.8" y2="303.7" stroke="#a5a5a5" stroke-width="0.75"/>
<line x1="574.8" y1="323.84" x2="574.8" y2="331.2" stroke="#a5a5a5" stroke-width="0.75"/>
<rect x="573.45" y="303.7" width="2.7" height="20.13" fill="#e4483b" stroke="#9a2e24" stroke-width="0.5"/>
<line x1="573.45" y1="318.78" x2="576.15" y2="318.78" stroke="#111" stroke-width="0.6"/>
<rect x="574.06" y="292.32" width="1.49" height="1.49" fill="#000"/>
<line x1="581.85" y1="322.33" x2="581.85" y2="325.88" stroke="#a5a5a5" stroke-width="0.75"/>
<rect x="580.5" y="325.88" width="2.7" height="5.32" fill="#5175be" stroke="#2f4f8c" stroke-width="0.5"/>
<line x1="580.5" y1="328.54" x2="583.2" y2="328.54" stroke="#111" stroke-width="0.6"/>
<rect x="581.11" y="327.8" width="1.49" height="1.49" fill="#000"/>
<line x1="585.45" y1="263.79" x2="585.45" y2="289.07" stroke="#a5a5a5" stroke-width="0.75"/>
<line x1="585.45" y1="324.64" x2="585.45" y2="331.2" stroke="#a5a5a5" stroke-width="0.75"/>
<rect x="584.1" y="289.07" width="2.7" height="35.57" fill="#f2e29c" stroke="#8f8450" stroke-width="0.5"/>
<line x1="584.1" y1="301.93" x2="586.8" y2="301.93" stroke="#111" stroke-width="0.6"/>
<rect x="584.71" y="301.19" width="1.49" height="1.49" fill="#000"/>
<line x1="589.05" y1="291.28" x2="589.05" y2="314.35" stroke="#a5a5a5" stroke-width="0.75"/>
<rect x="587.7" y="314.35" width="2.7" height="16.85" fill="#ef9f58" stroke="#9c6433" stroke-width="0.5"/>
<line x1="587.7" y1="328.54" x2="590.4" y2="328.54" stroke="#111" stroke-width="0.6"/>
<rect x="588.31" y="318.48" width="1.49" height="1.49" fill="#000"/>
<line x1="592.65" y1="310.8" x2="592.65" y2="320.02" stroke="#a5a5a5" stroke-width="0.75"/>
<line x1="592.65" y1="329.07" x2="592.65" y2="331.2" stroke="#a5a5a5" stroke-width="0.75"/>
<rect x="591.3" y="320.02" width="2.7" height="9.05" fill="#e4483b" stroke="#9a2e24" stroke-width="0.5"/>
<line x1="591.3" y1="326.76" x2="594" y2="326.76" stroke="#111" stroke-width="0.6"/>
<rect x="591.91" y="319.81" width="1.49" height="1.49" fill="#000"/>
<line x1="599.7" y1="329.43" x2="599.7" y2="330.31" stroke="#a5a5a5" stroke-width="0.75"/>
<rect x="598.35" y="330.31" width="2.7" height="0.89" fill="#5175be" stroke="#2f4f8c" stroke-width="0.5"/>
<line x1="598.35" y1="330.76" x2="601.05" y2="330.76" stroke="#111" stroke-width="0.6"/>
<rect x="598.96" y="330.01" width="1.49" height="1.49" fill="#000"/>
<line x1="603.3" y1="286.85" x2="603.3" y2="309.91" stroke="#a5a5a5" stroke-width="0.75"/>
<rect x="601.95" y="309.91" width="2.7" height="21.29" fill="#f2e29c" stroke="#8f8450" stroke-width="0.5"/>
<line x1="601.95" y1="323.48" x2="604.65" y2="323.48" stroke="#111" stroke-width="0.6"/>
<rect x="602.56" y="316.71" width="1.49" height="1.49" fill="#000"/>
<line x1="606.9" y1="329.43" x2="606.9" y2="329.87" stroke="#a5a5a5" stroke-width="0.75"/>
<rect x="605.55" y="329.87" width="2.7" height="1.33" fill="#ef9f58" stroke="#9c6433" stroke-width="0.5"/>
<line x1="605.55" y1="330.76" x2="608.25" y2="330.76" stroke="#111" stroke-width="0.6"/>
<rect x="606.16" y="326.64" width="1.49" height="1.49" fill="#000"/>
<line x1="610.5" y1="295.72" x2="610.5" y2="309.02" stroke="#a5a5a5" stroke-width="0.75"/>
<line x1="610.5" y1="324.1" x2="610.5" y2="331.2" stroke="#a5a5a5" stroke-width="0.75"/>
<rect x="609.15" y="309.02" width="2.7" height="15.08" fill="#e4483b" stroke="#9a2e24" stroke-width="0.5"/>
<line x1="609.15" y1="317.01" x2="611.85" y2="317.01" stroke="#111" stroke-width="0.6"/>
<rect x="609.76" y="305.62" width="1.49" height="1.49" fill="#000"/>
<line x1="617.55" y1="330.31" x2="617.55" y2="330.49" stroke="#a5a5a5" stroke-width="0.75"/>
<rect x="616.2" y="330.49" width="2.7" height="0.71" fill="#5175be" stroke="#2f4f8c" stroke-width="0.5"/>
<rect x="616.81" y="330.01" width="1.49" height="1.49" fill="#000"/>
<line x1="621.15" y1="330.31" x2="621.15" y2="330.49" stroke="#a5a5a5" stroke-width="0.75"/>
<rect x="619.8" y="330.49" width="2.7" height="0.71" fill="#f2e29c" stroke="#8f8450" stroke-width="0.5"/>
<rect x="620.41" y="330.01" width="1.49" height="1.49" fill="#000"/>
<line x1="624.75" y1="330.31" x2="624.75" y2="330.49" stroke="#a5a5a5" stroke-width="0.75"/>
<rect x="623.4" y="330.49" width="2.7" height="0.71" fill="#ef9f58" stroke="#9c6433" stroke-width="0.5"/>
<rect x="624.01" y="330.01" width="1.49" height="1.49" fill="#000"/>
<line x1="628.35" y1="329.43" x2="628.35" y2="330.31" stroke="#a5a5a5" stroke-width="0.75"/>
<rect x="627" y="330.31" width="2.7" height="0.89" fill="#e4483b" stroke="#9a2e24" stroke-width="0.5"/>
<rect x="627.61" y="329.75" width="1.49" height="1.49" fill="#000"/>
<line x1="635.4" y1="330.31" x2="635.4" y2="330.49" stroke="#a5a5a5" stroke-width="0.75"/>
<rect x="634.05" y="330.49" width="2.7" height="0.71" fill="#5175be" stroke="#2f4f8c" stroke-width="0.5"/>
<rect x="634.66" y="330.01" width="1.49" height="1.49" fill="#000"/>
<line x1="639" y1="330.31" x2="639" y2="330.49" stroke="#a5a5a5" stroke-width="0.75"/>
<rect x="637.65" y="330.49" width="2.7" height="0.71" fill="#f2e29c" stroke="#8f8450" stroke-width="0.5"/>
<rect x="638.26" y="330.01" width="1.49" height="1.49" fill="#000"/>
<line x1="642.6" y1="328.54" x2="642.6" y2="330.31" stroke="#a5a5a5" stroke-width="0.75"/>
<rect x="641.25" y="330.31" width="2.7" height="0.89" fill="#ef9f58" stroke="#9c6433" stroke-width="0.5"/>
<rect x="641.86" y="329.57" width="1.49" height="1.49" fill="#000"/>
<line x1="646.2" y1="326.76" x2="646.2" y2="328.54" stroke="#a5a5a5" stroke-width="0.75"/>
<line x1="646.2" y1="330.76" x2="646.2" y2="331.2" stroke="#a5a5a5" stroke-width="0.75"/>
<rect x="644.85" y="328.54" width="2.7" height="2.22" fill="#e4483b" stroke="#9a2e24" stroke-width="0.5"/>
<rect x="645.46" y="328.68" width="1.49" height="1.49" fill="#000"/>
<line x1="653.25" y1="330.31" x2="653.25" y2="330.49" stroke="#a5a5a5" stroke-width="0.75"/>
<rect x="651.9" y="330.49" width="2.7" height="0.71" fill="#5175be" stroke="#2f4f8c" stroke-width="0.5"/>
<rect x="652.51" y="330.01" width="1.49" height="1.49" fill="#000"/>
<line x1="656.85" y1="330.31" x2="656.85" y2="330.49" stroke="#a5a5a5" stroke-width="0.75"/>
<rect x="655.5" y="330.49" width="2.7" height="0.71" fill="#f2e29c" stroke="#8f8450" stroke-width="0.5"/>
<rect x="656.11" y="330.01" width="1.49" height="1.49" fill="#000"/>
<line x1="660.45" y1="330.31" x2="660.45" y2="330.49" stroke="#a5a5a5" stroke-width="0.75"/>
<rect x="659.1" y="330.49" width="2.7" height="0.71" fill="#ef9f58" stroke="#9c6433" stroke-width="0.5"/>
<rect x="659.71" y="328.68" width="1.49" height="1.49" fill="#000"/>
<line x1="664.05" y1="330.31" x2="664.05" y2="330.49" stroke="#a5a5a5" stroke-width="0.75"/>
<rect x="662.7" y="330.49" width="2.7" height="0.71" fill="#e4483b" stroke="#9a2e24" stroke-width="0.5"/>
<rect x="663.31" y="318.93" width="1.49" height="1.49" fill="#000"/>
<circle cx="510" cy="296" r="0.5" fill="#aaa"/>
<circle cx="517" cy="295" r="0.5" fill="#aaa"/>
<circle cx="530" cy="262" r="0.5" fill="#aaa"/>
<circle cx="545" cy="280" r="0.5" fill="#aaa"/>
<circle cx="556" cy="260" r="0.5" fill="#aaa"/>
<circle cx="580" cy="261" r="0.5" fill="#aaa"/>
<circle cx="588" cy="252" r="0.5" fill="#aaa"/>
<circle cx="590" cy="262" r="0.5" fill="#aaa"/>
<circle cx="596" cy="272" r="0.5" fill="#aaa"/>
<circle cx="600" cy="260" r="0.5" fill="#aaa"/>
<circle cx="610" cy="249" r="0.5" fill="#aaa"/>
<circle cx="617" cy="272" r="0.5" fill="#aaa"/>
<circle cx="622" cy="256" r="0.5" fill="#aaa"/>
<circle cx="640" cy="286" r="0.5" fill="#aaa"/>
<circle cx="660" cy="302" r="0.5" fill="#aaa"/>
<circle cx="663" cy="301" r="0.5" fill="#aaa"/>
<text transform="translate(517.05,341.4) rotate(-22)" font-size="4.7" text-anchor="end" font-family="Liberation Serif" font-weight="bold" >Chloroform</text>
<text transform="translate(534.9,341.4) rotate(-22)" font-size="4.7" text-anchor="end" font-family="Liberation Serif" font-weight="bold" >1,2-Dichloroethane</text>
<text transform="translate(552.75,341.4) rotate(-22)" font-size="4.7" text-anchor="end" font-family="Liberation Serif" font-weight="bold" >Tetrachloromethane</text>
<text transform="translate(570.6,341.4) rotate(-22)" font-size="4.7" text-anchor="end" font-family="Liberation Serif" font-weight="bold" >1,2-Dichloropropane</text>
<text transform="translate(588.45,341.4) rotate(-22)" font-size="4.7" text-anchor="end" font-family="Liberation Serif" font-weight="bold" >Trichloroethylene</text>
<text transform="translate(606.3,341.4) rotate(-22)" font-size="4.7" text-anchor="end" font-family="Liberation Serif" font-weight="bold" >Tetrachloroethylene</text>
<text transform="translate(624.15,341.4) rotate(-22)" font-size="4.7" text-anchor="end" font-family="Liberation Serif" font-weight="bold" >p-Dichlorobenzene</text>
<text transform="translate(642,341.4) rotate(-22)" font-size="4.7" text-anchor="end" font-family="Liberation Serif" font-weight="bold" >m-Dichlorobenzene</text>
<text transform="translate(659.85,341.4) rotate(-22)" font-size="4.7" text-anchor="end" font-family="Liberation Serif" font-weight="bold" >Other</text>
<text transform="translate(499.2,341) rotate(-22)" font-size="3.7" text-anchor="end" font-family="Liberation Serif" font-weight="bold" >Trichlorotrifluoroethane</text>
<path d="M468.2,370.2 L675.3,370.2 L675.3,392.8 L468.2,392.8 Z" fill="none" stroke="#2233ee" stroke-width="1.3" stroke-dasharray="5,3"/>
<path d="M483.7,352.8 L504.7,370.6" fill="none" stroke="#2233ee" stroke-width="1.3" stroke-dasharray="5,3"/>
<path d="M643,353.7 L616.6,370.2" fill="none" stroke="#2233ee" stroke-width="1.3" stroke-dasharray="5,3"/>
<rect x="30.4" y="440.7" width="308" height="170.8" fill="none" stroke="#1a1a1a" stroke-width="1.1"/>
<line x1="27.4" y1="605" x2="30.4" y2="605" stroke="#1a1a1a" stroke-width="0.9"/>
<text x="25.4" y="608.35" font-size="8.6" text-anchor="end" font-family="Liberation Serif" font-weight="bold">0.0</text>
<line x1="27.4" y1="572.15" x2="30.4" y2="572.15" stroke="#1a1a1a" stroke-width="0.9"/>
<text x="25.4" y="575.5" font-size="8.6" text-anchor="end" font-family="Liberation Serif" font-weight="bold">0.5</text>
<line x1="27.4" y1="539.3" x2="30.4" y2="539.3" stroke="#1a1a1a" stroke-width="0.9"/>
<text x="25.4" y="542.65" font-size="8.6" text-anchor="end" font-family="Liberation Serif" font-weight="bold">1.0</text>
<line x1="27.4" y1="506.45" x2="30.4" y2="506.45" stroke="#1a1a1a" stroke-width="0.9"/>
<text x="25.4" y="509.8" font-size="8.6" text-anchor="end" font-family="Liberation Serif" font-weight="bold">1.5</text>
<line x1="27.4" y1="473.6" x2="30.4" y2="473.6" stroke="#1a1a1a" stroke-width="0.9"/>
<text x="25.4" y="476.95" font-size="8.6" text-anchor="end" font-family="Liberation Serif" font-weight="bold">2.0</text>
<line x1="27.4" y1="440.75" x2="30.4" y2="440.75" stroke="#1a1a1a" stroke-width="0.9"/>
<text x="25.4" y="444.1" font-size="8.6" text-anchor="end" font-family="Liberation Serif" font-weight="bold">2.5</text>
<line x1="28.8" y1="588.58" x2="30.4" y2="588.58" stroke="#1a1a1a" stroke-width="0.9"/>
<line x1="28.8" y1="555.73" x2="30.4" y2="555.73" stroke="#1a1a1a" stroke-width="0.9"/>
<line x1="28.8" y1="522.88" x2="30.4" y2="522.88" stroke="#1a1a1a" stroke-width="0.9"/>
<line x1="28.8" y1="490.02" x2="30.4" y2="490.02" stroke="#1a1a1a" stroke-width="0.9"/>
<line x1="28.8" y1="457.17" x2="30.4" y2="457.17" stroke="#1a1a1a" stroke-width="0.9"/>
<text transform="translate(7,525.3) rotate(-90)" font-size="10.8" text-anchor="middle" dominant-baseline="central" font-family="Liberation Serif" font-weight="bold">Concentration (ppbv)</text>
<line x1="56.1" y1="611.5" x2="56.1" y2="615.1" stroke="#1a1a1a" stroke-width="0.9"/>
<line x1="107.4" y1="611.5" x2="107.4" y2="615.1" stroke="#1a1a1a" stroke-width="0.9"/>
<line x1="158.7" y1="611.5" x2="158.7" y2="615.1" stroke="#1a1a1a" stroke-width="0.9"/>
<line x1="210" y1="611.5" x2="210" y2="615.1" stroke="#1a1a1a" stroke-width="0.9"/>
<line x1="261.3" y1="611.5" x2="261.3" y2="615.1" stroke="#1a1a1a" stroke-width="0.9"/>
<line x1="312.6" y1="611.5" x2="312.6" y2="615.1" stroke="#1a1a1a" stroke-width="0.9"/>
<line x1="40.7" y1="502.2" x2="40.7" y2="541.9" stroke="#6e6e6e" stroke-width="0.75"/>
<line x1="39.18" y1="502.2" x2="42.22" y2="502.2" stroke="#6e6e6e" stroke-width="0.6"/>
<line x1="40.7" y1="602.4" x2="40.7" y2="605" stroke="#6e6e6e" stroke-width="0.75"/>
<line x1="39.18" y1="605" x2="42.22" y2="605" stroke="#6e6e6e" stroke-width="0.6"/>
<rect x="37.25" y="541.9" width="6.9" height="60.5" fill="#5175be" stroke="#2f4f8c" stroke-width="0.5"/>
<line x1="37.25" y1="594.3" x2="44.15" y2="594.3" stroke="#111" stroke-width="0.6"/>
<polygon points="40.7,573.3 41.34,575.02 43.17,575.1 41.74,576.24 42.23,578 40.7,576.99 39.17,578 39.66,576.24 38.23,575.1 40.06,575.02" fill="#000"/>
<line x1="51" y1="464.5" x2="51" y2="477.8" stroke="#6e6e6e" stroke-width="0.75"/>
<line x1="49.48" y1="464.5" x2="52.52" y2="464.5" stroke="#6e6e6e" stroke-width="0.6"/>
<line x1="51" y1="574.3" x2="51" y2="602.2" stroke="#6e6e6e" stroke-width="0.75"/>
<line x1="49.48" y1="602.2" x2="52.52" y2="602.2" stroke="#6e6e6e" stroke-width="0.6"/>
<rect x="47.55" y="477.8" width="6.9" height="96.5" fill="#f2e29c" stroke="#8f8450" stroke-width="0.5"/>
<line x1="47.55" y1="535.5" x2="54.45" y2="535.5" stroke="#111" stroke-width="0.6"/>
<polygon points="51,528.1 51.64,529.82 53.47,529.9 52.04,531.04 52.53,532.8 51,531.79 49.47,532.8 49.96,531.04 48.53,529.9 50.36,529.82" fill="#000"/>
<line x1="61.2" y1="578.2" x2="61.2" y2="591" stroke="#6e6e6e" stroke-width="0.75"/>
<line x1="59.68" y1="578.2" x2="62.72" y2="578.2" stroke="#6e6e6e" stroke-width="0.6"/>
<line x1="61.2" y1="603.2" x2="61.2" y2="605" stroke="#6e6e6e" stroke-width="0.75"/>
<line x1="59.68" y1="605" x2="62.72" y2="605" stroke="#6e6e6e" stroke-width="0.6"/>
<rect x="57.75" y="591" width="6.9" height="12.2" fill="#ef9f58" stroke="#9c6433" stroke-width="0.5"/>
<line x1="57.75" y1="600.4" x2="64.65" y2="600.4" stroke="#111" stroke-width="0.6"/>
<polygon points="61.2,590.1 61.84,591.82 63.67,591.9 62.24,593.04 62.73,594.8 61.2,593.79 59.67,594.8 60.16,593.04 58.73,591.9 60.56,591.82" fill="#000"/>
<line x1="71.5" y1="448" x2="71.5" y2="525" stroke="#6e6e6e" stroke-width="0.75"/>
<line x1="69.98" y1="448" x2="73.02" y2="448" stroke="#6e6e6e" stroke-width="0.6"/>
<rect x="68.05" y="525" width="6.9" height="79.5" fill="#e4483b" stroke="#9a2e24" stroke-width="0.5"/>
<line x1="68.05" y1="604" x2="74.95" y2="604" stroke="#111" stroke-width="0.6"/>
<polygon points="71.5,557.7 72.14,559.42 73.97,559.5 72.54,560.64 73.03,562.4 71.5,561.39 69.97,562.4 70.46,560.64 69.03,559.5 70.86,559.42" fill="#000"/>
<line x1="92" y1="565.4" x2="92" y2="585.2" stroke="#6e6e6e" stroke-width="0.75"/>
<line x1="90.48" y1="565.4" x2="93.52" y2="565.4" stroke="#6e6e6e" stroke-width="0.6"/>
<line x1="92" y1="601.5" x2="92" y2="605" stroke="#6e6e6e" stroke-width="0.75"/>
<line x1="90.48" y1="605" x2="93.52" y2="605" stroke="#6e6e6e" stroke-width="0.6"/>
<rect x="88.55" y="585.2" width="6.9" height="16.3" fill="#5175be" stroke="#2f4f8c" stroke-width="0.5"/>
<line x1="88.55" y1="592.2" x2="95.45" y2="592.2" stroke="#111" stroke-width="0.6"/>
<polygon points="92,588.2 92.64,589.92 94.47,590 93.04,591.14 93.53,592.9 92,591.89 90.47,592.9 90.96,591.14 89.53,590 91.36,589.92" fill="#000"/>
<line x1="102.3" y1="551.4" x2="102.3" y2="569.1" stroke="#6e6e6e" stroke-width="0.75"/>
<line x1="100.78" y1="551.4" x2="103.82" y2="551.4" stroke="#6e6e6e" stroke-width="0.6"/>
<line x1="102.3" y1="584.7" x2="102.3" y2="599.6" stroke="#6e6e6e" stroke-width="0.75"/>
<line x1="100.78" y1="599.6" x2="103.82" y2="599.6" stroke="#6e6e6e" stroke-width="0.6"/>
<rect x="98.85" y="569.1" width="6.9" height="15.6" fill="#f2e29c" stroke="#8f8450" stroke-width="0.5"/>
<line x1="98.85" y1="575.9" x2="105.75" y2="575.9" stroke="#111" stroke-width="0.6"/>
<polygon points="102.3,573.3 102.94,575.02 104.77,575.1 103.34,576.24 103.83,578 102.3,576.99 100.77,578 101.26,576.24 99.83,575.1 101.66,575.02" fill="#000"/>
<line x1="112.5" y1="584.8" x2="112.5" y2="591.8" stroke="#6e6e6e" stroke-width="0.75"/>
<line x1="110.98" y1="584.8" x2="114.02" y2="584.8" stroke="#6e6e6e" stroke-width="0.6"/>
<line x1="112.5" y1="599.7" x2="112.5" y2="605" stroke="#6e6e6e" stroke-width="0.75"/>
<line x1="110.98" y1="605" x2="114.02" y2="605" stroke="#6e6e6e" stroke-width="0.6"/>
<rect x="109.05" y="591.8" width="6.9" height="7.9" fill="#ef9f58" stroke="#9c6433" stroke-width="0.5"/>
<line x1="109.05" y1="596.2" x2="115.95" y2="596.2" stroke="#111" stroke-width="0.6"/>
<polygon points="112.5,593.6 113.14,595.32 114.97,595.4 113.54,596.54 114.03,598.3 112.5,597.29 110.97,598.3 111.46,596.54 110.03,595.4 111.86,595.32" fill="#000"/>
<line x1="122.8" y1="529.8" x2="122.8" y2="565" stroke="#6e6e6e" stroke-width="0.75"/>
<line x1="121.28" y1="529.8" x2="124.32" y2="529.8" stroke="#6e6e6e" stroke-width="0.6"/>
<line x1="122.8" y1="601.4" x2="122.8" y2="604.7" stroke="#6e6e6e" stroke-width="0.75"/>
<line x1="121.28" y1="604.7" x2="124.32" y2="604.7" stroke="#6e6e6e" stroke-width="0.6"/>
<rect x="119.35" y="565" width="6.9" height="36.4" fill="#e4483b" stroke="#9a2e24" stroke-width="0.5"/>
<line x1="119.35" y1="590.2" x2="126.25" y2="590.2" stroke="#111" stroke-width="0.6"/>
<polygon points="122.8,580 123.44,581.72 125.27,581.8 123.84,582.94 124.33,584.7 122.8,583.69 121.27,584.7 121.76,582.94 120.33,581.8 122.16,581.72" fill="#000"/>
<line x1="139.85" y1="605" x2="146.75" y2="605" stroke="#666" stroke-width="0.8"/>
<polygon points="143.3,601.7 143.94,603.42 145.77,603.5 144.34,604.64 144.83,606.4 143.3,605.39 141.77,606.4 142.26,604.64 140.83,603.5 142.66,603.42" fill="#000"/>
<rect x="150.15" y="600.1" width="6.9" height="4.9" fill="#f2e29c" stroke="#8f8450" stroke-width="0.5"/>
<line x1="150.15" y1="602.5" x2="157.05" y2="602.5" stroke="#111" stroke-width="0.6"/>
<polygon points="153.6,592.5 154.24,594.22 156.07,594.3 154.64,595.44 155.13,597.2 153.6,596.19 152.07,597.2 152.56,595.44 151.13,594.3 152.96,594.22" fill="#000"/>
<line x1="160.35" y1="605" x2="167.25" y2="605" stroke="#666" stroke-width="0.8"/>
<polygon points="163.8,601.4 164.44,603.12 166.27,603.2 164.84,604.34 165.33,606.1 163.8,605.09 162.27,606.1 162.76,604.34 161.33,603.2 163.16,603.12" fill="#000"/>
<line x1="170.65" y1="605" x2="177.55" y2="605" stroke="#666" stroke-width="0.8"/>
<polygon points="174.1,599.7 174.74,601.42 176.57,601.5 175.14,602.64 175.63,604.4 174.1,603.39 172.57,604.4 173.06,602.64 171.63,601.5 173.46,601.42" fill="#000"/>
<line x1="191.15" y1="605" x2="198.05" y2="605" stroke="#666" stroke-width="0.8"/>
<polygon points="194.6,601.1 195.24,602.82 197.07,602.9 195.64,604.04 196.13,605.8 194.6,604.79 193.07,605.8 193.56,604.04 192.13,602.9 193.96,602.82" fill="#000"/>
<rect x="201.45" y="601.4" width="6.9" height="3.6" fill="#f2e29c" stroke="#8f8450" stroke-width="0.5"/>
<line x1="201.45" y1="603.2" x2="208.35" y2="603.2" stroke="#111" stroke-width="0.6"/>
<polygon points="204.9,599.3 205.54,601.02 207.37,601.1 205.94,602.24 206.43,604 204.9,602.99 203.37,604 203.86,602.24 202.43,601.1 204.26,601.02" fill="#000"/>
<line x1="211.65" y1="605" x2="218.55" y2="605" stroke="#666" stroke-width="0.8"/>
<polygon points="215.1,601.6 215.74,603.32 217.57,603.4 216.14,604.54 216.63,606.3 215.1,605.29 213.57,606.3 214.06,604.54 212.63,603.4 214.46,603.32" fill="#000"/>
<line x1="221.95" y1="605" x2="228.85" y2="605" stroke="#666" stroke-width="0.8"/>
<polygon points="225.4,600.2 226.04,601.92 227.87,602 226.44,603.14 226.93,604.9 225.4,603.89 223.87,604.9 224.36,603.14 222.93,602 224.76,601.92" fill="#000"/>
<line x1="245.9" y1="543.5" x2="245.9" y2="576.4" stroke="#6e6e6e" stroke-width="0.75"/>
<line x1="244.38" y1="543.5" x2="247.42" y2="543.5" stroke="#6e6e6e" stroke-width="0.6"/>
<line x1="245.9" y1="603.6" x2="245.9" y2="605" stroke="#6e6e6e" stroke-width="0.75"/>
<line x1="244.38" y1="605" x2="247.42" y2="605" stroke="#6e6e6e" stroke-width="0.6"/>
<rect x="242.45" y="576.4" width="6.9" height="27.2" fill="#5175be" stroke="#2f4f8c" stroke-width="0.5"/>
<line x1="242.45" y1="602.2" x2="249.35" y2="602.2" stroke="#111" stroke-width="0.6"/>
<polygon points="245.9,587.8 246.54,589.52 248.37,589.6 246.94,590.74 247.43,592.5 245.9,591.49 244.37,592.5 244.86,590.74 243.43,589.6 245.26,589.52" fill="#000"/>
<line x1="256.2" y1="576.4" x2="256.2" y2="589.2" stroke="#6e6e6e" stroke-width="0.75"/>
<line x1="254.68" y1="576.4" x2="257.72" y2="576.4" stroke="#6e6e6e" stroke-width="0.6"/>
<line x1="256.2" y1="603.6" x2="256.2" y2="605" stroke="#6e6e6e" stroke-width="0.75"/>
<line x1="254.68" y1="605" x2="257.72" y2="605" stroke="#6e6e6e" stroke-width="0.6"/>
<rect x="252.75" y="589.2" width="6.9" height="14.4" fill="#f2e29c" stroke="#8f8450" stroke-width="0.5"/>
<line x1="252.75" y1="597.4" x2="259.65" y2="597.4" stroke="#111" stroke-width="0.6"/>
<polygon points="256.2,594 256.84,595.72 258.67,595.8 257.24,596.94 257.73,598.7 256.2,597.69 254.67,598.7 255.16,596.94 253.73,595.8 255.56,595.72" fill="#000"/>
<line x1="266.4" y1="552.4" x2="266.4" y2="583.4" stroke="#6e6e6e" stroke-width="0.75"/>
<line x1="264.88" y1="552.4" x2="267.92" y2="552.4" stroke="#6e6e6e" stroke-width="0.6"/>
<rect x="262.95" y="583.4" width="6.9" height="21.6" fill="#ef9f58" stroke="#9c6433" stroke-width="0.5"/>
<line x1="262.95" y1="601.5" x2="269.85" y2="601.5" stroke="#111" stroke-width="0.6"/>
<polygon points="266.4,588.2 267.04,589.92 268.87,590 267.44,591.14 267.93,592.9 266.4,591.89 264.87,592.9 265.36,591.14 263.93,590 265.76,589.92" fill="#000"/>
<line x1="276.7" y1="573.8" x2="276.7" y2="587" stroke="#6e6e6e" stroke-width="0.75"/>
<line x1="275.18" y1="573.8" x2="278.22" y2="573.8" stroke="#6e6e6e" stroke-width="0.6"/>
<line x1="276.7" y1="603.6" x2="276.7" y2="605" stroke="#6e6e6e" stroke-width="0.75"/>
<line x1="275.18" y1="605" x2="278.22" y2="605" stroke="#6e6e6e" stroke-width="0.6"/>
<rect x="273.25" y="587" width="6.9" height="16.6" fill="#e4483b" stroke="#9a2e24" stroke-width="0.5"/>
<line x1="273.25" y1="603" x2="280.15" y2="603" stroke="#111" stroke-width="0.6"/>
<polygon points="276.7,590.5 277.34,592.22 279.17,592.3 277.74,593.44 278.23,595.2 276.7,594.19 275.17,595.2 275.66,593.44 274.23,592.3 276.06,592.22" fill="#000"/>
<line x1="297.2" y1="584" x2="297.2" y2="594.5" stroke="#6e6e6e" stroke-width="0.75"/>
<line x1="295.68" y1="584" x2="298.72" y2="584" stroke="#6e6e6e" stroke-width="0.6"/>
<line x1="297.2" y1="602.7" x2="297.2" y2="605" stroke="#6e6e6e" stroke-width="0.75"/>
<line x1="295.68" y1="605" x2="298.72" y2="605" stroke="#6e6e6e" stroke-width="0.6"/>
<rect x="293.75" y="594.5" width="6.9" height="8.2" fill="#5175be" stroke="#2f4f8c" stroke-width="0.5"/>
<polygon points="297.2,595.4 297.84,597.12 299.67,597.2 298.24,598.34 298.73,600.1 297.2,599.09 295.67,600.1 296.16,598.34 294.73,597.2 296.56,597.12" fill="#000"/>
<line x1="307.5" y1="551.5" x2="307.5" y2="561.2" stroke="#6e6e6e" stroke-width="0.75"/>
<line x1="305.98" y1="551.5" x2="309.02" y2="551.5" stroke="#6e6e6e" stroke-width="0.6"/>
<rect x="304.05" y="561.2" width="6.9" height="43.8" fill="#f2e29c" stroke="#8f8450" stroke-width="0.5"/>
<line x1="304.05" y1="590.4" x2="310.95" y2="590.4" stroke="#111" stroke-width="0.6"/>
<polygon points="307.5,581.4 308.14,583.12 309.97,583.2 308.54,584.34 309.03,586.1 307.5,585.09 305.97,586.1 306.46,584.34 305.03,583.2 306.86,583.12" fill="#000"/>
<line x1="317.7" y1="580.3" x2="317.7" y2="590.1" stroke="#6e6e6e" stroke-width="0.75"/>
<line x1="316.18" y1="580.3" x2="319.22" y2="580.3" stroke="#6e6e6e" stroke-width="0.6"/>
<line x1="317.7" y1="600.6" x2="317.7" y2="605" stroke="#6e6e6e" stroke-width="0.75"/>
<line x1="316.18" y1="605" x2="319.22" y2="605" stroke="#6e6e6e" stroke-width="0.6"/>
<rect x="314.25" y="590.1" width="6.9" height="10.5" fill="#ef9f58" stroke="#9c6433" stroke-width="0.5"/>
<polygon points="317.7,592.2 318.34,593.92 320.17,594 318.74,595.14 319.23,596.9 317.7,595.89 316.17,596.9 316.66,595.14 315.23,594 317.06,593.92" fill="#000"/>
<line x1="328" y1="504" x2="328" y2="562.1" stroke="#6e6e6e" stroke-width="0.75"/>
<line x1="326.48" y1="504" x2="329.52" y2="504" stroke="#6e6e6e" stroke-width="0.6"/>
<line x1="328" y1="603.6" x2="328" y2="605" stroke="#6e6e6e" stroke-width="0.75"/>
<line x1="326.48" y1="605" x2="329.52" y2="605" stroke="#6e6e6e" stroke-width="0.6"/>
<rect x="324.55" y="562.1" width="6.9" height="41.5" fill="#e4483b" stroke="#9a2e24" stroke-width="0.5"/>
<line x1="324.55" y1="592.2" x2="331.45" y2="592.2" stroke="#111" stroke-width="0.6"/>
<polygon points="328,580.3 328.64,582.02 330.47,582.1 329.04,583.24 329.53,585 328,583.99 326.47,585 326.96,583.24 325.53,582.1 327.36,582.02" fill="#000"/>
<circle cx="61.3" cy="548.4" r="0.8" fill="#222"/>
<circle cx="61.3" cy="551.9" r="0.8" fill="#222"/>
<circle cx="153.5" cy="546.6" r="0.8" fill="#222"/>
<circle cx="153.5" cy="558.3" r="0.8" fill="#222"/>
<circle cx="153.5" cy="565" r="0.8" fill="#222"/>
<circle cx="174" cy="583" r="0.8" fill="#222"/>
<circle cx="174" cy="585.7" r="0.8" fill="#222"/>
<circle cx="164" cy="599.8" r="0.8" fill="#222"/>
<circle cx="194.5" cy="596.9" r="0.8" fill="#222"/>
<circle cx="205" cy="582.5" r="0.8" fill="#222"/>
<circle cx="205" cy="593.3" r="0.8" fill="#222"/>
<circle cx="226" cy="594.4" r="0.8" fill="#222"/>
<circle cx="226" cy="597.7" r="0.8" fill="#222"/>
<circle cx="266.5" cy="547.9" r="0.8" fill="#222"/>
<circle cx="277" cy="530.2" r="0.8" fill="#222"/>
<text transform="translate(57.3,623.1) rotate(-24)" font-size="8.6" text-anchor="end" font-family="Liberation Serif" font-weight="bold" >Isopropanol</text>
<text transform="translate(108.6,623.1) rotate(-24)" font-size="8.6" text-anchor="end" font-family="Liberation Serif" font-weight="bold" >2-Methyl-2-methoxy propane</text>
<text transform="translate(159.9,623.1) rotate(-24)" font-size="8.6" text-anchor="end" font-family="Liberation Serif" font-weight="bold" >Tetrahydrofuran</text>
<text transform="translate(211.2,623.1) rotate(-24)" font-size="8.6" text-anchor="end" font-family="Liberation Serif" font-weight="bold" >Methyl methacrylate</text>
<text transform="translate(262.5,623.1) rotate(-24)" font-size="8.6" text-anchor="end" font-family="Liberation Serif" font-weight="bold" >4-Methyl-2-pentanone</text>
<text transform="translate(313.8,623.1) rotate(-24)" font-size="8.6" text-anchor="end" font-family="Liberation Serif" font-weight="bold" >2-Hexanone</text>
<text x="98.4" y="456.5" font-size="10.8" text-anchor="start" font-family="Liberation Serif" font-weight="bold" >(e) OVOCs</text>
<rect x="258.4" y="452.3" width="16.8" height="8.1" fill="#5175be" stroke="#2f4f8c" stroke-width="0.5"/>
<text x="280" y="460.1" font-size="8.2" text-anchor="start" font-family="Liberation Serif" font-weight="bold" >GZ</text>
<rect x="258.4" y="463.8" width="16.8" height="7.8" fill="#f2e29c" stroke="#8f8450" stroke-width="0.5"/>
<text x="280" y="471.3" font-size="8.2" text-anchor="start" font-family="Liberation Serif" font-weight="bold" >DG</text>
<rect x="258.4" y="474.6" width="16.8" height="7.8" fill="#ef9f58" stroke="#9c6433" stroke-width="0.5"/>
<text x="280" y="482.1" font-size="8.2" text-anchor="start" font-family="Liberation Serif" font-weight="bold" >SZ</text>
<rect x="258.4" y="485.5" width="16.8" height="7.7" fill="#e4483b" stroke="#9a2e24" stroke-width="0.5"/>
<text x="280" y="492.9" font-size="8.2" text-anchor="start" font-family="Liberation Serif" font-weight="bold" >HZ</text>
<path d="M471,438 L466,441 L463.8,444 L461.5,449 L459.4,454.2 L457,459 L455,464.4 L452,466 L449.2,468.8 L446.3,474.6 L443,480" fill="none" stroke="#a9d4e2" stroke-width="0.75" stroke-linejoin="round" />
<path d="M480.6,441.8 L484.2,446.9 L488,450 L493,452.7 L498,454 L503.2,456.4 L506,463 L511,465 L514.4,463.8 L518,466.3 L515,474.6 L512,480 L506,489.6 L497.8,495 L494.3,500.5 L487.3,507.5 L483,512 L476,520" fill="none" stroke="#a9d4e2" stroke-width="0.75" stroke-linejoin="round" />
<path d="M433,487.5 L428.7,502.6 L424.2,510 L415.2,520.6 L403.2,531.1 L392.6,540.2 L385.1,547.7 L380.6,553.7 L384,562 L392,566 L405,568 L420,569 L432,572 L441,572" fill="none" stroke="#a9d4e2" stroke-width="0.75" stroke-linejoin="round" />
<path d="M383,566 L388,574 L398,576 L410,576 L422,575 L430,578 L436,585 L440,595" fill="none" stroke="#a9d4e2" stroke-width="0.75" stroke-linejoin="round" />
<path d="M386,585 L394,590 L404,592 L414,590 L424,592 L428,600" fill="none" stroke="#a9d4e2" stroke-width="0.75" stroke-linejoin="round" />
<path d="M393,598 L402,604 L412,606 L420,612 L428,616" fill="none" stroke="#a9d4e2" stroke-width="0.75" stroke-linejoin="round" />
<path d="M440,562.7 L452,560 L462,559 L472,561 L484,562 L496,565 L506.6,568 L514,562 L520,555 L524,550.4 L538,547.8 L548,550 L558.4,558.3" fill="none" stroke="#a9d4e2" stroke-width="0.75" stroke-linejoin="round" />
<path d="M520,549.3 L535.3,551.9 L545.6,554.4 L558.4,558.3 L571.2,564.7 L584,568.5 L591.6,566 L601.9,559.5 L612.1,554.4 L622.3,549.3 L632.6,541.6 L640,544.2 L642.7,544.2 L645.4,538.8 L649,533.4 L651.7,528.9 L651.7,523.5 L654.4,518 L658,514.4 L669.8,511.7 L677.9,513.1" fill="none" stroke="#a9d4e2" stroke-width="0.75" stroke-linejoin="round" />
<path d="M558.4,558.3 L562.2,572.3 L562.2,585.1 L560.9,597.9 L558.4,608.1 L553.3,615.8 L545.6,623.5 L540.5,631.2 L535,640" fill="none" stroke="#a9d4e2" stroke-width="0.75" stroke-linejoin="round" />
<path d="M531.6,461 L528.6,470 L530,476 L534.6,483.6 L536,489.6 L540.6,495.6 L545.1,500.2 L551.1,504.7 L555.6,510.7 L557.1,518.2 L554.1,525.7 L550.7,532 L545,540 L538,547.8" fill="none" stroke="#a9d4e2" stroke-width="0.75" stroke-linejoin="round" />
<path d="M555.6,510.7 L562,509 L570,503 L575,500" fill="none" stroke="#a9d4e2" stroke-width="0.75" stroke-linejoin="round" />
<path d="M500,560 L506,575 L506,590 L502,602 L496,612" fill="none" stroke="#a9d4e2" stroke-width="0.75" stroke-linejoin="round" />
<path d="M379.6,550.5 L382,555 L385.6,559.5 L386,566 L385.6,571.6 L392,570.5 L400,571.5 L408,570.8 L414.2,571.6 L420,574 L426,576" fill="none" stroke="#a9d4e2" stroke-width="0.75" stroke-linejoin="round" />
<path d="M390.1,582.1 L396,580 L404,578.5 L412.7,577.6 L418,580 L422,586" fill="none" stroke="#a9d4e2" stroke-width="0.75" stroke-linejoin="round" />
<path d="M394.6,603.2 L400,606 L405.2,606.2 L411,603 L417.2,600.2 L423,600 L427.7,599.4" fill="none" stroke="#a9d4e2" stroke-width="0.75" stroke-linejoin="round" />
<path d="M402.1,609.2 L410,610.5 L417.2,612.2 L422,615 L426.2,618.2 L432,621 L438,623" fill="none" stroke="#a9d4e2" stroke-width="0.75" stroke-linejoin="round" />
<path d="M388,590 L392,596 L398,598 L404,596" fill="none" stroke="#a9d4e2" stroke-width="0.75" stroke-linejoin="round" />
<path d="M436,574 L440,566 L445,560 L452,556 L460,553 L470,548" fill="none" stroke="#a9d4e2" stroke-width="0.75" stroke-linejoin="round" />
<path d="M430,590 L434,598 L438,606 L444,612" fill="none" stroke="#a9d4e2" stroke-width="0.75" stroke-linejoin="round" />
<path d="M500,430.3 L497.4,432.9 L493.9,437.3 L488.6,441.6 L485.1,442.5 L478.1,439.9 L471.1,437.6 L462.3,439 L455.3,441.6 L446.6,446 L440.4,451.3 L436.1,457.4 L429.1,460.9 L427.3,463.5 L427.3,472.3 L426.4,479.3 L422.9,480.7 L416.8,479.3 L408.9,478.4 L402.8,475.8 L397.5,476.7 L392.3,481.9 L389.6,490.5 L383.6,496.5 L377.6,501.8 L374.6,506.3 L370.1,510.1 L364.1,512.3 L358,516.1 L353.5,520.3 L348.3,521.8 L343.8,522.1 L346.8,528.1 L350.5,535.6 L352.5,540 L357,549.8 L361.5,549 L367.6,543 L372.8,546.8 L377.3,552.8 L378.8,556.5 L379.6,562.6 L380.3,571.6 L383.3,579.1 L388.6,588.1 L393.1,594.1 L396.1,603.2 L400.6,610.7 L408.2,618.2 L415.7,622.7 L423.2,625.7 L430.7,628.7 L438.2,633.2 L445,637 L448,641 L446.3,645 L443.7,646 L439.3,643" fill="none" stroke="#3a3a3a" stroke-width="0.7" stroke-linejoin="round" />
<path d="M500,430.3 L501.9,430.5 L506,431 L512.3,433.8 L520.6,432.6 L524.8,443 L529,455.4 L537.3,463.8 L547,472 L556,477 L562.2,480.2 L571.2,493 L580.1,508.4 L587.8,521.2 L594.2,531.4 L598,537 L604.4,531.4 L614.7,521.2 L622.3,513.5 L627.4,508.4 L632.6,502.7 L640.2,500.7 L650.5,503.3 L657.6,500 L661.7,506.3 L667.1,506.3 L671.6,509 L678.8,506.3 L679.3,508.1 L677.9,513.5 L676.1,519.9 L667.1,526.2 L664.4,529.8 L662.6,537.9 L658.1,545.1 L651.7,550.5 L646.3,556 L643.6,557.8 L640,556.4 L634,556 L627.4,560.8 L619.8,569.8 L617.2,577.4 L618.5,587.7 L622.3,597.9 L624.9,605.6 L622.3,610.7 L617.2,608.1 L612.1,605.6 L607,595.3 L601.9,592.8 L596.7,597.9 L594.2,605.6 L586.5,609.4 L578.8,609.4 L573.7,613.3 L569.9,609.4 L566,614.5 L568,629 L569.4,635.6 L577.3,642.2 L582.5,646.2 L578.6,650.1 L572,651.4 L568,655.4 L562.8,656.7 L557.5,660.6" fill="none" stroke="#3a3a3a" stroke-width="0.7" stroke-linejoin="round" />
<path d="M485.1,442.5 L487.7,447.8 L486.9,456.5 L483.4,461.8 L472.9,467 L465.8,471.4 L461.5,476.7 L461,482 L463.8,485 L469.7,496.7 L476.2,506.9 L481.4,512 L482.1,524.4 L475.5,525.1" fill="none" stroke="#3a3a3a" stroke-width="0.7" stroke-linejoin="round" />
<path d="M471.5,544.3 L469.8,551.3 L464.5,557.4 L459.3,563.6 L454,565.3 L446.3,565.5 L441.2,572.3 L432.2,575.3 L426.2,576.8 L422.4,576.8" fill="none" stroke="#3a3a3a" stroke-width="0.7" stroke-linejoin="round" />
<path d="M464.5,566.2 L475,565.3 L485.5,564.5 L495,565 L503,567.1 L509.3,569.9 L515.5,574.3 L520.7,575.1 L521.6,579.5 L525.1,586.5 L526.9,595.3 L531.2,602.3 L535.6,601.4 L540,599.7 L548,597 L556,600 L562,604 L566,614.5" fill="none" stroke="#3a3a3a" stroke-width="0.7" stroke-linejoin="round" />
<path d="M426.2,580.6 L427,588.1 L427.7,600.2 L426.2,601.7 L428.5,606.2 L432.2,610.7 L438.2,615.2 L442.7,618.2 L444.5,611.1 L448,616.3 L454.2,620.7 L460.3,621.6 L465.5,619.8 L470.8,615.4 L476.1,611.1 L483.1,609.3 L492,608 L500,609 L508,610 L514.6,611.1 L519.9,614.6 L523.4,621.6 L525.1,625.1 L530,632 L538,636 L548,636 L556,632 L562,628 L568,629" fill="none" stroke="#3a3a3a" stroke-width="0.7" stroke-linejoin="round" />
<path d="M465.5,619.8 L467.3,625.1 L469,632.1 L472.6,637.3 L476.1,642.6 L480.4,646.1 L483.1,650.5 L485.7,654.9 L488.3,657.5 L486.6,660.1 L484,664" fill="none" stroke="#3a3a3a" stroke-width="0.7" stroke-linejoin="round" />
<path d="M429.2,618.2 L435.2,621.2 L441.2,622.7 L444.5,632.1 L446.3,639.1" fill="none" stroke="#3a3a3a" stroke-width="0.7" stroke-linejoin="round" />
<polygon points="429.3,497.3 430.39,500.2 433.48,500.34 431.06,502.27 431.89,505.26 429.3,503.55 426.71,505.26 427.54,502.27 425.12,500.34 428.21,500.2" fill="#ee1c1c"/>
<polygon points="514.2,459.5 515.29,462.4 518.38,462.54 515.96,464.47 516.79,467.46 514.2,465.75 511.61,467.46 512.44,464.47 510.02,462.54 513.11,462.4" fill="#ee1c1c"/>
<polygon points="528,544.4 529.09,547.3 532.18,547.44 529.76,549.37 530.59,552.36 528,550.65 525.41,552.36 526.24,549.37 523.82,547.44 526.91,547.3" fill="#ee1c1c"/>
<polygon points="589.8,564.4 590.89,567.3 593.98,567.44 591.56,569.37 592.39,572.36 589.8,570.65 587.21,572.36 588.04,569.37 585.62,567.44 588.71,567.3" fill="#ee1c1c"/>
<polygon points="559.6,596.3 560.69,599.2 563.78,599.34 561.36,601.27 562.19,604.26 559.6,602.55 557.01,604.26 557.84,601.27 555.42,599.34 558.51,599.2" fill="#ee1c1c"/>
<polygon points="409.6,592.1 410.69,595 413.78,595.14 411.36,597.07 412.19,600.06 409.6,598.35 407.01,600.06 407.84,597.07 405.42,595.14 408.51,595" fill="#ee1c1c"/>
<polygon points="381.3,528.9 382.39,531.8 385.48,531.94 383.06,533.87 383.89,536.86 381.3,535.15 378.71,536.86 379.54,533.87 377.12,531.94 380.21,531.8" fill="#ee1c1c"/>
<path d="M390.7,497 L390.7,528.8 A5.9,3.07 0 0 0 402.5,528.8 L402.5,497 Z" fill="url(#g0)" stroke="#8e231d" stroke-width="0.3"/>
<ellipse cx="396.6" cy="497" rx="5.9" ry="3.07" fill="#c03a32" stroke="#8e231d" stroke-width="0.3"/>
<text x="396.6" y="491.93" font-size="5.2" text-anchor="middle" font-family="Liberation Serif" font-weight="bold" >14.0</text>
<path d="M403.8,518.3 L403.8,531.4 A5.55,2.89 0 0 0 414.9,531.4 L414.9,518.3 Z" fill="url(#g1)" stroke="#a8602e" stroke-width="0.3"/>
<ellipse cx="409.35" cy="518.3" rx="5.55" ry="2.89" fill="#d98a4e" stroke="#a8602e" stroke-width="0.3"/>
<text x="409.35" y="513.41" font-size="5.2" text-anchor="middle" font-family="Liberation Serif" font-weight="bold" >2.5</text>
<path d="M416.2,521.2 L416.2,532.9 A5.25,2.73 0 0 0 426.7,532.9 L426.7,521.2 Z" fill="url(#g2)" stroke="#c4b574" stroke-width="0.3"/>
<ellipse cx="421.45" cy="521.2" rx="5.25" ry="2.73" fill="#f1e5a4" stroke="#c4b574" stroke-width="0.3"/>
<text x="421.45" y="516.47" font-size="5.2" text-anchor="middle" font-family="Liberation Serif" font-weight="bold" >1.3</text>
<path d="M428,523.8 L428,535 A5.65,2.94 0 0 0 439.3,535 L439.3,523.8 Z" fill="url(#g3)" stroke="#a8bfd0" stroke-width="0.3"/>
<ellipse cx="433.65" cy="523.8" rx="5.65" ry="2.94" fill="#d3e5f1" stroke="#a8bfd0" stroke-width="0.3"/>
<text x="433.65" y="518.86" font-size="5.2" text-anchor="middle" font-family="Liberation Serif" font-weight="bold" >0.5</text>
<path d="M440.6,521.7 L440.6,538.5 A5.55,2.89 0 0 0 451.7,538.5 L451.7,521.7 Z" fill="url(#g4)" stroke="#5f8fb8" stroke-width="0.3"/>
<ellipse cx="446.15" cy="521.7" rx="5.55" ry="2.89" fill="#8cb7dc" stroke="#5f8fb8" stroke-width="0.3"/>
<text x="446.15" y="516.81" font-size="5.2" text-anchor="middle" font-family="Liberation Serif" font-weight="bold" >3.7</text>
<path d="M453.8,518.3 L453.8,540.6 A5.75,2.99 0 0 0 465.3,540.6 L465.3,518.3 Z" fill="url(#g5)" stroke="#3b65a2" stroke-width="0.3"/>
<ellipse cx="459.55" cy="518.3" rx="5.75" ry="2.99" fill="#5a88c6" stroke="#3b65a2" stroke-width="0.3"/>
<text x="459.55" y="513.31" font-size="5.2" text-anchor="middle" font-family="Liberation Serif" font-weight="bold" >6.3</text>
<path d="M467.2,531 L467.2,542.5 A5.7,2.96 0 0 0 478.6,542.5 L478.6,531 Z" fill="url(#g6)" stroke="#161f60" stroke-width="0.3"/>
<ellipse cx="472.9" cy="531" rx="5.7" ry="2.96" fill="#27338c" stroke="#161f60" stroke-width="0.3"/>
<text x="472.9" y="526.04" font-size="5.2" text-anchor="middle" font-family="Liberation Serif" font-weight="bold" >1.0</text>
<path d="M511.5,504.2 L511.5,544.4 A6.05,3.15 0 0 0 523.6,544.4 L523.6,504.2 Z" fill="url(#g0)" stroke="#8e231d" stroke-width="0.3"/>
<ellipse cx="517.55" cy="504.2" rx="6.05" ry="3.15" fill="#c03a32" stroke="#8e231d" stroke-width="0.3"/>
<text x="517.55" y="499.05" font-size="5.2" text-anchor="middle" font-family="Liberation Serif" font-weight="bold" >22.9</text>
<path d="M524.1,532.5 L524.1,547 A4.85,2.52 0 0 0 533.8,547 L533.8,532.5 Z" fill="url(#g1)" stroke="#a8602e" stroke-width="0.3"/>
<ellipse cx="528.95" cy="532.5" rx="4.85" ry="2.52" fill="#d98a4e" stroke="#a8602e" stroke-width="0.3"/>
<text x="528.95" y="527.98" font-size="5.2" text-anchor="middle" font-family="Liberation Serif" font-weight="bold" >4.3</text>
<path d="M535.1,536.5 L535.1,548.3 A4.75,2.47 0 0 0 544.6,548.3 L544.6,536.5 Z" fill="url(#g2)" stroke="#c4b574" stroke-width="0.3"/>
<ellipse cx="539.85" cy="536.5" rx="4.75" ry="2.47" fill="#f1e5a4" stroke="#c4b574" stroke-width="0.3"/>
<text x="539.85" y="532.03" font-size="5.2" text-anchor="middle" font-family="Liberation Serif" font-weight="bold" >2.1</text>
<path d="M545.9,539.9 L545.9,550.4 A4.85,2.52 0 0 0 555.6,550.4 L555.6,539.9 Z" fill="url(#g3)" stroke="#a8bfd0" stroke-width="0.3"/>
<ellipse cx="550.75" cy="539.9" rx="4.85" ry="2.52" fill="#d3e5f1" stroke="#a8bfd0" stroke-width="0.3"/>
<text x="550.75" y="535.38" font-size="5.2" text-anchor="middle" font-family="Liberation Serif" font-weight="bold" >1.3</text>
<path d="M556.9,533.9 L556.9,552.3 A5.25,2.73 0 0 0 567.4,552.3 L567.4,533.9 Z" fill="url(#g4)" stroke="#5f8fb8" stroke-width="0.3"/>
<ellipse cx="562.15" cy="533.9" rx="5.25" ry="2.73" fill="#8cb7dc" stroke="#5f8fb8" stroke-width="0.3"/>
<text x="562.15" y="529.17" font-size="5.2" text-anchor="middle" font-family="Liberation Serif" font-weight="bold" >6.3</text>
<path d="M568.2,532.5 L568.2,553.6 A5.15,2.68 0 0 0 578.5,553.6 L578.5,532.5 Z" fill="url(#g5)" stroke="#3b65a2" stroke-width="0.3"/>
<ellipse cx="573.35" cy="532.5" rx="5.15" ry="2.68" fill="#5a88c6" stroke="#3b65a2" stroke-width="0.3"/>
<text x="573.35" y="527.82" font-size="5.2" text-anchor="middle" font-family="Liberation Serif" font-weight="bold" >8.1</text>
<path d="M580,543.6 L580,555.7 A4.9,2.55 0 0 0 589.8,555.7 L589.8,543.6 Z" fill="url(#g6)" stroke="#161f60" stroke-width="0.3"/>
<ellipse cx="584.9" cy="543.6" rx="4.9" ry="2.55" fill="#27338c" stroke="#161f60" stroke-width="0.3"/>
<text x="584.9" y="539.05" font-size="5.2" text-anchor="middle" font-family="Liberation Serif" font-weight="bold" >1.6</text>
<path d="M441.2,550.5 L441.2,598.3 A5.9,3.07 0 0 0 453,598.3 L453,550.5 Z" fill="url(#g0)" stroke="#8e231d" stroke-width="0.3"/>
<ellipse cx="447.1" cy="550.5" rx="5.9" ry="3.07" fill="#c03a32" stroke="#8e231d" stroke-width="0.3"/>
<text x="447.1" y="545.43" font-size="5.2" text-anchor="middle" font-family="Liberation Serif" font-weight="bold" >33.9</text>
<path d="M453.8,588.6 L453.8,599.9 A5.1,2.65 0 0 0 464,599.9 L464,588.6 Z" fill="url(#g1)" stroke="#a8602e" stroke-width="0.3"/>
<ellipse cx="458.9" cy="588.6" rx="5.1" ry="2.65" fill="#d98a4e" stroke="#a8602e" stroke-width="0.3"/>
<text x="458.9" y="583.95" font-size="5.2" text-anchor="middle" font-family="Liberation Serif" font-weight="bold" >3.4</text>
<path d="M465.3,591.2 L465.3,602.5 A5.25,2.73 0 0 0 475.8,602.5 L475.8,591.2 Z" fill="url(#g2)" stroke="#c4b574" stroke-width="0.3"/>
<ellipse cx="470.55" cy="591.2" rx="5.25" ry="2.73" fill="#f1e5a4" stroke="#c4b574" stroke-width="0.3"/>
<text x="470.55" y="586.47" font-size="5.2" text-anchor="middle" font-family="Liberation Serif" font-weight="bold" >2.4</text>
<path d="M477.2,595.2 L477.2,604.4 A4.95,2.57 0 0 0 487.1,604.4 L487.1,595.2 Z" fill="url(#g3)" stroke="#a8bfd0" stroke-width="0.3"/>
<ellipse cx="482.15" cy="595.2" rx="4.95" ry="2.57" fill="#d3e5f1" stroke="#a8bfd0" stroke-width="0.3"/>
<text x="482.15" y="590.63" font-size="5.2" text-anchor="middle" font-family="Liberation Serif" font-weight="bold" >0.7</text>
<path d="M488.4,582 L488.4,607 A5.3,2.76 0 0 0 499,607 L499,582 Z" fill="url(#g4)" stroke="#5f8fb8" stroke-width="0.3"/>
<ellipse cx="493.7" cy="582" rx="5.3" ry="2.76" fill="#8cb7dc" stroke="#5f8fb8" stroke-width="0.3"/>
<text x="493.7" y="577.24" font-size="5.2" text-anchor="middle" font-family="Liberation Serif" font-weight="bold" >13.8</text>
<path d="M500.3,588.6 L500.3,608.8 A5.25,2.73 0 0 0 510.8,608.8 L510.8,588.6 Z" fill="url(#g5)" stroke="#3b65a2" stroke-width="0.3"/>
<ellipse cx="505.55" cy="588.6" rx="5.25" ry="2.73" fill="#5a88c6" stroke="#3b65a2" stroke-width="0.3"/>
<text x="505.55" y="583.87" font-size="5.2" text-anchor="middle" font-family="Liberation Serif" font-weight="bold" >9.6</text>
<path d="M512.4,598.9 L512.4,610.7 A4.85,2.52 0 0 0 522.1,610.7 L522.1,598.9 Z" fill="url(#g6)" stroke="#161f60" stroke-width="0.3"/>
<ellipse cx="517.25" cy="598.9" rx="4.85" ry="2.52" fill="#27338c" stroke="#161f60" stroke-width="0.3"/>
<text x="517.25" y="594.38" font-size="5.2" text-anchor="middle" font-family="Liberation Serif" font-weight="bold" >2.2</text>
<path d="M480.6,614.9 L480.6,650.4 A5.65,2.94 0 0 0 491.9,650.4 L491.9,614.9 Z" fill="url(#g0)" stroke="#8e231d" stroke-width="0.3"/>
<ellipse cx="486.25" cy="614.9" rx="5.65" ry="2.94" fill="#c03a32" stroke="#8e231d" stroke-width="0.3"/>
<text x="486.25" y="609.96" font-size="5.2" text-anchor="middle" font-family="Liberation Serif" font-weight="bold" >10.8</text>
<path d="M492.9,639.3 L492.9,652.5 A4.75,2.47 0 0 0 502.4,652.5 L502.4,639.3 Z" fill="url(#g1)" stroke="#a8602e" stroke-width="0.3"/>
<ellipse cx="497.65" cy="639.3" rx="4.75" ry="2.47" fill="#d98a4e" stroke="#a8602e" stroke-width="0.3"/>
<text x="497.65" y="634.83" font-size="5.2" text-anchor="middle" font-family="Liberation Serif" font-weight="bold" >3.9</text>
<path d="M503.4,645.1 L503.4,654.3 A5,2.6 0 0 0 513.4,654.3 L513.4,645.1 Z" fill="url(#g2)" stroke="#c4b574" stroke-width="0.3"/>
<ellipse cx="508.4" cy="645.1" rx="5" ry="2.6" fill="#f1e5a4" stroke="#c4b574" stroke-width="0.3"/>
<text x="508.4" y="640.5" font-size="5.2" text-anchor="middle" font-family="Liberation Serif" font-weight="bold" >1.5</text>
<path d="M514.2,649.6 L514.2,655.4 A4.85,2.52 0 0 0 523.9,655.4 L523.9,649.6 Z" fill="url(#g3)" stroke="#a8bfd0" stroke-width="0.3"/>
<ellipse cx="519.05" cy="649.6" rx="4.85" ry="2.52" fill="#d3e5f1" stroke="#a8bfd0" stroke-width="0.3"/>
<text x="519.05" y="645.08" font-size="5.2" text-anchor="middle" font-family="Liberation Serif" font-weight="bold" >0.3</text>
<path d="M525.2,643.5 L525.2,656.7 A4.6,2.39 0 0 0 534.4,656.7 L534.4,643.5 Z" fill="url(#g4)" stroke="#5f8fb8" stroke-width="0.3"/>
<ellipse cx="529.8" cy="643.5" rx="4.6" ry="2.39" fill="#8cb7dc" stroke="#5f8fb8" stroke-width="0.3"/>
<text x="529.8" y="639.11" font-size="5.2" text-anchor="middle" font-family="Liberation Serif" font-weight="bold" >3.2</text>
<path d="M536,638.8 L536,658 A5.15,2.68 0 0 0 546.3,658 L546.3,638.8 Z" fill="url(#g5)" stroke="#3b65a2" stroke-width="0.3"/>
<ellipse cx="541.15" cy="638.8" rx="5.15" ry="2.68" fill="#5a88c6" stroke="#3b65a2" stroke-width="0.3"/>
<text x="541.15" y="634.12" font-size="5.2" text-anchor="middle" font-family="Liberation Serif" font-weight="bold" >6.7</text>
<path d="M547.8,652.7 L547.8,659.8 A4.85,2.52 0 0 0 557.5,659.8 L557.5,652.7 Z" fill="url(#g6)" stroke="#161f60" stroke-width="0.3"/>
<ellipse cx="552.65" cy="652.7" rx="4.85" ry="2.52" fill="#27338c" stroke="#161f60" stroke-width="0.3"/>
<text x="552.65" y="648.18" font-size="5.2" text-anchor="middle" font-family="Liberation Serif" font-weight="bold" >0.7</text>
<text x="437" y="504.9" font-size="8.7" text-anchor="start" font-family="Liberation Serif" font-weight="bold" >GZ</text>
<text x="542" y="523.2" font-size="8.7" text-anchor="start" font-family="Liberation Serif" font-weight="bold" >HZ</text>
<text x="468" y="580.6" font-size="8.7" text-anchor="start" font-family="Liberation Serif" font-weight="bold" >DG</text>
<text x="499" y="625.8" font-size="8.7" text-anchor="start" font-family="Liberation Serif" font-weight="bold" >SZ</text>
<text x="372.6" y="457.8" font-size="13.2" text-anchor="start" font-family="Liberation Serif" font-weight="bold" >(f)</text>
<rect x="368.4" y="478.6" width="12.3" height="6.2" fill="#c03a32" stroke="#8e231d" stroke-width="0.3"/>
<text x="382.9" y="484.9" font-size="7.8" text-anchor="start" font-family="Liberation Serif" font-weight="bold" textLength="22.6" lengthAdjust="spacingAndGlyphs">Alkanes</text>
<rect x="409.6" y="478.6" width="13.2" height="6.2" fill="#d98a4e" stroke="#a8602e" stroke-width="0.3"/>
<text x="424.3" y="484.9" font-size="7.8" text-anchor="start" font-family="Liberation Serif" font-weight="bold" textLength="22.2" lengthAdjust="spacingAndGlyphs">Alkenes</text>
<rect x="451.1" y="478.6" width="12.4" height="6.2" fill="#f1e5a4" stroke="#c4b574" stroke-width="0.3"/>
<text x="466.4" y="484.9" font-size="7.8" text-anchor="start" font-family="Liberation Serif" font-weight="bold" textLength="19" lengthAdjust="spacingAndGlyphs">Alkyne</text>
<rect x="490.3" y="478.6" width="12.6" height="6.2" fill="#d3e5f1" stroke="#a8bfd0" stroke-width="0.3"/>
<text x="504.8" y="484.9" font-size="7.8" text-anchor="start" font-family="Liberation Serif" font-weight="bold" textLength="20.2" lengthAdjust="spacingAndGlyphs">Sulfide</text>
<rect x="529.2" y="478.6" width="12.6" height="6.2" fill="#8cb7dc" stroke="#5f8fb8" stroke-width="0.3"/>
<text x="543.6" y="484.9" font-size="7.8" text-anchor="start" font-family="Liberation Serif" font-weight="bold" textLength="29.4" lengthAdjust="spacingAndGlyphs">Aromatics</text>
<rect x="577.3" y="478.6" width="12.6" height="6.2" fill="#5a88c6" stroke="#3b65a2" stroke-width="0.3"/>
<text x="591.5" y="484.9" font-size="7.8" text-anchor="start" font-family="Liberation Serif" font-weight="bold" textLength="36.4" lengthAdjust="spacingAndGlyphs">Halogenated</text>
<rect x="631.9" y="478.6" width="12.4" height="6.2" fill="#27338c" stroke="#161f60" stroke-width="0.3"/>
<text x="646.4" y="484.9" font-size="7.8" text-anchor="start" font-family="Liberation Serif" font-weight="bold" textLength="22.4" lengthAdjust="spacingAndGlyphs">OVOCs</text>
<circle cx="614.8" cy="457.6" r="11.4" fill="none" stroke="#111" stroke-width="1.7"/>
<circle cx="614.8" cy="457.6" r="12.4" fill="none" stroke="#111" stroke-width="0.4" stroke-dasharray="0.6,2.2"/>
<polygon points="614.8,457.6 622.22,465.02 613.1,459.3" fill="#111" stroke="#111" stroke-width="0.3"/>
<polygon points="614.8,457.6 622.22,465.02 616.5,455.9" fill="#fff" stroke="#111" stroke-width="0.3"/>
<polygon points="614.8,457.6 607.38,465.02 613.1,455.9" fill="#111" stroke="#111" stroke-width="0.3"/>
<polygon points="614.8,457.6 607.38,465.02 616.5,459.3" fill="#fff" stroke="#111" stroke-width="0.3"/>
<polygon points="614.8,457.6 607.38,450.18 616.5,455.9" fill="#111" stroke="#111" stroke-width="0.3"/>
<polygon points="614.8,457.6 607.38,450.18 613.1,459.3" fill="#fff" stroke="#111" stroke-width="0.3"/>
<polygon points="614.8,457.6 622.22,450.18 616.5,459.3" fill="#111" stroke="#111" stroke-width="0.3"/>
<polygon points="614.8,457.6 622.22,450.18 613.1,455.9" fill="#fff" stroke="#111" stroke-width="0.3"/>
<polygon points="614.8,457.6 628.8,457.6 614.8,460.6" fill="#111" stroke="#111" stroke-width="0.3"/>
<polygon points="614.8,457.6 628.8,457.6 614.8,454.6" fill="#fff" stroke="#111" stroke-width="0.3"/>
<polygon points="614.8,457.6 614.8,471.6 611.8,457.6" fill="#111" stroke="#111" stroke-width="0.3"/>
<polygon points="614.8,457.6 614.8,471.6 617.8,457.6" fill="#fff" stroke="#111" stroke-width="0.3"/>
<polygon points="614.8,457.6 600.8,457.6 614.8,454.6" fill="#111" stroke="#111" stroke-width="0.3"/>
<polygon points="614.8,457.6 600.8,457.6 614.8,460.6" fill="#fff" stroke="#111" stroke-width="0.3"/>
<polygon points="614.8,457.6 614.8,443.6 617.8,457.6" fill="#111" stroke="#111" stroke-width="0.3"/>
<polygon points="614.8,457.6 614.8,443.6 611.8,457.6" fill="#fff" stroke="#111" stroke-width="0.3"/>
<text x="614.8" y="441.8" font-size="8.6" text-anchor="middle" font-family="Liberation Serif">N</text>
<text x="614.8" y="480.2" font-size="8.6" text-anchor="middle" font-family="Liberation Serif">S</text>
<text x="597.2" y="460.4" font-size="8.6" text-anchor="middle" font-family="Liberation Serif">W</text>
<text x="632.6" y="460.8" font-size="8.6" text-anchor="middle" font-family="Liberation Serif">E</text>
<path d="M346.6,643.3 L365,643.3" fill="none" stroke="#9fcfe0" stroke-width="1.0" stroke-linejoin="round" />
<text x="368.9" y="647" font-size="10" text-anchor="start" font-family="Liberation Serif" font-weight="bold" >River</text>
<polygon points="355.8,652.3 356.94,655.34 360.17,655.48 357.64,657.5 358.5,660.62 355.8,658.83 353.1,660.62 353.96,657.5 351.43,655.48 354.66,655.34" fill="#ee1c1c"/>
<text x="368.9" y="660.8" font-size="10" text-anchor="start" font-family="Liberation Serif" font-weight="bold" >Residential Point</text>
<rect x="582" y="656.2" width="81.2" height="3.6" fill="#fff" stroke="#111" stroke-width="0.8"/>
<rect x="582" y="656.2" width="5.08" height="3.6" fill="#111"/>
<rect x="592.15" y="656.2" width="5.08" height="3.6" fill="#111"/>
<rect x="602.3" y="656.2" width="20.3" height="3.6" fill="#111"/>
<rect x="642.9" y="656.2" width="20.3" height="3.6" fill="#111"/>
<rect x="587.08" y="656.2" width="5.07" height="1.8" fill="#111"/>
<rect x="597.23" y="656.2" width="5.07" height="1.8" fill="#111"/>
<rect x="622.6" y="656.2" width="20.3" height="1.8" fill="#111"/>
<text x="582" y="652.6" font-size="7.4" text-anchor="middle" font-family="Liberation Serif" font-weight="bold" >0</text>
<text x="592.15" y="652.6" font-size="7.4" text-anchor="middle" font-family="Liberation Serif" font-weight="bold" >5</text>
<text x="602.3" y="652.6" font-size="7.4" text-anchor="middle" font-family="Liberation Serif" font-weight="bold" >10</text>
<text x="622.6" y="652.6" font-size="7.4" text-anchor="middle" font-family="Liberation Serif" font-weight="bold" >20</text>
<text x="642.9" y="652.6" font-size="7.4" text-anchor="middle" font-family="Liberation Serif" font-weight="bold" >30</text>
<text x="663.2" y="652.6" font-size="7.4" text-anchor="middle" font-family="Liberation Serif" font-weight="bold" >40</text>
<text x="665.3" y="660" font-size="7.6" text-anchor="start" font-family="Liberation Serif" font-weight="bold" >Miles</text>
</svg></body></html>
